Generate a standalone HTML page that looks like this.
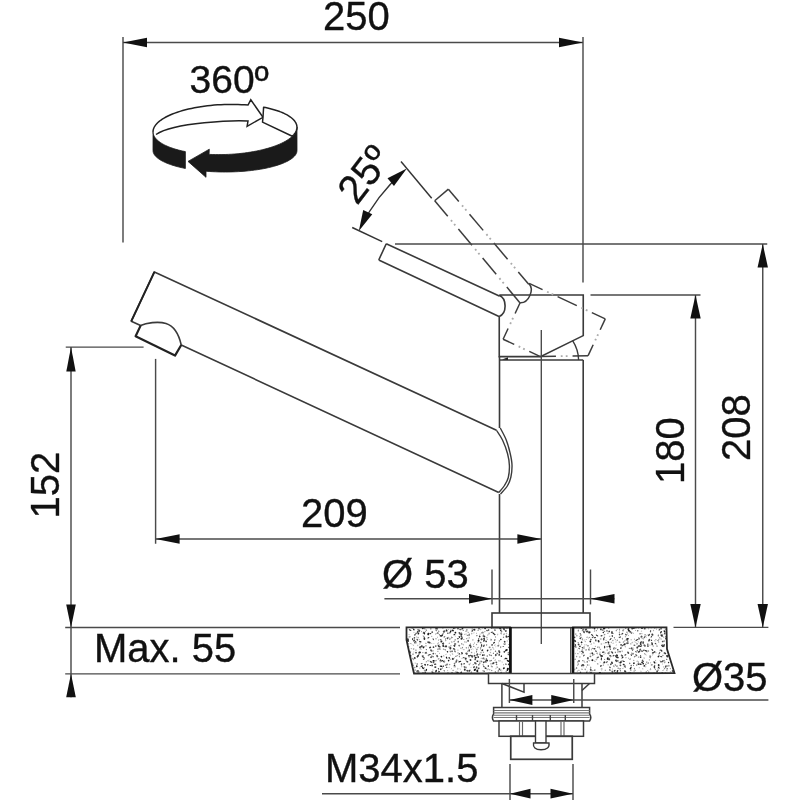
<!DOCTYPE html>
<html><head><meta charset="utf-8"><style>
html,body{margin:0;padding:0;background:#fff;}
svg{display:block;font-family:"Liberation Sans", sans-serif;will-change:transform;}
</style></head><body>
<svg width="800" height="800" viewBox="0 0 800 800">
<rect width="800" height="800" fill="#fff"/>
<line x1="123.00" y1="37.00" x2="123.00" y2="242.50" stroke="#4a4a4a" stroke-width="1.44" />
<line x1="583.00" y1="37.00" x2="583.00" y2="282.50" stroke="#4a4a4a" stroke-width="1.44" />
<line x1="123.00" y1="42.50" x2="583.00" y2="42.50" stroke="#4a4a4a" stroke-width="1.44" />
<polygon points="123.00,42.50 147.00,37.80 147.00,47.20" fill="#111"/>
<polygon points="583.00,42.50 559.00,47.20 559.00,37.80" fill="#111"/>
<text x="323" y="30" font-size="40" fill="#111" stroke="#111" stroke-width="0.35" text-anchor="start">250</text>
<text x="189.5" y="92.5" font-size="39" fill="#111" stroke="#111" stroke-width="0.35" text-anchor="start">360º</text>
<polygon points="296.96,126.99 296.92,128.12 296.74,129.25 296.41,130.38 295.94,131.52 295.32,132.64 294.56,133.77 293.66,134.88 292.62,135.98 291.44,137.07 290.12,138.14 288.67,139.20 287.10,140.23 285.39,141.25 283.56,142.24 281.62,143.20 279.55,144.14 277.38,145.04 275.10,145.92 272.71,146.76 270.23,147.57 267.66,148.33 265.00,149.06 262.26,149.76 259.44,150.40 256.55,151.01 253.60,151.57 250.59,152.09 247.53,152.56 244.42,152.99 241.27,153.37 238.09,153.69 234.88,153.97 231.66,154.20 228.41,154.38 225.17,154.51 221.92,154.59 218.67,154.61 215.44,154.59 212.23,154.51 209.05,154.38 209.30,149.20 188.00,161.40 206.00,177.30 206.00,171.24 209.21,171.48 212.45,171.67 215.72,171.82 219.01,171.93 222.31,171.99 225.62,172.00 228.93,171.97 232.23,171.89 235.51,171.77 238.77,171.60 242.00,171.39 245.20,171.14 248.35,170.84 251.45,170.50 254.50,170.11 257.49,169.69 260.40,169.22 263.24,168.72 266.01,168.17 268.68,167.59 271.26,166.97 273.75,166.32 276.13,165.64 278.41,164.92 280.57,164.17 282.61,163.40 284.53,162.59 286.33,161.76 288.00,160.91 289.53,160.03 290.93,159.14 292.19,158.23 293.31,157.30 294.28,156.35 295.11,155.40 295.79,154.43 296.32,153.45 296.70,152.47 296.92,151.49 297.00,150.50 296.96,126.99" fill="#1a1a1a" stroke="#1a1a1a" stroke-width="0.8" stroke-linejoin="round"/>
<polygon points="185.37,151.60 183.92,151.30 182.49,150.99 181.09,150.66 179.71,150.33 178.36,149.98 177.04,149.62 175.74,149.25 174.48,148.86 173.24,148.47 172.04,148.06 170.87,147.64 169.73,147.21 168.62,146.78 167.55,146.33 166.51,145.87 165.50,145.40 164.53,144.92 163.60,144.43 162.70,143.93 161.84,143.43 161.02,142.91 160.24,142.39 159.49,141.86 158.78,141.33 158.12,140.78 157.49,140.23 156.90,139.68 156.35,139.11 155.85,138.55 155.38,137.97 154.96,137.39 154.58,136.81 154.24,136.22 153.94,135.63 153.68,135.03 153.47,134.43 153.30,133.83 153.17,133.23 153.09,132.62 153.04,132.01 153.00,150.50 153.02,151.03 153.09,151.56 153.20,152.09 153.35,152.62 153.55,153.15 153.79,153.67 154.07,154.20 154.40,154.72 154.77,155.24 155.19,155.76 155.64,156.27 156.14,156.78 156.68,157.29 157.26,157.79 157.89,158.28 158.55,158.78 159.26,159.27 160.00,159.75 160.78,160.22 161.61,160.69 162.47,161.16 163.37,161.62 164.31,162.07 165.29,162.51 166.30,162.95 167.34,163.38 168.43,163.80 169.54,164.21 170.70,164.62 171.88,165.01 173.10,165.40 174.34,165.78 175.62,166.15 176.93,166.51 178.27,166.86 179.64,167.20 181.03,167.53 182.46,167.85 183.90,168.15 185.38,168.45" fill="#1a1a1a" stroke="#1a1a1a" stroke-width="0.8"/>
<path d="M153.04,132.01 L153.08,130.82 L153.29,129.62 L153.66,128.42 L154.18,127.23 L154.88,126.04 L155.73,124.86 L156.73,123.68 L157.90,122.53 L159.21,121.38 L160.68,120.26 L162.29,119.16 L164.05,118.08 L165.94,117.02 L167.97,116.00 L170.13,115.00 L172.41,114.04 L174.81,113.12 L177.33,112.23 L179.95,111.38 L182.68,110.57 L185.51,109.80 L188.42,109.08 L191.42,108.41 L194.49,107.78 L197.63,107.21 L200.84,106.68 L204.10,106.21 L207.41,105.79 L210.76,105.42 L214.14,105.11 L217.54,104.85 L220.96,104.65 L224.40,104.51 L227.83,104.42 L231.26,104.39 L234.67,104.42 L238.06,104.50 L241.42,104.64 L244.74,104.84 L248.02,105.09 L250.80,99.80 L263.00,117.30 L247.10,126.30 L248.00,121.00 C 235,120.3 175,122 156,134.5" fill="none" stroke="#222" stroke-width="1.49" stroke-linejoin="miter"/>
<polygon points="263.59,107.20 265.57,107.60 267.52,108.01 269.42,108.46 271.26,108.92 273.06,109.41 274.81,109.92 276.50,110.45 278.13,111.00 279.71,111.57 281.23,112.16 282.68,112.77 284.07,113.40 285.40,114.05 286.66,114.71 287.86,115.39 288.98,116.09 290.04,116.80 291.02,117.52 291.93,118.26 292.77,119.01 293.53,119.77 294.22,120.54 294.83,121.32 295.37,122.11 295.83,122.91 296.21,123.71 296.52,124.52 296.74,125.34 296.89,126.16 296.96,126.99 296.96,126.99 296.94,127.92 296.82,128.86 296.60,129.80 296.28,130.74 295.86,131.67 295.35,132.61 294.73,133.54 294.02,134.46 293.21,135.38 292.30,136.29 262.50,122.10 263.00,117.30" fill="#fff" stroke="#222" stroke-width="1.49" stroke-linejoin="round"/>
<path d="M360.92,226.79 A182,182 0 0 1 403.20,171.69" fill="none" stroke="#333" stroke-width="1.38"/>
<polygon points="406.81,168.58 393.94,185.91 387.51,178.25" fill="#111"/>
<polygon points="358.85,231.08 363.20,209.94 372.26,214.16" fill="#111"/>
<line x1="401.00" y1="161.50" x2="431.70" y2="198.20" stroke="#333" stroke-width="1.44" />
<line x1="352.20" y1="227.50" x2="382.20" y2="241.70" stroke="#333" stroke-width="1.44" />
<text x="357" y="206" font-size="40" fill="#111" stroke="#111" stroke-width="0.35" text-anchor="start" transform="rotate(-52.5 357 206)">25º</text>
<path d="M386.25,243.75 L499.25,296 M378.75,260 L499.0,316.4 M386.25,243.75 L378.75,260 M499.25,295.5 C506.5,298 507.5,313 499.25,316.4 M499.25,295 L583.25,295 L583.25,335.6 L540.4,356.6 L499.25,356.6 L499.25,316.4" fill="none" stroke="#3a3a3a" stroke-width="1.61"/>
<g transform="rotate(25 540.4 356.6)">
<line x1="405.43" y1="252.62" x2="407.06" y2="253.37" stroke="#aaa" stroke-width="1.84"/>
<line x1="409.95" y1="254.71" x2="411.58" y2="255.46" stroke="#aaa" stroke-width="1.84"/>
<line x1="439.74" y1="268.48" x2="441.37" y2="269.24" stroke="#aaa" stroke-width="1.84"/>
<line x1="444.26" y1="270.57" x2="445.89" y2="271.33" stroke="#aaa" stroke-width="1.84"/>
<line x1="474.05" y1="284.35" x2="475.68" y2="285.10" stroke="#aaa" stroke-width="1.84"/>
<line x1="478.57" y1="286.44" x2="480.20" y2="287.19" stroke="#aaa" stroke-width="1.84"/>
<line x1="386.25" y1="243.75" x2="400.91" y2="250.53" stroke="#3c3c3c" stroke-width="1.49" />
<line x1="415.97" y1="257.49" x2="435.22" y2="266.39" stroke="#3c3c3c" stroke-width="1.49" />
<line x1="450.28" y1="273.36" x2="469.53" y2="282.26" stroke="#3c3c3c" stroke-width="1.49" />
<line x1="484.59" y1="289.22" x2="499.25" y2="296.00" stroke="#3c3c3c" stroke-width="1.49" />
<line x1="401.65" y1="270.74" x2="403.28" y2="271.50" stroke="#aaa" stroke-width="1.84"/>
<line x1="406.16" y1="272.85" x2="407.78" y2="273.62" stroke="#aaa" stroke-width="1.84"/>
<line x1="435.87" y1="286.79" x2="437.50" y2="287.55" stroke="#aaa" stroke-width="1.84"/>
<line x1="440.38" y1="288.90" x2="442.01" y2="289.67" stroke="#aaa" stroke-width="1.84"/>
<line x1="470.09" y1="302.84" x2="471.72" y2="303.61" stroke="#aaa" stroke-width="1.84"/>
<line x1="474.60" y1="304.96" x2="476.23" y2="305.72" stroke="#aaa" stroke-width="1.84"/>
<line x1="378.75" y1="260.00" x2="397.14" y2="268.62" stroke="#3c3c3c" stroke-width="1.49" />
<line x1="412.17" y1="275.67" x2="431.36" y2="284.68" stroke="#3c3c3c" stroke-width="1.49" />
<line x1="446.39" y1="291.72" x2="465.58" y2="300.73" stroke="#3c3c3c" stroke-width="1.49" />
<line x1="480.61" y1="307.78" x2="499.00" y2="316.40" stroke="#3c3c3c" stroke-width="1.49" />
<line x1="386.25" y1="243.75" x2="378.75" y2="260.00" stroke="#3c3c3c" stroke-width="1.49" />
<path d="M499.25,295.5 C506.5,298 507.5,313 499.25,316.4" fill="none" stroke="#3c3c3c" stroke-width="1.49"/>
<line x1="519.03" y1="295.00" x2="520.83" y2="295.00" stroke="#aaa" stroke-width="1.84"/>
<line x1="524.01" y1="295.00" x2="525.81" y2="295.00" stroke="#aaa" stroke-width="1.84"/>
<line x1="556.83" y1="295.00" x2="558.63" y2="295.00" stroke="#aaa" stroke-width="1.84"/>
<line x1="561.81" y1="295.00" x2="563.61" y2="295.00" stroke="#aaa" stroke-width="1.84"/>
<line x1="499.25" y1="295.00" x2="514.05" y2="295.00" stroke="#3c3c3c" stroke-width="1.49" />
<line x1="530.65" y1="295.00" x2="551.85" y2="295.00" stroke="#3c3c3c" stroke-width="1.49" />
<line x1="568.45" y1="295.00" x2="583.25" y2="295.00" stroke="#3c3c3c" stroke-width="1.49" />
<line x1="583.25" y1="311.98" x2="583.25" y2="313.78" stroke="#aaa" stroke-width="1.84"/>
<line x1="583.25" y1="316.96" x2="583.25" y2="318.76" stroke="#aaa" stroke-width="1.84"/>
<line x1="583.25" y1="295.00" x2="583.25" y2="307.00" stroke="#3c3c3c" stroke-width="1.49" />
<line x1="583.25" y1="323.60" x2="583.25" y2="335.60" stroke="#3c3c3c" stroke-width="1.49" />
<line x1="564.81" y1="344.64" x2="563.19" y2="345.43" stroke="#aaa" stroke-width="1.84"/>
<line x1="560.33" y1="346.83" x2="558.72" y2="347.62" stroke="#aaa" stroke-width="1.84"/>
<line x1="583.25" y1="335.60" x2="569.28" y2="342.45" stroke="#3c3c3c" stroke-width="1.49" />
<line x1="554.37" y1="349.75" x2="540.40" y2="356.60" stroke="#3c3c3c" stroke-width="1.49" />
<line x1="523.14" y1="356.60" x2="521.35" y2="356.60" stroke="#aaa" stroke-width="1.84"/>
<line x1="518.16" y1="356.60" x2="516.37" y2="356.60" stroke="#aaa" stroke-width="1.84"/>
<line x1="540.40" y1="356.60" x2="528.12" y2="356.60" stroke="#3c3c3c" stroke-width="1.49" />
<line x1="511.52" y1="356.60" x2="499.25" y2="356.60" stroke="#3c3c3c" stroke-width="1.49" />
<line x1="499.25" y1="339.82" x2="499.25" y2="338.02" stroke="#aaa" stroke-width="1.84"/>
<line x1="499.25" y1="334.84" x2="499.25" y2="333.04" stroke="#aaa" stroke-width="1.84"/>
<line x1="499.25" y1="356.60" x2="499.25" y2="344.80" stroke="#3c3c3c" stroke-width="1.49" />
<line x1="499.25" y1="328.20" x2="499.25" y2="316.40" stroke="#3c3c3c" stroke-width="1.49" />
</g>
<path d="M572.6,340.6 A37,37 0 0 1 578.6,360" fill="none" stroke="#3a3a3a" stroke-width="1.38"/>
<line x1="499.50" y1="360.00" x2="583.20" y2="360.00" stroke="#3a3a3a" stroke-width="1.61" />
<line x1="499.50" y1="356.00" x2="499.50" y2="428.00" stroke="#3a3a3a" stroke-width="1.61" />
<polygon points="502,359.5 508,357.2 508,360" fill="#222"/>
<line x1="499.50" y1="494.00" x2="499.50" y2="613.00" stroke="#3a3a3a" stroke-width="1.61" />
<line x1="583.20" y1="360.00" x2="583.20" y2="613.00" stroke="#3a3a3a" stroke-width="1.61" />
<line x1="541.30" y1="330.00" x2="541.30" y2="644.00" stroke="#4a4a4a" stroke-width="1.38" />
<path d="M496.5,430.25 L154.4,271.9 L131.25,321.25 L140.6,325.6 C146,323 158,321 166,323.5 C174,326 179,335 181.25,345 L498.75,492.5" fill="none" stroke="#3a3a3a" stroke-width="1.61" stroke-linejoin="round"/>
<line x1="154.40" y1="271.90" x2="131.25" y2="321.25" stroke="#222" stroke-width="1.9" />
<path d="M140.6,325.6 L135.6,336.25 L175,355.6 L181.25,345" fill="none" stroke="#222" stroke-width="2.2" stroke-linejoin="round"/>
<path d="M496.50,430.25 C497.50,431.88 500.67,436.12 502.50,440.00 C504.33,443.88 506.35,449.25 507.50,453.50 C508.65,457.75 509.27,461.50 509.40,465.50 C509.53,469.50 509.12,474.17 508.30,477.50 C507.48,480.83 506.09,483.00 504.50,485.50 C502.91,488.00 499.71,491.33 498.75,492.50 " fill="none" stroke="#3a3a3a" stroke-width="1.38"/>
<path d="M500.25,428.00 C501.25,430.00 504.59,435.75 506.25,440.00 C507.91,444.25 509.24,449.33 510.20,453.50 C511.16,457.67 511.88,461.08 512.00,465.00 C512.12,468.92 511.68,473.50 510.90,477.00 C510.12,480.50 509.03,483.17 507.30,486.00 C505.57,488.83 501.63,492.67 500.50,494.00 " fill="none" stroke="#3a3a3a" stroke-width="1.38"/>
<line x1="155.60" y1="358.90" x2="155.60" y2="543.75" stroke="#4a4a4a" stroke-width="1.44" />
<line x1="155.60" y1="539.00" x2="541.40" y2="539.00" stroke="#4a4a4a" stroke-width="1.44" />
<polygon points="155.60,539.00 179.60,534.20 179.60,543.80" fill="#111"/>
<polygon points="541.40,539.00 517.40,543.80 517.40,534.20" fill="#111"/>
<text x="301" y="527" font-size="40" fill="#111" stroke="#111" stroke-width="0.35" text-anchor="start">209</text>
<line x1="65.75" y1="347.10" x2="143.60" y2="347.10" stroke="#4a4a4a" stroke-width="1.44" />
<line x1="71.00" y1="347.10" x2="71.00" y2="697.25" stroke="#4a4a4a" stroke-width="1.44" />
<polygon points="71.00,347.10 75.70,371.60 66.30,371.60" fill="#111"/>
<polygon points="71.00,627.50 66.20,604.50 75.80,604.50" fill="#111"/>
<polygon points="71.00,673.70 75.80,697.20 66.20,697.20" fill="#111"/>
<line x1="65.20" y1="627.50" x2="400.00" y2="627.50" stroke="#4a4a4a" stroke-width="1.44" />
<line x1="65.20" y1="673.90" x2="400.00" y2="673.90" stroke="#4a4a4a" stroke-width="1.44" />
<text x="59" y="518.5" font-size="40" fill="#111" stroke="#111" stroke-width="0.35" text-anchor="start" transform="rotate(-90 59 518.5)">152</text>
<text x="94" y="662" font-size="40" fill="#111" stroke="#111" stroke-width="0.35" text-anchor="start">Max. 55</text>
<line x1="395.00" y1="244.00" x2="767.25" y2="244.00" stroke="#4a4a4a" stroke-width="1.44" />
<line x1="590.50" y1="295.00" x2="700.50" y2="295.00" stroke="#4a4a4a" stroke-width="1.44" />
<line x1="673.50" y1="627.40" x2="768.40" y2="627.40" stroke="#4a4a4a" stroke-width="1.44" />
<line x1="762.75" y1="244.00" x2="762.75" y2="627.40" stroke="#4a4a4a" stroke-width="1.44" />
<line x1="695.50" y1="295.00" x2="695.50" y2="627.40" stroke="#4a4a4a" stroke-width="1.44" />
<polygon points="762.75,244.00 767.95,267.50 757.55,267.50" fill="#111"/>
<polygon points="762.75,627.40 757.55,603.90 767.95,603.90" fill="#111"/>
<polygon points="695.50,295.00 700.70,318.50 690.30,318.50" fill="#111"/>
<polygon points="695.50,627.40 690.30,603.90 700.70,603.90" fill="#111"/>
<text x="683.5" y="484" font-size="40" fill="#111" stroke="#111" stroke-width="0.35" text-anchor="start" transform="rotate(-90 683.5 484)">180</text>
<text x="750" y="461" font-size="40" fill="#111" stroke="#111" stroke-width="0.35" text-anchor="start" transform="rotate(-90 750 461)">208</text>
<line x1="384.40" y1="598.80" x2="614.40" y2="598.80" stroke="#4a4a4a" stroke-width="1.44" />
<line x1="492.00" y1="569.60" x2="492.00" y2="604.60" stroke="#4a4a4a" stroke-width="1.44" />
<line x1="590.50" y1="569.50" x2="590.50" y2="604.40" stroke="#4a4a4a" stroke-width="1.44" />
<polygon points="492.00,598.80 469.00,603.60 469.00,594.00" fill="#111"/>
<polygon points="590.50,598.80 614.50,594.00 614.50,603.60" fill="#111"/>
<text x="382" y="587.5" font-size="40" fill="#111" stroke="#111" stroke-width="0.35" text-anchor="start">Ø 53</text>
<rect x="492" y="613" width="98" height="14.6" fill="none" stroke="#3a3a3a" stroke-width="1.61"/>
<clipPath id="cl1"><polygon points="406.50,627.30 510.00,627.30 510.00,673.50 414.00,673.50 410.00,656.00 406.50,640.00"/></clipPath>
<g clip-path="url(#cl1)">
<ellipse cx="400.8" cy="625.4" rx="0.5" ry="0.6" transform="rotate(105 400.8 625.4)" fill="rgb(156,156,156)"/>
<ellipse cx="405.0" cy="625.6" rx="1.0" ry="0.7" transform="rotate(76 405.0 625.6)" fill="rgb(90,90,90)"/>
<ellipse cx="407.3" cy="625.3" rx="1.2" ry="1.0" transform="rotate(105 407.3 625.3)" fill="rgb(93,93,93)"/>
<ellipse cx="407.9" cy="625.6" rx="0.6" ry="0.6" transform="rotate(21 407.9 625.6)" fill="rgb(179,179,179)"/>
<ellipse cx="411.2" cy="627.1" rx="1.2" ry="0.8" transform="rotate(18 411.2 627.1)" fill="rgb(67,67,67)"/>
<ellipse cx="414.9" cy="626.5" rx="0.8" ry="0.6" transform="rotate(84 414.9 626.5)" fill="rgb(150,150,150)"/>
<ellipse cx="418.0" cy="625.9" rx="0.8" ry="0.9" transform="rotate(103 418.0 625.9)" fill="rgb(30,30,30)"/>
<ellipse cx="419.6" cy="627.3" rx="0.7" ry="0.8" transform="rotate(92 419.6 627.3)" fill="rgb(125,125,125)"/>
<ellipse cx="424.5" cy="627.5" rx="1.1" ry="0.9" transform="rotate(61 424.5 627.5)" fill="rgb(60,60,60)"/>
<ellipse cx="428.8" cy="625.2" rx="1.3" ry="0.6" transform="rotate(116 428.8 625.2)" fill="rgb(59,59,59)"/>
<ellipse cx="433.8" cy="627.1" rx="1.0" ry="0.9" transform="rotate(169 433.8 627.1)" fill="rgb(22,22,22)"/>
<ellipse cx="434.7" cy="626.6" rx="0.6" ry="0.5" transform="rotate(72 434.7 626.6)" fill="rgb(141,141,141)"/>
<ellipse cx="438.8" cy="626.3" rx="1.0" ry="0.7" transform="rotate(147 438.8 626.3)" fill="rgb(37,37,37)"/>
<ellipse cx="441.2" cy="625.7" rx="0.7" ry="0.8" transform="rotate(27 441.2 625.7)" fill="rgb(139,139,139)"/>
<ellipse cx="442.1" cy="625.6" rx="1.1" ry="0.8" transform="rotate(51 442.1 625.6)" fill="rgb(53,53,53)"/>
<ellipse cx="444.6" cy="626.4" rx="0.7" ry="0.5" transform="rotate(171 444.6 626.4)" fill="rgb(175,175,175)"/>
<ellipse cx="448.5" cy="626.9" rx="1.0" ry="0.8" transform="rotate(71 448.5 626.9)" fill="rgb(181,181,181)"/>
<ellipse cx="450.4" cy="625.3" rx="0.5" ry="0.4" transform="rotate(79 450.4 625.3)" fill="rgb(136,136,136)"/>
<ellipse cx="452.3" cy="626.6" rx="1.2" ry="0.8" transform="rotate(110 452.3 626.6)" fill="rgb(66,66,66)"/>
<ellipse cx="454.8" cy="625.5" rx="0.9" ry="0.8" transform="rotate(66 454.8 625.5)" fill="rgb(187,187,187)"/>
<ellipse cx="461.0" cy="626.3" rx="0.8" ry="0.7" transform="rotate(86 461.0 626.3)" fill="rgb(53,53,53)"/>
<ellipse cx="464.2" cy="626.3" rx="1.5" ry="0.7" transform="rotate(165 464.2 626.3)" fill="rgb(89,89,89)"/>
<ellipse cx="467.0" cy="625.8" rx="0.6" ry="0.7" transform="rotate(66 467.0 625.8)" fill="rgb(176,176,176)"/>
<ellipse cx="468.0" cy="627.0" rx="1.0" ry="0.5" transform="rotate(110 468.0 627.0)" fill="rgb(138,138,138)"/>
<ellipse cx="472.2" cy="627.0" rx="0.9" ry="0.7" transform="rotate(36 472.2 627.0)" fill="rgb(49,49,49)"/>
<ellipse cx="477.5" cy="626.2" rx="1.2" ry="0.7" transform="rotate(172 477.5 626.2)" fill="rgb(64,64,64)"/>
<ellipse cx="478.9" cy="625.6" rx="0.9" ry="0.6" transform="rotate(86 478.9 625.6)" fill="rgb(20,20,20)"/>
<ellipse cx="482.3" cy="627.1" rx="1.2" ry="1.0" transform="rotate(86 482.3 627.1)" fill="rgb(45,45,45)"/>
<ellipse cx="483.7" cy="627.1" rx="1.0" ry="0.8" transform="rotate(83 483.7 627.1)" fill="rgb(160,160,160)"/>
<ellipse cx="487.7" cy="625.2" rx="1.5" ry="0.6" transform="rotate(163 487.7 625.2)" fill="rgb(95,95,95)"/>
<ellipse cx="493.5" cy="626.7" rx="0.8" ry="0.5" transform="rotate(144 493.5 626.7)" fill="rgb(111,111,111)"/>
<ellipse cx="495.5" cy="625.3" rx="0.6" ry="0.8" transform="rotate(149 495.5 625.3)" fill="rgb(134,134,134)"/>
<ellipse cx="496.7" cy="625.7" rx="0.9" ry="0.8" transform="rotate(98 496.7 625.7)" fill="rgb(53,53,53)"/>
<ellipse cx="501.0" cy="625.2" rx="1.0" ry="0.7" transform="rotate(76 501.0 625.2)" fill="rgb(176,176,176)"/>
<ellipse cx="503.8" cy="626.3" rx="0.8" ry="0.4" transform="rotate(140 503.8 626.3)" fill="rgb(166,166,166)"/>
<ellipse cx="505.6" cy="627.0" rx="0.8" ry="0.8" transform="rotate(100 505.6 627.0)" fill="rgb(35,35,35)"/>
<ellipse cx="507.4" cy="626.3" rx="1.0" ry="0.4" transform="rotate(10 507.4 626.3)" fill="rgb(181,181,181)"/>
<ellipse cx="509.7" cy="625.1" rx="1.1" ry="0.6" transform="rotate(80 509.7 625.1)" fill="rgb(28,28,28)"/>
<ellipse cx="513.4" cy="626.3" rx="0.9" ry="0.6" transform="rotate(145 513.4 626.3)" fill="rgb(178,178,178)"/>
<ellipse cx="401.3" cy="628.2" rx="1.0" ry="0.8" transform="rotate(161 401.3 628.2)" fill="rgb(181,181,181)"/>
<ellipse cx="403.1" cy="628.8" rx="0.7" ry="0.5" transform="rotate(77 403.1 628.8)" fill="rgb(140,140,140)"/>
<ellipse cx="405.8" cy="628.4" rx="1.3" ry="1.0" transform="rotate(26 405.8 628.4)" fill="rgb(66,66,66)"/>
<ellipse cx="410.1" cy="630.1" rx="1.5" ry="0.7" transform="rotate(29 410.1 630.1)" fill="rgb(82,82,82)"/>
<ellipse cx="412.1" cy="628.2" rx="1.1" ry="0.6" transform="rotate(35 412.1 628.2)" fill="rgb(163,163,163)"/>
<ellipse cx="413.8" cy="629.5" rx="1.1" ry="0.7" transform="rotate(69 413.8 629.5)" fill="rgb(22,22,22)"/>
<ellipse cx="418.5" cy="630.0" rx="1.4" ry="0.6" transform="rotate(7 418.5 630.0)" fill="rgb(54,54,54)"/>
<ellipse cx="422.8" cy="628.3" rx="1.0" ry="1.0" transform="rotate(73 422.8 628.3)" fill="rgb(53,53,53)"/>
<ellipse cx="424.8" cy="628.9" rx="0.7" ry="0.5" transform="rotate(77 424.8 628.9)" fill="rgb(133,133,133)"/>
<ellipse cx="426.2" cy="630.0" rx="1.0" ry="0.4" transform="rotate(12 426.2 630.0)" fill="rgb(138,138,138)"/>
<ellipse cx="430.8" cy="628.8" rx="0.8" ry="0.8" transform="rotate(112 430.8 628.8)" fill="rgb(144,144,144)"/>
<ellipse cx="436.3" cy="628.3" rx="1.4" ry="0.8" transform="rotate(137 436.3 628.3)" fill="rgb(87,87,87)"/>
<ellipse cx="437.2" cy="628.9" rx="1.0" ry="0.6" transform="rotate(7 437.2 628.9)" fill="rgb(52,52,52)"/>
<ellipse cx="442.9" cy="628.2" rx="0.9" ry="0.7" transform="rotate(98 442.9 628.2)" fill="rgb(173,173,173)"/>
<ellipse cx="446.5" cy="630.1" rx="0.9" ry="0.7" transform="rotate(150 446.5 630.1)" fill="rgb(45,45,45)"/>
<ellipse cx="448.6" cy="629.3" rx="0.7" ry="0.4" transform="rotate(3 448.6 629.3)" fill="rgb(126,126,126)"/>
<ellipse cx="451.0" cy="629.9" rx="0.5" ry="0.7" transform="rotate(157 451.0 629.9)" fill="rgb(158,158,158)"/>
<ellipse cx="453.7" cy="628.3" rx="0.9" ry="0.8" transform="rotate(48 453.7 628.3)" fill="rgb(40,40,40)"/>
<ellipse cx="454.6" cy="628.5" rx="1.1" ry="0.5" transform="rotate(174 454.6 628.5)" fill="rgb(114,114,114)"/>
<ellipse cx="458.0" cy="628.5" rx="1.0" ry="0.8" transform="rotate(118 458.0 628.5)" fill="rgb(84,84,84)"/>
<ellipse cx="460.4" cy="629.6" rx="1.4" ry="0.6" transform="rotate(8 460.4 629.6)" fill="rgb(95,95,95)"/>
<ellipse cx="462.5" cy="628.4" rx="1.2" ry="0.8" transform="rotate(118 462.5 628.4)" fill="rgb(39,39,39)"/>
<ellipse cx="466.9" cy="629.9" rx="0.7" ry="0.8" transform="rotate(51 466.9 629.9)" fill="rgb(129,129,129)"/>
<ellipse cx="472.1" cy="628.9" rx="0.9" ry="0.6" transform="rotate(136 472.1 628.9)" fill="rgb(177,177,177)"/>
<ellipse cx="474.3" cy="629.7" rx="1.2" ry="0.9" transform="rotate(15 474.3 629.7)" fill="rgb(49,49,49)"/>
<ellipse cx="479.0" cy="628.8" rx="0.7" ry="0.8" transform="rotate(88 479.0 628.8)" fill="rgb(51,51,51)"/>
<ellipse cx="480.6" cy="629.7" rx="0.8" ry="0.6" transform="rotate(12 480.6 629.7)" fill="rgb(177,177,177)"/>
<ellipse cx="485.1" cy="628.3" rx="0.9" ry="0.9" transform="rotate(42 485.1 628.3)" fill="rgb(46,46,46)"/>
<ellipse cx="488.6" cy="630.0" rx="0.7" ry="0.8" transform="rotate(14 488.6 630.0)" fill="rgb(45,45,45)"/>
<ellipse cx="491.4" cy="628.3" rx="0.7" ry="0.6" transform="rotate(87 491.4 628.3)" fill="rgb(111,111,111)"/>
<ellipse cx="494.9" cy="630.1" rx="0.9" ry="0.8" transform="rotate(51 494.9 630.1)" fill="rgb(86,86,86)"/>
<ellipse cx="500.2" cy="628.4" rx="1.1" ry="0.7" transform="rotate(148 500.2 628.4)" fill="rgb(29,29,29)"/>
<ellipse cx="503.9" cy="628.8" rx="0.9" ry="1.0" transform="rotate(13 503.9 628.8)" fill="rgb(46,46,46)"/>
<ellipse cx="504.2" cy="629.5" rx="1.0" ry="0.8" transform="rotate(50 504.2 629.5)" fill="rgb(85,85,85)"/>
<ellipse cx="506.9" cy="628.5" rx="1.0" ry="0.6" transform="rotate(1 506.9 628.5)" fill="rgb(130,130,130)"/>
<ellipse cx="510.5" cy="628.8" rx="0.8" ry="0.7" transform="rotate(22 510.5 628.8)" fill="rgb(60,60,60)"/>
<ellipse cx="512.7" cy="628.4" rx="0.7" ry="0.8" transform="rotate(128 512.7 628.4)" fill="rgb(135,135,135)"/>
<ellipse cx="402.3" cy="631.0" rx="0.7" ry="0.8" transform="rotate(14 402.3 631.0)" fill="rgb(185,185,185)"/>
<ellipse cx="405.9" cy="630.3" rx="0.9" ry="0.5" transform="rotate(79 405.9 630.3)" fill="rgb(144,144,144)"/>
<ellipse cx="414.0" cy="632.5" rx="0.6" ry="0.4" transform="rotate(81 414.0 632.5)" fill="rgb(162,162,162)"/>
<ellipse cx="417.6" cy="631.9" rx="0.7" ry="1.0" transform="rotate(31 417.6 631.9)" fill="rgb(36,36,36)"/>
<ellipse cx="419.3" cy="630.9" rx="1.3" ry="0.8" transform="rotate(118 419.3 630.9)" fill="rgb(71,71,71)"/>
<ellipse cx="421.6" cy="631.6" rx="0.6" ry="0.5" transform="rotate(90 421.6 631.6)" fill="rgb(136,136,136)"/>
<ellipse cx="425.5" cy="631.6" rx="0.7" ry="0.7" transform="rotate(25 425.5 631.6)" fill="rgb(164,164,164)"/>
<ellipse cx="426.5" cy="630.4" rx="0.6" ry="0.5" transform="rotate(146 426.5 630.4)" fill="rgb(143,143,143)"/>
<ellipse cx="432.2" cy="632.1" rx="0.9" ry="0.9" transform="rotate(50 432.2 632.1)" fill="rgb(83,83,83)"/>
<ellipse cx="436.3" cy="630.5" rx="0.9" ry="0.7" transform="rotate(17 436.3 630.5)" fill="rgb(137,137,137)"/>
<ellipse cx="438.7" cy="631.2" rx="0.8" ry="0.5" transform="rotate(23 438.7 631.2)" fill="rgb(112,112,112)"/>
<ellipse cx="444.1" cy="631.5" rx="1.4" ry="1.0" transform="rotate(154 444.1 631.5)" fill="rgb(87,87,87)"/>
<ellipse cx="446.7" cy="630.8" rx="0.8" ry="0.8" transform="rotate(169 446.7 630.8)" fill="rgb(33,33,33)"/>
<ellipse cx="450.6" cy="631.6" rx="1.3" ry="0.7" transform="rotate(116 450.6 631.6)" fill="rgb(24,24,24)"/>
<ellipse cx="452.8" cy="630.5" rx="1.2" ry="0.9" transform="rotate(18 452.8 630.5)" fill="rgb(34,34,34)"/>
<ellipse cx="455.4" cy="632.7" rx="0.9" ry="0.9" transform="rotate(2 455.4 632.7)" fill="rgb(20,20,20)"/>
<ellipse cx="461.5" cy="632.5" rx="0.6" ry="0.5" transform="rotate(127 461.5 632.5)" fill="rgb(162,162,162)"/>
<ellipse cx="463.2" cy="630.3" rx="0.9" ry="0.6" transform="rotate(41 463.2 630.3)" fill="rgb(142,142,142)"/>
<ellipse cx="466.1" cy="631.2" rx="0.9" ry="0.7" transform="rotate(123 466.1 631.2)" fill="rgb(156,156,156)"/>
<ellipse cx="468.1" cy="632.3" rx="0.8" ry="0.5" transform="rotate(56 468.1 632.3)" fill="rgb(135,135,135)"/>
<ellipse cx="472.3" cy="630.8" rx="1.3" ry="0.7" transform="rotate(110 472.3 630.8)" fill="rgb(83,83,83)"/>
<ellipse cx="478.1" cy="630.3" rx="0.7" ry="0.7" transform="rotate(71 478.1 630.3)" fill="rgb(133,133,133)"/>
<ellipse cx="482.9" cy="632.5" rx="1.1" ry="0.8" transform="rotate(34 482.9 632.5)" fill="rgb(152,152,152)"/>
<ellipse cx="484.9" cy="631.6" rx="0.7" ry="0.7" transform="rotate(177 484.9 631.6)" fill="rgb(157,157,157)"/>
<ellipse cx="487.0" cy="630.5" rx="0.8" ry="0.7" transform="rotate(101 487.0 630.5)" fill="rgb(35,35,35)"/>
<ellipse cx="491.8" cy="632.3" rx="1.3" ry="0.6" transform="rotate(166 491.8 632.3)" fill="rgb(89,89,89)"/>
<ellipse cx="500.8" cy="630.3" rx="0.8" ry="1.0" transform="rotate(35 500.8 630.3)" fill="rgb(52,52,52)"/>
<ellipse cx="501.6" cy="631.8" rx="0.7" ry="0.8" transform="rotate(47 501.6 631.8)" fill="rgb(115,115,115)"/>
<ellipse cx="505.9" cy="631.0" rx="0.7" ry="0.9" transform="rotate(4 505.9 631.0)" fill="rgb(28,28,28)"/>
<ellipse cx="511.7" cy="631.2" rx="1.0" ry="0.8" transform="rotate(33 511.7 631.2)" fill="rgb(83,83,83)"/>
<ellipse cx="402.0" cy="634.4" rx="0.7" ry="0.5" transform="rotate(14 402.0 634.4)" fill="rgb(186,186,186)"/>
<ellipse cx="403.1" cy="634.8" rx="0.8" ry="0.6" transform="rotate(98 403.1 634.8)" fill="rgb(90,90,90)"/>
<ellipse cx="405.6" cy="633.9" rx="0.8" ry="0.8" transform="rotate(17 405.6 633.9)" fill="rgb(46,46,46)"/>
<ellipse cx="409.1" cy="634.6" rx="0.6" ry="0.6" transform="rotate(160 409.1 634.6)" fill="rgb(189,189,189)"/>
<ellipse cx="415.0" cy="634.8" rx="0.9" ry="0.7" transform="rotate(133 415.0 634.8)" fill="rgb(52,52,52)"/>
<ellipse cx="416.1" cy="633.4" rx="0.8" ry="0.9" transform="rotate(34 416.1 633.4)" fill="rgb(94,94,94)"/>
<ellipse cx="418.4" cy="633.5" rx="1.1" ry="0.8" transform="rotate(118 418.4 633.5)" fill="rgb(32,32,32)"/>
<ellipse cx="423.4" cy="633.1" rx="1.0" ry="0.7" transform="rotate(7 423.4 633.1)" fill="rgb(157,157,157)"/>
<ellipse cx="424.2" cy="633.1" rx="1.5" ry="0.8" transform="rotate(67 424.2 633.1)" fill="rgb(29,29,29)"/>
<ellipse cx="428.3" cy="634.0" rx="1.3" ry="1.0" transform="rotate(115 428.3 634.0)" fill="rgb(33,33,33)"/>
<ellipse cx="430.4" cy="633.7" rx="1.0" ry="0.6" transform="rotate(7 430.4 633.7)" fill="rgb(52,52,52)"/>
<ellipse cx="435.9" cy="633.9" rx="0.9" ry="0.4" transform="rotate(143 435.9 633.9)" fill="rgb(114,114,114)"/>
<ellipse cx="437.8" cy="633.0" rx="1.0" ry="0.8" transform="rotate(16 437.8 633.0)" fill="rgb(88,88,88)"/>
<ellipse cx="439.4" cy="634.6" rx="0.7" ry="0.5" transform="rotate(56 439.4 634.6)" fill="rgb(116,116,116)"/>
<ellipse cx="443.1" cy="633.7" rx="1.0" ry="0.8" transform="rotate(116 443.1 633.7)" fill="rgb(156,156,156)"/>
<ellipse cx="447.9" cy="633.2" rx="0.8" ry="0.8" transform="rotate(83 447.9 633.2)" fill="rgb(66,66,66)"/>
<ellipse cx="449.8" cy="632.8" rx="0.9" ry="0.8" transform="rotate(103 449.8 632.8)" fill="rgb(121,121,121)"/>
<ellipse cx="454.4" cy="634.7" rx="1.0" ry="0.6" transform="rotate(167 454.4 634.7)" fill="rgb(41,41,41)"/>
<ellipse cx="459.7" cy="633.3" rx="1.5" ry="1.0" transform="rotate(57 459.7 633.3)" fill="rgb(81,81,81)"/>
<ellipse cx="461.4" cy="634.5" rx="1.3" ry="0.9" transform="rotate(115 461.4 634.5)" fill="rgb(40,40,40)"/>
<ellipse cx="464.6" cy="634.4" rx="0.6" ry="0.6" transform="rotate(39 464.6 634.4)" fill="rgb(182,182,182)"/>
<ellipse cx="466.0" cy="634.1" rx="0.6" ry="0.5" transform="rotate(7 466.0 634.1)" fill="rgb(134,134,134)"/>
<ellipse cx="469.1" cy="634.8" rx="1.4" ry="0.6" transform="rotate(99 469.1 634.8)" fill="rgb(78,78,78)"/>
<ellipse cx="471.8" cy="633.6" rx="0.8" ry="0.6" transform="rotate(80 471.8 633.6)" fill="rgb(157,157,157)"/>
<ellipse cx="473.9" cy="632.9" rx="0.8" ry="0.5" transform="rotate(140 473.9 632.9)" fill="rgb(189,189,189)"/>
<ellipse cx="476.6" cy="633.3" rx="0.6" ry="0.5" transform="rotate(66 476.6 633.3)" fill="rgb(165,165,165)"/>
<ellipse cx="480.1" cy="634.1" rx="0.5" ry="0.5" transform="rotate(140 480.1 634.1)" fill="rgb(150,150,150)"/>
<ellipse cx="481.9" cy="632.9" rx="0.7" ry="0.8" transform="rotate(5 481.9 632.9)" fill="rgb(127,127,127)"/>
<ellipse cx="483.4" cy="634.4" rx="0.6" ry="0.5" transform="rotate(52 483.4 634.4)" fill="rgb(172,172,172)"/>
<ellipse cx="487.9" cy="634.9" rx="0.9" ry="0.5" transform="rotate(110 487.9 634.9)" fill="rgb(154,154,154)"/>
<ellipse cx="489.1" cy="633.6" rx="1.0" ry="0.6" transform="rotate(90 489.1 633.6)" fill="rgb(142,142,142)"/>
<ellipse cx="493.4" cy="633.3" rx="1.1" ry="0.7" transform="rotate(36 493.4 633.3)" fill="rgb(24,24,24)"/>
<ellipse cx="494.6" cy="634.5" rx="1.0" ry="0.7" transform="rotate(21 494.6 634.5)" fill="rgb(53,53,53)"/>
<ellipse cx="497.6" cy="634.5" rx="1.0" ry="0.6" transform="rotate(124 497.6 634.5)" fill="rgb(184,184,184)"/>
<ellipse cx="501.1" cy="633.5" rx="1.0" ry="0.7" transform="rotate(48 501.1 633.5)" fill="rgb(157,157,157)"/>
<ellipse cx="504.0" cy="634.3" rx="1.0" ry="0.6" transform="rotate(111 504.0 634.3)" fill="rgb(132,132,132)"/>
<ellipse cx="506.5" cy="633.6" rx="0.7" ry="0.8" transform="rotate(167 506.5 633.6)" fill="rgb(184,184,184)"/>
<ellipse cx="508.9" cy="634.7" rx="0.6" ry="0.5" transform="rotate(78 508.9 634.7)" fill="rgb(190,190,190)"/>
<ellipse cx="510.5" cy="635.1" rx="0.9" ry="0.8" transform="rotate(10 510.5 635.1)" fill="rgb(22,22,22)"/>
<ellipse cx="513.3" cy="633.6" rx="0.8" ry="0.6" transform="rotate(106 513.3 633.6)" fill="rgb(148,148,148)"/>
<ellipse cx="400.5" cy="637.0" rx="0.6" ry="0.8" transform="rotate(127 400.5 637.0)" fill="rgb(141,141,141)"/>
<ellipse cx="403.8" cy="635.6" rx="1.2" ry="0.7" transform="rotate(174 403.8 635.6)" fill="rgb(53,53,53)"/>
<ellipse cx="409.3" cy="636.9" rx="0.8" ry="0.6" transform="rotate(163 409.3 636.9)" fill="rgb(131,131,131)"/>
<ellipse cx="410.5" cy="636.8" rx="0.6" ry="0.4" transform="rotate(2 410.5 636.8)" fill="rgb(123,123,123)"/>
<ellipse cx="414.4" cy="637.8" rx="0.9" ry="0.8" transform="rotate(117 414.4 637.8)" fill="rgb(84,84,84)"/>
<ellipse cx="416.7" cy="637.0" rx="0.5" ry="0.7" transform="rotate(129 416.7 637.0)" fill="rgb(171,171,171)"/>
<ellipse cx="418.2" cy="637.6" rx="0.8" ry="0.7" transform="rotate(32 418.2 637.6)" fill="rgb(167,167,167)"/>
<ellipse cx="423.4" cy="636.1" rx="0.6" ry="0.8" transform="rotate(128 423.4 636.1)" fill="rgb(143,143,143)"/>
<ellipse cx="424.1" cy="636.8" rx="1.0" ry="0.6" transform="rotate(53 424.1 636.8)" fill="rgb(143,143,143)"/>
<ellipse cx="428.4" cy="637.7" rx="1.1" ry="0.6" transform="rotate(152 428.4 637.7)" fill="rgb(50,50,50)"/>
<ellipse cx="431.7" cy="636.4" rx="0.7" ry="0.7" transform="rotate(85 431.7 636.4)" fill="rgb(178,178,178)"/>
<ellipse cx="437.5" cy="637.3" rx="0.7" ry="0.5" transform="rotate(105 437.5 637.3)" fill="rgb(189,189,189)"/>
<ellipse cx="440.5" cy="635.8" rx="0.8" ry="0.8" transform="rotate(62 440.5 635.8)" fill="rgb(40,40,40)"/>
<ellipse cx="442.0" cy="635.5" rx="1.3" ry="0.8" transform="rotate(133 442.0 635.5)" fill="rgb(28,28,28)"/>
<ellipse cx="444.4" cy="636.9" rx="1.0" ry="0.7" transform="rotate(158 444.4 636.9)" fill="rgb(118,118,118)"/>
<ellipse cx="448.8" cy="637.2" rx="0.6" ry="0.5" transform="rotate(6 448.8 637.2)" fill="rgb(114,114,114)"/>
<ellipse cx="451.6" cy="637.5" rx="1.0" ry="0.7" transform="rotate(86 451.6 637.5)" fill="rgb(146,146,146)"/>
<ellipse cx="452.3" cy="637.5" rx="0.7" ry="0.5" transform="rotate(4 452.3 637.5)" fill="rgb(143,143,143)"/>
<ellipse cx="455.3" cy="636.1" rx="0.7" ry="0.5" transform="rotate(91 455.3 636.1)" fill="rgb(187,187,187)"/>
<ellipse cx="459.4" cy="637.0" rx="1.0" ry="0.7" transform="rotate(62 459.4 637.0)" fill="rgb(32,32,32)"/>
<ellipse cx="461.6" cy="636.8" rx="1.4" ry="0.6" transform="rotate(31 461.6 636.8)" fill="rgb(56,56,56)"/>
<ellipse cx="467.5" cy="635.4" rx="0.8" ry="0.7" transform="rotate(174 467.5 635.4)" fill="rgb(133,133,133)"/>
<ellipse cx="469.1" cy="637.9" rx="0.8" ry="0.5" transform="rotate(169 469.1 637.9)" fill="rgb(137,137,137)"/>
<ellipse cx="476.9" cy="635.7" rx="0.6" ry="0.8" transform="rotate(76 476.9 635.7)" fill="rgb(121,121,121)"/>
<ellipse cx="479.7" cy="636.4" rx="1.0" ry="0.8" transform="rotate(68 479.7 636.4)" fill="rgb(41,41,41)"/>
<ellipse cx="482.9" cy="636.0" rx="0.8" ry="0.7" transform="rotate(116 482.9 636.0)" fill="rgb(187,187,187)"/>
<ellipse cx="484.1" cy="636.2" rx="1.4" ry="0.8" transform="rotate(31 484.1 636.2)" fill="rgb(61,61,61)"/>
<ellipse cx="486.9" cy="637.4" rx="0.6" ry="0.6" transform="rotate(91 486.9 637.4)" fill="rgb(140,140,140)"/>
<ellipse cx="495.5" cy="637.0" rx="0.6" ry="0.8" transform="rotate(176 495.5 637.0)" fill="rgb(143,143,143)"/>
<ellipse cx="503.5" cy="637.3" rx="0.6" ry="0.7" transform="rotate(51 503.5 637.3)" fill="rgb(123,123,123)"/>
<ellipse cx="506.3" cy="636.6" rx="1.4" ry="0.7" transform="rotate(90 506.3 636.6)" fill="rgb(48,48,48)"/>
<ellipse cx="508.2" cy="636.6" rx="1.2" ry="0.7" transform="rotate(163 508.2 636.6)" fill="rgb(51,51,51)"/>
<ellipse cx="510.3" cy="636.9" rx="0.8" ry="0.5" transform="rotate(153 510.3 636.9)" fill="rgb(184,184,184)"/>
<ellipse cx="513.6" cy="637.1" rx="0.7" ry="0.7" transform="rotate(161 513.6 637.1)" fill="rgb(122,122,122)"/>
<ellipse cx="400.6" cy="639.0" rx="0.6" ry="0.7" transform="rotate(82 400.6 639.0)" fill="rgb(171,171,171)"/>
<ellipse cx="404.2" cy="639.1" rx="1.1" ry="0.5" transform="rotate(140 404.2 639.1)" fill="rgb(151,151,151)"/>
<ellipse cx="407.9" cy="639.4" rx="1.3" ry="1.0" transform="rotate(63 407.9 639.4)" fill="rgb(86,86,86)"/>
<ellipse cx="412.6" cy="639.2" rx="1.1" ry="0.6" transform="rotate(94 412.6 639.2)" fill="rgb(67,67,67)"/>
<ellipse cx="414.1" cy="640.5" rx="1.2" ry="0.7" transform="rotate(131 414.1 640.5)" fill="rgb(35,35,35)"/>
<ellipse cx="417.2" cy="639.7" rx="1.0" ry="0.6" transform="rotate(75 417.2 639.7)" fill="rgb(29,29,29)"/>
<ellipse cx="419.3" cy="639.8" rx="0.7" ry="0.5" transform="rotate(169 419.3 639.8)" fill="rgb(161,161,161)"/>
<ellipse cx="424.4" cy="638.6" rx="1.3" ry="0.9" transform="rotate(84 424.4 638.6)" fill="rgb(44,44,44)"/>
<ellipse cx="433.3" cy="639.2" rx="1.1" ry="0.6" transform="rotate(64 433.3 639.2)" fill="rgb(80,80,80)"/>
<ellipse cx="436.0" cy="638.7" rx="0.7" ry="0.6" transform="rotate(87 436.0 638.7)" fill="rgb(133,133,133)"/>
<ellipse cx="438.5" cy="640.1" rx="0.9" ry="0.5" transform="rotate(77 438.5 640.1)" fill="rgb(172,172,172)"/>
<ellipse cx="440.7" cy="639.7" rx="1.1" ry="0.7" transform="rotate(15 440.7 639.7)" fill="rgb(117,117,117)"/>
<ellipse cx="445.6" cy="638.9" rx="0.9" ry="0.5" transform="rotate(118 445.6 638.9)" fill="rgb(119,119,119)"/>
<ellipse cx="447.5" cy="638.3" rx="0.9" ry="0.9" transform="rotate(141 447.5 638.3)" fill="rgb(64,64,64)"/>
<ellipse cx="449.9" cy="639.0" rx="0.9" ry="0.7" transform="rotate(120 449.9 639.0)" fill="rgb(121,121,121)"/>
<ellipse cx="455.1" cy="639.8" rx="0.9" ry="0.6" transform="rotate(100 455.1 639.8)" fill="rgb(124,124,124)"/>
<ellipse cx="457.9" cy="638.6" rx="1.1" ry="0.6" transform="rotate(163 457.9 638.6)" fill="rgb(79,79,79)"/>
<ellipse cx="461.6" cy="638.6" rx="1.2" ry="0.9" transform="rotate(151 461.6 638.6)" fill="rgb(40,40,40)"/>
<ellipse cx="463.6" cy="639.5" rx="1.0" ry="0.5" transform="rotate(180 463.6 639.5)" fill="rgb(163,163,163)"/>
<ellipse cx="466.8" cy="638.5" rx="0.9" ry="0.4" transform="rotate(123 466.8 638.5)" fill="rgb(115,115,115)"/>
<ellipse cx="472.9" cy="639.9" rx="0.7" ry="0.7" transform="rotate(61 472.9 639.9)" fill="rgb(156,156,156)"/>
<ellipse cx="478.7" cy="638.9" rx="0.7" ry="0.7" transform="rotate(149 478.7 638.9)" fill="rgb(65,65,65)"/>
<ellipse cx="481.6" cy="639.3" rx="1.1" ry="1.0" transform="rotate(143 481.6 639.3)" fill="rgb(83,83,83)"/>
<ellipse cx="484.1" cy="638.8" rx="1.2" ry="0.8" transform="rotate(72 484.1 638.8)" fill="rgb(25,25,25)"/>
<ellipse cx="487.2" cy="639.1" rx="0.7" ry="0.4" transform="rotate(34 487.2 639.1)" fill="rgb(115,115,115)"/>
<ellipse cx="490.8" cy="639.6" rx="1.0" ry="0.8" transform="rotate(68 490.8 639.6)" fill="rgb(188,188,188)"/>
<ellipse cx="491.4" cy="639.8" rx="1.0" ry="0.4" transform="rotate(120 491.4 639.8)" fill="rgb(115,115,115)"/>
<ellipse cx="494.8" cy="640.0" rx="0.8" ry="0.6" transform="rotate(165 494.8 640.0)" fill="rgb(32,32,32)"/>
<ellipse cx="500.8" cy="639.5" rx="0.9" ry="0.7" transform="rotate(4 500.8 639.5)" fill="rgb(60,60,60)"/>
<ellipse cx="508.6" cy="639.1" rx="0.7" ry="0.4" transform="rotate(107 508.6 639.1)" fill="rgb(159,159,159)"/>
<ellipse cx="511.8" cy="639.7" rx="1.3" ry="0.8" transform="rotate(116 511.8 639.7)" fill="rgb(30,30,30)"/>
<ellipse cx="512.4" cy="638.4" rx="0.7" ry="0.9" transform="rotate(178 512.4 638.4)" fill="rgb(35,35,35)"/>
<ellipse cx="402.2" cy="641.2" rx="1.1" ry="0.7" transform="rotate(44 402.2 641.2)" fill="rgb(92,92,92)"/>
<ellipse cx="404.5" cy="641.1" rx="1.3" ry="0.9" transform="rotate(131 404.5 641.1)" fill="rgb(38,38,38)"/>
<ellipse cx="405.4" cy="642.2" rx="0.8" ry="0.8" transform="rotate(164 405.4 642.2)" fill="rgb(142,142,142)"/>
<ellipse cx="407.9" cy="640.7" rx="1.4" ry="0.9" transform="rotate(70 407.9 640.7)" fill="rgb(30,30,30)"/>
<ellipse cx="415.2" cy="642.2" rx="1.5" ry="0.9" transform="rotate(122 415.2 642.2)" fill="rgb(80,80,80)"/>
<ellipse cx="416.0" cy="642.7" rx="0.9" ry="0.7" transform="rotate(86 416.0 642.7)" fill="rgb(163,163,163)"/>
<ellipse cx="420.2" cy="641.8" rx="1.3" ry="0.7" transform="rotate(11 420.2 641.8)" fill="rgb(55,55,55)"/>
<ellipse cx="428.2" cy="642.2" rx="1.0" ry="0.9" transform="rotate(70 428.2 642.2)" fill="rgb(68,68,68)"/>
<ellipse cx="429.6" cy="642.6" rx="1.1" ry="0.9" transform="rotate(47 429.6 642.6)" fill="rgb(61,61,61)"/>
<ellipse cx="438.5" cy="642.9" rx="0.7" ry="0.7" transform="rotate(123 438.5 642.9)" fill="rgb(180,180,180)"/>
<ellipse cx="441.4" cy="641.5" rx="1.1" ry="0.9" transform="rotate(142 441.4 641.5)" fill="rgb(45,45,45)"/>
<ellipse cx="443.5" cy="643.2" rx="0.7" ry="0.7" transform="rotate(167 443.5 643.2)" fill="rgb(46,46,46)"/>
<ellipse cx="445.7" cy="640.6" rx="0.8" ry="0.6" transform="rotate(139 445.7 640.6)" fill="rgb(155,155,155)"/>
<ellipse cx="451.7" cy="642.0" rx="0.9" ry="0.5" transform="rotate(17 451.7 642.0)" fill="rgb(134,134,134)"/>
<ellipse cx="454.1" cy="641.4" rx="0.7" ry="0.7" transform="rotate(44 454.1 641.4)" fill="rgb(129,129,129)"/>
<ellipse cx="458.2" cy="641.8" rx="1.0" ry="0.6" transform="rotate(94 458.2 641.8)" fill="rgb(55,55,55)"/>
<ellipse cx="464.7" cy="641.9" rx="0.7" ry="0.7" transform="rotate(17 464.7 641.9)" fill="rgb(164,164,164)"/>
<ellipse cx="466.2" cy="642.1" rx="0.6" ry="0.7" transform="rotate(36 466.2 642.1)" fill="rgb(153,153,153)"/>
<ellipse cx="468.1" cy="640.8" rx="1.1" ry="0.9" transform="rotate(88 468.1 640.8)" fill="rgb(78,78,78)"/>
<ellipse cx="474.5" cy="643.0" rx="0.6" ry="0.5" transform="rotate(115 474.5 643.0)" fill="rgb(139,139,139)"/>
<ellipse cx="477.9" cy="642.3" rx="0.8" ry="0.5" transform="rotate(179 477.9 642.3)" fill="rgb(140,140,140)"/>
<ellipse cx="478.6" cy="640.7" rx="1.0" ry="1.0" transform="rotate(151 478.6 640.7)" fill="rgb(23,23,23)"/>
<ellipse cx="480.7" cy="642.6" rx="0.9" ry="0.8" transform="rotate(18 480.7 642.6)" fill="rgb(117,117,117)"/>
<ellipse cx="484.0" cy="640.6" rx="1.3" ry="0.8" transform="rotate(136 484.0 640.6)" fill="rgb(76,76,76)"/>
<ellipse cx="486.1" cy="641.4" rx="0.8" ry="0.8" transform="rotate(79 486.1 641.4)" fill="rgb(41,41,41)"/>
<ellipse cx="494.0" cy="642.8" rx="1.2" ry="0.7" transform="rotate(140 494.0 642.8)" fill="rgb(37,37,37)"/>
<ellipse cx="498.7" cy="643.0" rx="0.5" ry="0.4" transform="rotate(58 498.7 643.0)" fill="rgb(153,153,153)"/>
<ellipse cx="499.4" cy="640.9" rx="0.7" ry="0.7" transform="rotate(128 499.4 640.9)" fill="rgb(133,133,133)"/>
<ellipse cx="504.7" cy="641.7" rx="0.9" ry="0.9" transform="rotate(145 504.7 641.7)" fill="rgb(62,62,62)"/>
<ellipse cx="507.3" cy="640.9" rx="0.8" ry="0.5" transform="rotate(10 507.3 640.9)" fill="rgb(175,175,175)"/>
<ellipse cx="511.5" cy="642.3" rx="1.1" ry="0.7" transform="rotate(136 511.5 642.3)" fill="rgb(52,52,52)"/>
<ellipse cx="514.3" cy="641.7" rx="0.9" ry="0.7" transform="rotate(52 514.3 641.7)" fill="rgb(69,69,69)"/>
<ellipse cx="402.3" cy="643.3" rx="0.7" ry="0.8" transform="rotate(80 402.3 643.3)" fill="rgb(112,112,112)"/>
<ellipse cx="403.9" cy="644.5" rx="1.0" ry="0.8" transform="rotate(33 403.9 644.5)" fill="rgb(146,146,146)"/>
<ellipse cx="406.3" cy="645.6" rx="1.2" ry="0.6" transform="rotate(94 406.3 645.6)" fill="rgb(43,43,43)"/>
<ellipse cx="408.4" cy="643.7" rx="1.0" ry="0.8" transform="rotate(137 408.4 643.7)" fill="rgb(173,173,173)"/>
<ellipse cx="410.9" cy="643.6" rx="0.9" ry="0.5" transform="rotate(36 410.9 643.6)" fill="rgb(149,149,149)"/>
<ellipse cx="413.2" cy="645.1" rx="0.9" ry="0.4" transform="rotate(60 413.2 645.1)" fill="rgb(154,154,154)"/>
<ellipse cx="417.8" cy="645.4" rx="0.5" ry="0.8" transform="rotate(24 417.8 645.4)" fill="rgb(171,171,171)"/>
<ellipse cx="419.9" cy="643.8" rx="1.1" ry="0.4" transform="rotate(103 419.9 643.8)" fill="rgb(157,157,157)"/>
<ellipse cx="425.9" cy="643.4" rx="0.6" ry="0.7" transform="rotate(140 425.9 643.4)" fill="rgb(151,151,151)"/>
<ellipse cx="429.4" cy="643.5" rx="0.8" ry="0.4" transform="rotate(24 429.4 643.5)" fill="rgb(178,178,178)"/>
<ellipse cx="431.8" cy="643.4" rx="0.6" ry="0.5" transform="rotate(147 431.8 643.4)" fill="rgb(181,181,181)"/>
<ellipse cx="433.9" cy="643.5" rx="0.6" ry="0.4" transform="rotate(115 433.9 643.5)" fill="rgb(186,186,186)"/>
<ellipse cx="437.6" cy="643.8" rx="0.7" ry="0.4" transform="rotate(8 437.6 643.8)" fill="rgb(132,132,132)"/>
<ellipse cx="439.3" cy="644.5" rx="0.7" ry="0.4" transform="rotate(159 439.3 644.5)" fill="rgb(161,161,161)"/>
<ellipse cx="443.0" cy="643.8" rx="1.2" ry="0.8" transform="rotate(30 443.0 643.8)" fill="rgb(70,70,70)"/>
<ellipse cx="446.3" cy="645.6" rx="0.8" ry="0.7" transform="rotate(7 446.3 645.6)" fill="rgb(177,177,177)"/>
<ellipse cx="449.3" cy="643.3" rx="0.7" ry="0.7" transform="rotate(152 449.3 643.3)" fill="rgb(165,165,165)"/>
<ellipse cx="450.9" cy="645.8" rx="0.7" ry="0.6" transform="rotate(93 450.9 645.8)" fill="rgb(151,151,151)"/>
<ellipse cx="454.5" cy="645.6" rx="1.0" ry="0.8" transform="rotate(20 454.5 645.6)" fill="rgb(66,66,66)"/>
<ellipse cx="455.1" cy="644.0" rx="1.2" ry="0.7" transform="rotate(175 455.1 644.0)" fill="rgb(73,73,73)"/>
<ellipse cx="459.2" cy="645.6" rx="1.0" ry="0.8" transform="rotate(6 459.2 645.6)" fill="rgb(115,115,115)"/>
<ellipse cx="461.5" cy="643.9" rx="0.7" ry="0.6" transform="rotate(112 461.5 643.9)" fill="rgb(114,114,114)"/>
<ellipse cx="463.1" cy="644.6" rx="1.1" ry="0.5" transform="rotate(63 463.1 644.6)" fill="rgb(149,149,149)"/>
<ellipse cx="470.0" cy="645.5" rx="1.2" ry="1.0" transform="rotate(22 470.0 645.5)" fill="rgb(76,76,76)"/>
<ellipse cx="470.5" cy="644.0" rx="0.7" ry="0.5" transform="rotate(133 470.5 644.0)" fill="rgb(121,121,121)"/>
<ellipse cx="473.5" cy="644.4" rx="0.6" ry="0.6" transform="rotate(128 473.5 644.4)" fill="rgb(180,180,180)"/>
<ellipse cx="476.6" cy="644.6" rx="0.8" ry="0.5" transform="rotate(60 476.6 644.6)" fill="rgb(141,141,141)"/>
<ellipse cx="481.6" cy="645.6" rx="1.5" ry="0.7" transform="rotate(88 481.6 645.6)" fill="rgb(61,61,61)"/>
<ellipse cx="483.9" cy="645.8" rx="1.3" ry="0.6" transform="rotate(109 483.9 645.8)" fill="rgb(28,28,28)"/>
<ellipse cx="486.7" cy="644.9" rx="1.0" ry="0.5" transform="rotate(94 486.7 644.9)" fill="rgb(123,123,123)"/>
<ellipse cx="492.1" cy="644.9" rx="0.9" ry="0.8" transform="rotate(148 492.1 644.9)" fill="rgb(55,55,55)"/>
<ellipse cx="494.9" cy="645.1" rx="1.0" ry="0.6" transform="rotate(128 494.9 645.1)" fill="rgb(190,190,190)"/>
<ellipse cx="498.8" cy="645.2" rx="0.8" ry="0.8" transform="rotate(27 498.8 645.2)" fill="rgb(183,183,183)"/>
<ellipse cx="503.6" cy="643.9" rx="0.6" ry="0.7" transform="rotate(52 503.6 643.9)" fill="rgb(168,168,168)"/>
<ellipse cx="504.9" cy="644.1" rx="0.9" ry="0.7" transform="rotate(142 504.9 644.1)" fill="rgb(110,110,110)"/>
<ellipse cx="508.8" cy="644.5" rx="0.6" ry="0.5" transform="rotate(78 508.8 644.5)" fill="rgb(128,128,128)"/>
<ellipse cx="512.7" cy="645.7" rx="0.6" ry="0.5" transform="rotate(160 512.7 645.7)" fill="rgb(164,164,164)"/>
<ellipse cx="402.5" cy="645.9" rx="1.4" ry="0.7" transform="rotate(139 402.5 645.9)" fill="rgb(88,88,88)"/>
<ellipse cx="404.0" cy="648.4" rx="0.8" ry="0.7" transform="rotate(84 404.0 648.4)" fill="rgb(159,159,159)"/>
<ellipse cx="405.3" cy="647.6" rx="0.5" ry="0.4" transform="rotate(18 405.3 647.6)" fill="rgb(139,139,139)"/>
<ellipse cx="408.8" cy="646.8" rx="0.8" ry="0.8" transform="rotate(88 408.8 646.8)" fill="rgb(163,163,163)"/>
<ellipse cx="420.3" cy="647.1" rx="1.4" ry="0.9" transform="rotate(160 420.3 647.1)" fill="rgb(85,85,85)"/>
<ellipse cx="421.9" cy="646.2" rx="1.1" ry="0.8" transform="rotate(74 421.9 646.2)" fill="rgb(44,44,44)"/>
<ellipse cx="423.6" cy="647.3" rx="1.2" ry="0.8" transform="rotate(125 423.6 647.3)" fill="rgb(25,25,25)"/>
<ellipse cx="426.0" cy="645.8" rx="0.8" ry="0.8" transform="rotate(152 426.0 645.8)" fill="rgb(160,160,160)"/>
<ellipse cx="430.1" cy="647.5" rx="1.1" ry="0.8" transform="rotate(157 430.1 647.5)" fill="rgb(54,54,54)"/>
<ellipse cx="433.5" cy="647.1" rx="0.9" ry="0.8" transform="rotate(28 433.5 647.1)" fill="rgb(38,38,38)"/>
<ellipse cx="435.8" cy="646.1" rx="0.8" ry="0.8" transform="rotate(110 435.8 646.1)" fill="rgb(79,79,79)"/>
<ellipse cx="438.5" cy="646.0" rx="1.3" ry="0.7" transform="rotate(64 438.5 646.0)" fill="rgb(50,50,50)"/>
<ellipse cx="439.4" cy="646.5" rx="1.4" ry="0.8" transform="rotate(34 439.4 646.5)" fill="rgb(64,64,64)"/>
<ellipse cx="443.2" cy="645.9" rx="1.0" ry="0.9" transform="rotate(79 443.2 645.9)" fill="rgb(25,25,25)"/>
<ellipse cx="445.8" cy="646.4" rx="1.4" ry="0.9" transform="rotate(1 445.8 646.4)" fill="rgb(60,60,60)"/>
<ellipse cx="449.1" cy="647.0" rx="0.7" ry="0.8" transform="rotate(44 449.1 647.0)" fill="rgb(118,118,118)"/>
<ellipse cx="450.4" cy="647.7" rx="0.9" ry="0.9" transform="rotate(4 450.4 647.7)" fill="rgb(82,82,82)"/>
<ellipse cx="454.3" cy="646.0" rx="1.0" ry="0.6" transform="rotate(71 454.3 646.0)" fill="rgb(57,57,57)"/>
<ellipse cx="460.9" cy="648.2" rx="0.7" ry="0.6" transform="rotate(43 460.9 648.2)" fill="rgb(154,154,154)"/>
<ellipse cx="462.5" cy="647.5" rx="0.6" ry="0.7" transform="rotate(35 462.5 647.5)" fill="rgb(121,121,121)"/>
<ellipse cx="466.4" cy="647.8" rx="0.8" ry="0.7" transform="rotate(29 466.4 647.8)" fill="rgb(140,140,140)"/>
<ellipse cx="468.5" cy="647.7" rx="1.1" ry="0.5" transform="rotate(91 468.5 647.7)" fill="rgb(170,170,170)"/>
<ellipse cx="470.8" cy="647.0" rx="1.3" ry="0.7" transform="rotate(106 470.8 647.0)" fill="rgb(76,76,76)"/>
<ellipse cx="473.8" cy="646.4" rx="0.6" ry="0.7" transform="rotate(122 473.8 646.4)" fill="rgb(125,125,125)"/>
<ellipse cx="475.6" cy="648.0" rx="1.0" ry="0.4" transform="rotate(26 475.6 648.0)" fill="rgb(182,182,182)"/>
<ellipse cx="478.0" cy="647.6" rx="1.0" ry="0.5" transform="rotate(119 478.0 647.6)" fill="rgb(134,134,134)"/>
<ellipse cx="480.9" cy="647.3" rx="0.8" ry="0.5" transform="rotate(129 480.9 647.3)" fill="rgb(118,118,118)"/>
<ellipse cx="489.6" cy="647.4" rx="1.0" ry="0.8" transform="rotate(5 489.6 647.4)" fill="rgb(132,132,132)"/>
<ellipse cx="492.8" cy="647.5" rx="0.7" ry="0.7" transform="rotate(45 492.8 647.5)" fill="rgb(169,169,169)"/>
<ellipse cx="495.8" cy="646.7" rx="0.6" ry="0.4" transform="rotate(132 495.8 646.7)" fill="rgb(187,187,187)"/>
<ellipse cx="498.1" cy="645.9" rx="0.8" ry="0.6" transform="rotate(28 498.1 645.9)" fill="rgb(58,58,58)"/>
<ellipse cx="500.7" cy="647.2" rx="1.1" ry="0.6" transform="rotate(103 500.7 647.2)" fill="rgb(139,139,139)"/>
<ellipse cx="503.3" cy="646.5" rx="0.9" ry="0.5" transform="rotate(20 503.3 646.5)" fill="rgb(110,110,110)"/>
<ellipse cx="508.9" cy="647.3" rx="1.1" ry="0.7" transform="rotate(142 508.9 647.3)" fill="rgb(114,114,114)"/>
<ellipse cx="509.7" cy="648.2" rx="0.6" ry="0.7" transform="rotate(180 509.7 648.2)" fill="rgb(160,160,160)"/>
<ellipse cx="513.4" cy="646.4" rx="0.7" ry="0.8" transform="rotate(167 513.4 646.4)" fill="rgb(166,166,166)"/>
<ellipse cx="404.2" cy="649.6" rx="1.3" ry="0.7" transform="rotate(152 404.2 649.6)" fill="rgb(85,85,85)"/>
<ellipse cx="407.2" cy="649.7" rx="1.5" ry="0.9" transform="rotate(47 407.2 649.7)" fill="rgb(91,91,91)"/>
<ellipse cx="409.2" cy="650.9" rx="0.8" ry="0.5" transform="rotate(30 409.2 650.9)" fill="rgb(117,117,117)"/>
<ellipse cx="411.3" cy="648.6" rx="0.6" ry="0.7" transform="rotate(121 411.3 648.6)" fill="rgb(172,172,172)"/>
<ellipse cx="413.6" cy="649.0" rx="0.8" ry="0.8" transform="rotate(126 413.6 649.0)" fill="rgb(154,154,154)"/>
<ellipse cx="415.9" cy="650.2" rx="0.6" ry="0.7" transform="rotate(99 415.9 650.2)" fill="rgb(125,125,125)"/>
<ellipse cx="420.2" cy="648.8" rx="0.9" ry="0.6" transform="rotate(150 420.2 648.8)" fill="rgb(161,161,161)"/>
<ellipse cx="421.1" cy="649.2" rx="0.6" ry="0.4" transform="rotate(55 421.1 649.2)" fill="rgb(145,145,145)"/>
<ellipse cx="426.4" cy="649.6" rx="0.7" ry="0.6" transform="rotate(2 426.4 649.6)" fill="rgb(115,115,115)"/>
<ellipse cx="431.2" cy="650.4" rx="1.3" ry="1.0" transform="rotate(48 431.2 650.4)" fill="rgb(92,92,92)"/>
<ellipse cx="432.9" cy="650.9" rx="1.0" ry="0.5" transform="rotate(166 432.9 650.9)" fill="rgb(155,155,155)"/>
<ellipse cx="438.1" cy="649.1" rx="0.8" ry="0.6" transform="rotate(151 438.1 649.1)" fill="rgb(70,70,70)"/>
<ellipse cx="439.8" cy="648.9" rx="1.0" ry="0.8" transform="rotate(18 439.8 648.9)" fill="rgb(131,131,131)"/>
<ellipse cx="443.5" cy="649.2" rx="0.7" ry="0.7" transform="rotate(58 443.5 649.2)" fill="rgb(155,155,155)"/>
<ellipse cx="445.2" cy="649.8" rx="1.0" ry="0.5" transform="rotate(19 445.2 649.8)" fill="rgb(115,115,115)"/>
<ellipse cx="450.4" cy="648.5" rx="1.0" ry="0.9" transform="rotate(108 450.4 648.5)" fill="rgb(58,58,58)"/>
<ellipse cx="453.6" cy="648.8" rx="0.8" ry="0.8" transform="rotate(16 453.6 648.8)" fill="rgb(71,71,71)"/>
<ellipse cx="454.7" cy="649.5" rx="1.3" ry="0.6" transform="rotate(77 454.7 649.5)" fill="rgb(85,85,85)"/>
<ellipse cx="457.9" cy="650.1" rx="0.8" ry="0.5" transform="rotate(2 457.9 650.1)" fill="rgb(166,166,166)"/>
<ellipse cx="462.3" cy="648.9" rx="0.7" ry="0.4" transform="rotate(122 462.3 648.9)" fill="rgb(182,182,182)"/>
<ellipse cx="463.9" cy="649.6" rx="0.8" ry="0.6" transform="rotate(164 463.9 649.6)" fill="rgb(178,178,178)"/>
<ellipse cx="469.2" cy="650.5" rx="1.2" ry="0.8" transform="rotate(102 469.2 650.5)" fill="rgb(58,58,58)"/>
<ellipse cx="471.3" cy="649.4" rx="0.6" ry="0.7" transform="rotate(159 471.3 649.4)" fill="rgb(177,177,177)"/>
<ellipse cx="472.9" cy="648.9" rx="0.8" ry="0.4" transform="rotate(67 472.9 648.9)" fill="rgb(184,184,184)"/>
<ellipse cx="476.9" cy="649.5" rx="0.8" ry="0.6" transform="rotate(41 476.9 649.5)" fill="rgb(124,124,124)"/>
<ellipse cx="480.5" cy="648.9" rx="0.6" ry="0.7" transform="rotate(34 480.5 648.9)" fill="rgb(122,122,122)"/>
<ellipse cx="482.3" cy="650.2" rx="1.1" ry="0.8" transform="rotate(132 482.3 650.2)" fill="rgb(34,34,34)"/>
<ellipse cx="487.6" cy="650.5" rx="1.1" ry="0.8" transform="rotate(113 487.6 650.5)" fill="rgb(34,34,34)"/>
<ellipse cx="490.9" cy="649.7" rx="0.9" ry="0.6" transform="rotate(101 490.9 649.7)" fill="rgb(134,134,134)"/>
<ellipse cx="493.7" cy="649.0" rx="0.5" ry="0.6" transform="rotate(83 493.7 649.0)" fill="rgb(137,137,137)"/>
<ellipse cx="499.0" cy="651.0" rx="0.8" ry="0.9" transform="rotate(30 499.0 651.0)" fill="rgb(65,65,65)"/>
<ellipse cx="505.8" cy="650.5" rx="1.0" ry="0.9" transform="rotate(130 505.8 650.5)" fill="rgb(65,65,65)"/>
<ellipse cx="506.7" cy="650.0" rx="1.1" ry="0.9" transform="rotate(6 506.7 650.0)" fill="rgb(34,34,34)"/>
<ellipse cx="511.6" cy="649.0" rx="0.9" ry="0.4" transform="rotate(79 511.6 649.0)" fill="rgb(184,184,184)"/>
<ellipse cx="513.9" cy="649.7" rx="0.9" ry="0.6" transform="rotate(157 513.9 649.7)" fill="rgb(57,57,57)"/>
<ellipse cx="401.7" cy="653.2" rx="0.7" ry="0.8" transform="rotate(171 401.7 653.2)" fill="rgb(144,144,144)"/>
<ellipse cx="402.6" cy="651.9" rx="1.1" ry="0.9" transform="rotate(13 402.6 651.9)" fill="rgb(24,24,24)"/>
<ellipse cx="406.8" cy="652.7" rx="1.0" ry="0.8" transform="rotate(71 406.8 652.7)" fill="rgb(167,167,167)"/>
<ellipse cx="410.1" cy="652.6" rx="1.0" ry="0.6" transform="rotate(106 410.1 652.6)" fill="rgb(36,36,36)"/>
<ellipse cx="410.5" cy="651.4" rx="0.8" ry="0.6" transform="rotate(169 410.5 651.4)" fill="rgb(159,159,159)"/>
<ellipse cx="413.8" cy="651.9" rx="0.6" ry="0.5" transform="rotate(8 413.8 651.9)" fill="rgb(187,187,187)"/>
<ellipse cx="416.0" cy="652.7" rx="0.9" ry="0.8" transform="rotate(64 416.0 652.7)" fill="rgb(53,53,53)"/>
<ellipse cx="419.7" cy="652.5" rx="1.3" ry="1.0" transform="rotate(157 419.7 652.5)" fill="rgb(32,32,32)"/>
<ellipse cx="422.8" cy="652.6" rx="0.7" ry="0.5" transform="rotate(157 422.8 652.6)" fill="rgb(140,140,140)"/>
<ellipse cx="425.8" cy="652.8" rx="1.3" ry="0.9" transform="rotate(154 425.8 652.8)" fill="rgb(85,85,85)"/>
<ellipse cx="426.6" cy="653.3" rx="0.7" ry="0.7" transform="rotate(159 426.6 653.3)" fill="rgb(151,151,151)"/>
<ellipse cx="433.3" cy="653.6" rx="0.9" ry="0.9" transform="rotate(73 433.3 653.6)" fill="rgb(78,78,78)"/>
<ellipse cx="437.9" cy="651.4" rx="0.7" ry="0.6" transform="rotate(13 437.9 651.4)" fill="rgb(153,153,153)"/>
<ellipse cx="439.5" cy="653.4" rx="0.7" ry="0.5" transform="rotate(64 439.5 653.4)" fill="rgb(169,169,169)"/>
<ellipse cx="447.5" cy="651.7" rx="0.8" ry="0.7" transform="rotate(39 447.5 651.7)" fill="rgb(22,22,22)"/>
<ellipse cx="450.4" cy="651.5" rx="1.0" ry="0.7" transform="rotate(44 450.4 651.5)" fill="rgb(135,135,135)"/>
<ellipse cx="452.1" cy="651.3" rx="0.8" ry="0.9" transform="rotate(61 452.1 651.3)" fill="rgb(93,93,93)"/>
<ellipse cx="455.0" cy="651.5" rx="1.0" ry="0.7" transform="rotate(38 455.0 651.5)" fill="rgb(113,113,113)"/>
<ellipse cx="458.0" cy="652.9" rx="0.7" ry="0.7" transform="rotate(31 458.0 652.9)" fill="rgb(153,153,153)"/>
<ellipse cx="462.0" cy="653.1" rx="1.2" ry="0.9" transform="rotate(46 462.0 653.1)" fill="rgb(71,71,71)"/>
<ellipse cx="466.5" cy="653.6" rx="1.2" ry="0.9" transform="rotate(28 466.5 653.6)" fill="rgb(62,62,62)"/>
<ellipse cx="467.6" cy="651.5" rx="1.0" ry="0.5" transform="rotate(76 467.6 651.5)" fill="rgb(156,156,156)"/>
<ellipse cx="471.6" cy="652.5" rx="0.9" ry="0.6" transform="rotate(41 471.6 652.5)" fill="rgb(152,152,152)"/>
<ellipse cx="474.4" cy="653.1" rx="0.5" ry="0.7" transform="rotate(176 474.4 653.1)" fill="rgb(180,180,180)"/>
<ellipse cx="476.6" cy="651.7" rx="1.1" ry="0.5" transform="rotate(100 476.6 651.7)" fill="rgb(111,111,111)"/>
<ellipse cx="481.0" cy="652.6" rx="1.1" ry="0.8" transform="rotate(24 481.0 652.6)" fill="rgb(189,189,189)"/>
<ellipse cx="483.4" cy="652.3" rx="0.6" ry="0.8" transform="rotate(133 483.4 652.3)" fill="rgb(156,156,156)"/>
<ellipse cx="490.4" cy="652.4" rx="0.9" ry="0.6" transform="rotate(38 490.4 652.4)" fill="rgb(173,173,173)"/>
<ellipse cx="493.4" cy="653.3" rx="0.6" ry="0.7" transform="rotate(19 493.4 653.3)" fill="rgb(113,113,113)"/>
<ellipse cx="495.5" cy="651.2" rx="0.7" ry="0.7" transform="rotate(41 495.5 651.2)" fill="rgb(117,117,117)"/>
<ellipse cx="497.2" cy="653.4" rx="0.9" ry="0.7" transform="rotate(45 497.2 653.4)" fill="rgb(113,113,113)"/>
<ellipse cx="499.5" cy="652.1" rx="0.9" ry="0.9" transform="rotate(54 499.5 652.1)" fill="rgb(55,55,55)"/>
<ellipse cx="504.0" cy="651.6" rx="0.6" ry="0.7" transform="rotate(172 504.0 651.6)" fill="rgb(144,144,144)"/>
<ellipse cx="504.4" cy="651.8" rx="0.7" ry="0.9" transform="rotate(29 504.4 651.8)" fill="rgb(51,51,51)"/>
<ellipse cx="508.4" cy="652.6" rx="0.8" ry="0.8" transform="rotate(153 508.4 652.6)" fill="rgb(136,136,136)"/>
<ellipse cx="512.9" cy="652.1" rx="1.4" ry="0.9" transform="rotate(27 512.9 652.1)" fill="rgb(34,34,34)"/>
<ellipse cx="402.4" cy="653.9" rx="1.1" ry="0.7" transform="rotate(84 402.4 653.9)" fill="rgb(41,41,41)"/>
<ellipse cx="403.6" cy="654.7" rx="0.9" ry="0.6" transform="rotate(176 403.6 654.7)" fill="rgb(152,152,152)"/>
<ellipse cx="409.6" cy="653.7" rx="0.6" ry="0.6" transform="rotate(131 409.6 653.7)" fill="rgb(123,123,123)"/>
<ellipse cx="410.5" cy="655.9" rx="0.8" ry="1.0" transform="rotate(95 410.5 655.9)" fill="rgb(37,37,37)"/>
<ellipse cx="413.0" cy="654.2" rx="0.9" ry="0.6" transform="rotate(95 413.0 654.2)" fill="rgb(124,124,124)"/>
<ellipse cx="417.8" cy="656.1" rx="1.5" ry="0.9" transform="rotate(132 417.8 656.1)" fill="rgb(48,48,48)"/>
<ellipse cx="418.9" cy="654.1" rx="0.8" ry="0.6" transform="rotate(9 418.9 654.1)" fill="rgb(85,85,85)"/>
<ellipse cx="422.9" cy="656.1" rx="1.0" ry="0.6" transform="rotate(98 422.9 656.1)" fill="rgb(78,78,78)"/>
<ellipse cx="428.3" cy="655.5" rx="0.7" ry="0.6" transform="rotate(70 428.3 655.5)" fill="rgb(129,129,129)"/>
<ellipse cx="429.6" cy="654.7" rx="1.5" ry="0.6" transform="rotate(167 429.6 654.7)" fill="rgb(84,84,84)"/>
<ellipse cx="431.9" cy="655.2" rx="0.6" ry="0.5" transform="rotate(16 431.9 655.2)" fill="rgb(124,124,124)"/>
<ellipse cx="435.4" cy="653.7" rx="0.7" ry="0.6" transform="rotate(99 435.4 653.7)" fill="rgb(166,166,166)"/>
<ellipse cx="437.2" cy="656.1" rx="1.3" ry="0.9" transform="rotate(62 437.2 656.1)" fill="rgb(85,85,85)"/>
<ellipse cx="443.7" cy="655.9" rx="0.5" ry="0.8" transform="rotate(110 443.7 655.9)" fill="rgb(144,144,144)"/>
<ellipse cx="446.0" cy="654.4" rx="0.8" ry="0.5" transform="rotate(138 446.0 654.4)" fill="rgb(188,188,188)"/>
<ellipse cx="450.3" cy="655.1" rx="1.1" ry="0.4" transform="rotate(66 450.3 655.1)" fill="rgb(177,177,177)"/>
<ellipse cx="452.5" cy="654.0" rx="0.9" ry="0.5" transform="rotate(32 452.5 654.0)" fill="rgb(168,168,168)"/>
<ellipse cx="457.1" cy="655.8" rx="1.0" ry="0.5" transform="rotate(150 457.1 655.8)" fill="rgb(156,156,156)"/>
<ellipse cx="459.3" cy="653.9" rx="0.9" ry="0.6" transform="rotate(119 459.3 653.9)" fill="rgb(65,65,65)"/>
<ellipse cx="461.2" cy="654.4" rx="0.7" ry="0.5" transform="rotate(125 461.2 654.4)" fill="rgb(167,167,167)"/>
<ellipse cx="467.0" cy="654.0" rx="0.7" ry="0.6" transform="rotate(112 467.0 654.0)" fill="rgb(140,140,140)"/>
<ellipse cx="469.0" cy="655.7" rx="1.1" ry="0.6" transform="rotate(10 469.0 655.7)" fill="rgb(53,53,53)"/>
<ellipse cx="470.7" cy="655.5" rx="1.0" ry="0.7" transform="rotate(16 470.7 655.5)" fill="rgb(76,76,76)"/>
<ellipse cx="474.5" cy="655.8" rx="1.0" ry="0.9" transform="rotate(166 474.5 655.8)" fill="rgb(67,67,67)"/>
<ellipse cx="477.3" cy="654.6" rx="1.3" ry="1.0" transform="rotate(117 477.3 654.6)" fill="rgb(75,75,75)"/>
<ellipse cx="480.1" cy="654.5" rx="0.8" ry="0.8" transform="rotate(176 480.1 654.5)" fill="rgb(134,134,134)"/>
<ellipse cx="482.8" cy="655.1" rx="0.9" ry="0.9" transform="rotate(136 482.8 655.1)" fill="rgb(30,30,30)"/>
<ellipse cx="484.2" cy="655.0" rx="1.0" ry="0.7" transform="rotate(19 484.2 655.0)" fill="rgb(113,113,113)"/>
<ellipse cx="487.3" cy="656.0" rx="0.8" ry="0.8" transform="rotate(160 487.3 656.0)" fill="rgb(132,132,132)"/>
<ellipse cx="489.5" cy="654.9" rx="1.0" ry="0.7" transform="rotate(72 489.5 654.9)" fill="rgb(135,135,135)"/>
<ellipse cx="491.1" cy="655.4" rx="1.0" ry="0.7" transform="rotate(16 491.1 655.4)" fill="rgb(125,125,125)"/>
<ellipse cx="495.8" cy="655.1" rx="1.1" ry="0.9" transform="rotate(102 495.8 655.1)" fill="rgb(47,47,47)"/>
<ellipse cx="496.3" cy="655.4" rx="0.8" ry="0.4" transform="rotate(152 496.3 655.4)" fill="rgb(163,163,163)"/>
<ellipse cx="499.2" cy="654.7" rx="1.2" ry="0.7" transform="rotate(93 499.2 654.7)" fill="rgb(44,44,44)"/>
<ellipse cx="501.4" cy="656.2" rx="0.9" ry="0.7" transform="rotate(120 501.4 656.2)" fill="rgb(52,52,52)"/>
<ellipse cx="508.4" cy="654.4" rx="1.0" ry="0.7" transform="rotate(46 508.4 654.4)" fill="rgb(89,89,89)"/>
<ellipse cx="509.7" cy="653.7" rx="0.7" ry="0.6" transform="rotate(128 509.7 653.7)" fill="rgb(172,172,172)"/>
<ellipse cx="512.2" cy="656.0" rx="0.8" ry="0.7" transform="rotate(131 512.2 656.0)" fill="rgb(116,116,116)"/>
<ellipse cx="404.7" cy="656.3" rx="1.1" ry="0.6" transform="rotate(144 404.7 656.3)" fill="rgb(46,46,46)"/>
<ellipse cx="409.0" cy="658.5" rx="1.0" ry="0.8" transform="rotate(25 409.0 658.5)" fill="rgb(26,26,26)"/>
<ellipse cx="412.7" cy="658.3" rx="0.5" ry="0.7" transform="rotate(90 412.7 658.3)" fill="rgb(131,131,131)"/>
<ellipse cx="414.8" cy="658.0" rx="0.9" ry="0.9" transform="rotate(140 414.8 658.0)" fill="rgb(38,38,38)"/>
<ellipse cx="417.5" cy="657.5" rx="0.6" ry="0.4" transform="rotate(75 417.5 657.5)" fill="rgb(116,116,116)"/>
<ellipse cx="422.6" cy="656.6" rx="1.3" ry="0.6" transform="rotate(53 422.6 656.6)" fill="rgb(77,77,77)"/>
<ellipse cx="424.0" cy="657.7" rx="1.1" ry="0.6" transform="rotate(58 424.0 657.7)" fill="rgb(53,53,53)"/>
<ellipse cx="431.1" cy="657.2" rx="1.0" ry="0.8" transform="rotate(118 431.1 657.2)" fill="rgb(48,48,48)"/>
<ellipse cx="433.0" cy="656.7" rx="0.8" ry="0.7" transform="rotate(21 433.0 656.7)" fill="rgb(71,71,71)"/>
<ellipse cx="439.0" cy="658.6" rx="0.7" ry="0.5" transform="rotate(160 439.0 658.6)" fill="rgb(173,173,173)"/>
<ellipse cx="441.4" cy="656.7" rx="0.9" ry="0.8" transform="rotate(36 441.4 656.7)" fill="rgb(31,31,31)"/>
<ellipse cx="446.6" cy="657.7" rx="1.2" ry="0.6" transform="rotate(62 446.6 657.7)" fill="rgb(20,20,20)"/>
<ellipse cx="449.3" cy="657.9" rx="1.0" ry="0.8" transform="rotate(59 449.3 657.9)" fill="rgb(51,51,51)"/>
<ellipse cx="454.1" cy="658.1" rx="0.9" ry="0.4" transform="rotate(107 454.1 658.1)" fill="rgb(130,130,130)"/>
<ellipse cx="455.8" cy="656.3" rx="0.6" ry="0.7" transform="rotate(75 455.8 656.3)" fill="rgb(126,126,126)"/>
<ellipse cx="459.4" cy="656.4" rx="0.9" ry="0.5" transform="rotate(60 459.4 656.4)" fill="rgb(121,121,121)"/>
<ellipse cx="462.0" cy="658.5" rx="0.6" ry="0.4" transform="rotate(21 462.0 658.5)" fill="rgb(140,140,140)"/>
<ellipse cx="463.7" cy="657.6" rx="1.1" ry="0.6" transform="rotate(8 463.7 657.6)" fill="rgb(88,88,88)"/>
<ellipse cx="465.7" cy="658.7" rx="1.1" ry="1.0" transform="rotate(131 465.7 658.7)" fill="rgb(50,50,50)"/>
<ellipse cx="469.0" cy="656.8" rx="0.8" ry="0.6" transform="rotate(38 469.0 656.8)" fill="rgb(93,93,93)"/>
<ellipse cx="472.1" cy="656.4" rx="1.4" ry="1.0" transform="rotate(71 472.1 656.4)" fill="rgb(74,74,74)"/>
<ellipse cx="475.6" cy="657.7" rx="1.2" ry="0.9" transform="rotate(148 475.6 657.7)" fill="rgb(27,27,27)"/>
<ellipse cx="478.2" cy="657.1" rx="0.9" ry="0.9" transform="rotate(147 478.2 657.1)" fill="rgb(42,42,42)"/>
<ellipse cx="481.5" cy="658.3" rx="1.1" ry="0.4" transform="rotate(142 481.5 658.3)" fill="rgb(162,162,162)"/>
<ellipse cx="483.3" cy="658.3" rx="1.1" ry="0.6" transform="rotate(139 483.3 658.3)" fill="rgb(64,64,64)"/>
<ellipse cx="486.3" cy="658.6" rx="0.9" ry="0.4" transform="rotate(142 486.3 658.6)" fill="rgb(110,110,110)"/>
<ellipse cx="493.4" cy="658.2" rx="0.6" ry="0.7" transform="rotate(142 493.4 658.2)" fill="rgb(156,156,156)"/>
<ellipse cx="493.8" cy="658.1" rx="0.6" ry="0.8" transform="rotate(24 493.8 658.1)" fill="rgb(173,173,173)"/>
<ellipse cx="506.0" cy="658.5" rx="1.5" ry="0.8" transform="rotate(12 506.0 658.5)" fill="rgb(34,34,34)"/>
<ellipse cx="511.4" cy="656.8" rx="0.8" ry="0.8" transform="rotate(163 511.4 656.8)" fill="rgb(183,183,183)"/>
<ellipse cx="513.6" cy="658.0" rx="1.0" ry="0.7" transform="rotate(149 513.6 658.0)" fill="rgb(153,153,153)"/>
<ellipse cx="401.1" cy="659.0" rx="1.0" ry="0.5" transform="rotate(163 401.1 659.0)" fill="rgb(186,186,186)"/>
<ellipse cx="403.7" cy="659.6" rx="1.2" ry="1.0" transform="rotate(75 403.7 659.6)" fill="rgb(80,80,80)"/>
<ellipse cx="406.8" cy="660.0" rx="0.6" ry="0.5" transform="rotate(111 406.8 660.0)" fill="rgb(169,169,169)"/>
<ellipse cx="408.6" cy="659.0" rx="1.3" ry="0.7" transform="rotate(145 408.6 659.0)" fill="rgb(88,88,88)"/>
<ellipse cx="410.7" cy="660.6" rx="1.4" ry="0.6" transform="rotate(60 410.7 660.6)" fill="rgb(54,54,54)"/>
<ellipse cx="413.4" cy="659.2" rx="1.0" ry="0.8" transform="rotate(56 413.4 659.2)" fill="rgb(160,160,160)"/>
<ellipse cx="423.7" cy="659.4" rx="0.9" ry="0.7" transform="rotate(177 423.7 659.4)" fill="rgb(122,122,122)"/>
<ellipse cx="427.9" cy="660.8" rx="0.6" ry="0.7" transform="rotate(120 427.9 660.8)" fill="rgb(142,142,142)"/>
<ellipse cx="428.8" cy="660.4" rx="1.1" ry="0.5" transform="rotate(124 428.8 660.4)" fill="rgb(190,190,190)"/>
<ellipse cx="433.6" cy="660.9" rx="1.2" ry="0.8" transform="rotate(10 433.6 660.9)" fill="rgb(22,22,22)"/>
<ellipse cx="436.0" cy="660.6" rx="0.8" ry="0.7" transform="rotate(131 436.0 660.6)" fill="rgb(129,129,129)"/>
<ellipse cx="438.3" cy="658.9" rx="0.6" ry="0.8" transform="rotate(26 438.3 658.9)" fill="rgb(144,144,144)"/>
<ellipse cx="440.5" cy="660.3" rx="1.0" ry="0.9" transform="rotate(113 440.5 660.3)" fill="rgb(55,55,55)"/>
<ellipse cx="442.2" cy="660.8" rx="1.1" ry="0.7" transform="rotate(145 442.2 660.8)" fill="rgb(30,30,30)"/>
<ellipse cx="448.6" cy="660.6" rx="0.8" ry="0.8" transform="rotate(143 448.6 660.6)" fill="rgb(26,26,26)"/>
<ellipse cx="450.3" cy="659.2" rx="1.0" ry="0.5" transform="rotate(31 450.3 659.2)" fill="rgb(176,176,176)"/>
<ellipse cx="452.8" cy="658.9" rx="1.0" ry="1.0" transform="rotate(49 452.8 658.9)" fill="rgb(43,43,43)"/>
<ellipse cx="456.9" cy="660.0" rx="1.1" ry="0.6" transform="rotate(65 456.9 660.0)" fill="rgb(143,143,143)"/>
<ellipse cx="458.0" cy="660.9" rx="0.6" ry="0.8" transform="rotate(81 458.0 660.9)" fill="rgb(189,189,189)"/>
<ellipse cx="466.2" cy="660.3" rx="1.0" ry="0.5" transform="rotate(129 466.2 660.3)" fill="rgb(156,156,156)"/>
<ellipse cx="470.5" cy="660.0" rx="1.1" ry="0.9" transform="rotate(64 470.5 660.0)" fill="rgb(59,59,59)"/>
<ellipse cx="475.2" cy="659.5" rx="0.8" ry="0.8" transform="rotate(150 475.2 659.5)" fill="rgb(72,72,72)"/>
<ellipse cx="477.3" cy="661.2" rx="0.8" ry="0.9" transform="rotate(139 477.3 661.2)" fill="rgb(35,35,35)"/>
<ellipse cx="479.0" cy="661.2" rx="0.7" ry="0.6" transform="rotate(63 479.0 661.2)" fill="rgb(153,153,153)"/>
<ellipse cx="481.1" cy="661.1" rx="0.8" ry="0.7" transform="rotate(24 481.1 661.1)" fill="rgb(146,146,146)"/>
<ellipse cx="484.1" cy="659.0" rx="0.8" ry="0.7" transform="rotate(104 484.1 659.0)" fill="rgb(140,140,140)"/>
<ellipse cx="486.8" cy="660.3" rx="1.4" ry="0.9" transform="rotate(27 486.8 660.3)" fill="rgb(36,36,36)"/>
<ellipse cx="490.1" cy="660.8" rx="1.0" ry="0.8" transform="rotate(158 490.1 660.8)" fill="rgb(158,158,158)"/>
<ellipse cx="491.3" cy="660.6" rx="0.9" ry="0.5" transform="rotate(139 491.3 660.6)" fill="rgb(118,118,118)"/>
<ellipse cx="495.2" cy="660.1" rx="1.0" ry="0.5" transform="rotate(122 495.2 660.1)" fill="rgb(156,156,156)"/>
<ellipse cx="498.7" cy="660.9" rx="0.9" ry="0.4" transform="rotate(39 498.7 660.9)" fill="rgb(151,151,151)"/>
<ellipse cx="500.0" cy="660.8" rx="0.8" ry="0.8" transform="rotate(100 500.0 660.8)" fill="rgb(185,185,185)"/>
<ellipse cx="504.3" cy="659.4" rx="0.7" ry="0.5" transform="rotate(41 504.3 659.4)" fill="rgb(182,182,182)"/>
<ellipse cx="508.0" cy="660.9" rx="1.5" ry="0.8" transform="rotate(40 508.0 660.9)" fill="rgb(23,23,23)"/>
<ellipse cx="509.6" cy="660.9" rx="1.0" ry="1.0" transform="rotate(130 509.6 660.9)" fill="rgb(55,55,55)"/>
<ellipse cx="513.3" cy="659.8" rx="0.9" ry="0.5" transform="rotate(145 513.3 659.8)" fill="rgb(117,117,117)"/>
<ellipse cx="402.8" cy="662.6" rx="1.1" ry="0.9" transform="rotate(34 402.8 662.6)" fill="rgb(78,78,78)"/>
<ellipse cx="406.8" cy="661.7" rx="1.3" ry="0.6" transform="rotate(3 406.8 661.7)" fill="rgb(86,86,86)"/>
<ellipse cx="409.8" cy="663.5" rx="1.0" ry="0.5" transform="rotate(135 409.8 663.5)" fill="rgb(147,147,147)"/>
<ellipse cx="412.9" cy="663.8" rx="0.9" ry="0.4" transform="rotate(75 412.9 663.8)" fill="rgb(136,136,136)"/>
<ellipse cx="415.2" cy="663.1" rx="0.8" ry="0.6" transform="rotate(29 415.2 663.1)" fill="rgb(190,190,190)"/>
<ellipse cx="417.2" cy="664.0" rx="0.7" ry="0.6" transform="rotate(76 417.2 664.0)" fill="rgb(65,65,65)"/>
<ellipse cx="421.7" cy="663.6" rx="1.0" ry="0.6" transform="rotate(164 421.7 663.6)" fill="rgb(120,120,120)"/>
<ellipse cx="426.3" cy="661.7" rx="0.8" ry="0.5" transform="rotate(118 426.3 661.7)" fill="rgb(142,142,142)"/>
<ellipse cx="431.0" cy="661.9" rx="1.4" ry="0.8" transform="rotate(29 431.0 661.9)" fill="rgb(69,69,69)"/>
<ellipse cx="433.5" cy="662.5" rx="0.8" ry="0.9" transform="rotate(68 433.5 662.5)" fill="rgb(88,88,88)"/>
<ellipse cx="440.4" cy="661.6" rx="0.9" ry="0.8" transform="rotate(138 440.4 661.6)" fill="rgb(172,172,172)"/>
<ellipse cx="444.0" cy="661.4" rx="1.0" ry="0.9" transform="rotate(106 444.0 661.4)" fill="rgb(32,32,32)"/>
<ellipse cx="444.5" cy="661.9" rx="0.9" ry="0.7" transform="rotate(137 444.5 661.9)" fill="rgb(166,166,166)"/>
<ellipse cx="454.6" cy="663.3" rx="1.0" ry="0.6" transform="rotate(164 454.6 663.3)" fill="rgb(125,125,125)"/>
<ellipse cx="456.2" cy="661.6" rx="1.5" ry="0.7" transform="rotate(102 456.2 661.6)" fill="rgb(70,70,70)"/>
<ellipse cx="459.1" cy="662.0" rx="0.9" ry="0.5" transform="rotate(144 459.1 662.0)" fill="rgb(135,135,135)"/>
<ellipse cx="459.9" cy="661.5" rx="1.4" ry="0.6" transform="rotate(167 459.9 661.5)" fill="rgb(25,25,25)"/>
<ellipse cx="464.1" cy="663.8" rx="0.8" ry="0.6" transform="rotate(137 464.1 663.8)" fill="rgb(33,33,33)"/>
<ellipse cx="467.3" cy="661.7" rx="1.1" ry="0.8" transform="rotate(19 467.3 661.7)" fill="rgb(61,61,61)"/>
<ellipse cx="470.2" cy="663.6" rx="1.0" ry="0.6" transform="rotate(110 470.2 663.6)" fill="rgb(189,189,189)"/>
<ellipse cx="474.9" cy="662.8" rx="0.9" ry="0.6" transform="rotate(71 474.9 662.8)" fill="rgb(168,168,168)"/>
<ellipse cx="475.4" cy="663.3" rx="1.4" ry="0.9" transform="rotate(38 475.4 663.3)" fill="rgb(78,78,78)"/>
<ellipse cx="479.8" cy="663.3" rx="1.1" ry="0.6" transform="rotate(98 479.8 663.3)" fill="rgb(121,121,121)"/>
<ellipse cx="481.5" cy="661.6" rx="1.0" ry="0.7" transform="rotate(16 481.5 661.6)" fill="rgb(122,122,122)"/>
<ellipse cx="483.9" cy="662.2" rx="1.1" ry="0.8" transform="rotate(138 483.9 662.2)" fill="rgb(62,62,62)"/>
<ellipse cx="485.8" cy="661.6" rx="1.3" ry="0.8" transform="rotate(69 485.8 661.6)" fill="rgb(86,86,86)"/>
<ellipse cx="491.0" cy="663.8" rx="0.6" ry="0.7" transform="rotate(164 491.0 663.8)" fill="rgb(120,120,120)"/>
<ellipse cx="493.2" cy="663.3" rx="1.2" ry="0.9" transform="rotate(144 493.2 663.3)" fill="rgb(75,75,75)"/>
<ellipse cx="493.7" cy="663.0" rx="0.9" ry="0.6" transform="rotate(152 493.7 663.0)" fill="rgb(58,58,58)"/>
<ellipse cx="496.3" cy="662.4" rx="0.8" ry="1.0" transform="rotate(137 496.3 662.4)" fill="rgb(80,80,80)"/>
<ellipse cx="502.1" cy="662.0" rx="0.5" ry="0.5" transform="rotate(166 502.1 662.0)" fill="rgb(155,155,155)"/>
<ellipse cx="508.9" cy="663.5" rx="0.6" ry="0.7" transform="rotate(77 508.9 663.5)" fill="rgb(150,150,150)"/>
<ellipse cx="510.1" cy="661.6" rx="1.1" ry="0.6" transform="rotate(117 510.1 661.6)" fill="rgb(26,26,26)"/>
<ellipse cx="513.2" cy="663.8" rx="1.0" ry="0.7" transform="rotate(16 513.2 663.8)" fill="rgb(190,190,190)"/>
<ellipse cx="402.6" cy="664.7" rx="1.1" ry="0.5" transform="rotate(111 402.6 664.7)" fill="rgb(166,166,166)"/>
<ellipse cx="405.6" cy="666.5" rx="1.0" ry="0.7" transform="rotate(17 405.6 666.5)" fill="rgb(23,23,23)"/>
<ellipse cx="410.1" cy="665.7" rx="0.9" ry="0.7" transform="rotate(118 410.1 665.7)" fill="rgb(128,128,128)"/>
<ellipse cx="412.0" cy="665.8" rx="0.8" ry="0.6" transform="rotate(13 412.0 665.8)" fill="rgb(21,21,21)"/>
<ellipse cx="413.2" cy="665.4" rx="0.9" ry="0.6" transform="rotate(166 413.2 665.4)" fill="rgb(145,145,145)"/>
<ellipse cx="416.8" cy="666.3" rx="1.0" ry="0.9" transform="rotate(80 416.8 666.3)" fill="rgb(42,42,42)"/>
<ellipse cx="421.7" cy="666.2" rx="1.4" ry="0.7" transform="rotate(145 421.7 666.2)" fill="rgb(46,46,46)"/>
<ellipse cx="425.1" cy="664.7" rx="0.9" ry="1.0" transform="rotate(141 425.1 664.7)" fill="rgb(40,40,40)"/>
<ellipse cx="427.7" cy="664.8" rx="0.7" ry="0.8" transform="rotate(69 427.7 664.8)" fill="rgb(27,27,27)"/>
<ellipse cx="430.3" cy="665.5" rx="0.8" ry="0.6" transform="rotate(168 430.3 665.5)" fill="rgb(36,36,36)"/>
<ellipse cx="432.1" cy="665.4" rx="1.0" ry="0.9" transform="rotate(66 432.1 665.4)" fill="rgb(67,67,67)"/>
<ellipse cx="435.2" cy="664.3" rx="1.3" ry="0.7" transform="rotate(168 435.2 664.3)" fill="rgb(68,68,68)"/>
<ellipse cx="441.0" cy="666.2" rx="1.4" ry="0.7" transform="rotate(9 441.0 666.2)" fill="rgb(20,20,20)"/>
<ellipse cx="443.3" cy="666.2" rx="0.7" ry="0.7" transform="rotate(20 443.3 666.2)" fill="rgb(34,34,34)"/>
<ellipse cx="445.6" cy="665.3" rx="0.8" ry="0.8" transform="rotate(77 445.6 665.3)" fill="rgb(139,139,139)"/>
<ellipse cx="447.0" cy="664.5" rx="1.1" ry="0.7" transform="rotate(100 447.0 664.5)" fill="rgb(63,63,63)"/>
<ellipse cx="449.6" cy="664.6" rx="0.8" ry="0.7" transform="rotate(20 449.6 664.6)" fill="rgb(158,158,158)"/>
<ellipse cx="454.5" cy="665.4" rx="0.8" ry="0.9" transform="rotate(18 454.5 665.4)" fill="rgb(47,47,47)"/>
<ellipse cx="461.4" cy="664.3" rx="1.3" ry="0.6" transform="rotate(87 461.4 664.3)" fill="rgb(80,80,80)"/>
<ellipse cx="462.9" cy="664.0" rx="0.8" ry="0.4" transform="rotate(124 462.9 664.0)" fill="rgb(170,170,170)"/>
<ellipse cx="469.3" cy="664.4" rx="0.7" ry="0.8" transform="rotate(133 469.3 664.4)" fill="rgb(151,151,151)"/>
<ellipse cx="473.3" cy="664.6" rx="1.0" ry="0.4" transform="rotate(153 473.3 664.6)" fill="rgb(137,137,137)"/>
<ellipse cx="478.8" cy="664.8" rx="0.8" ry="0.6" transform="rotate(2 478.8 664.8)" fill="rgb(41,41,41)"/>
<ellipse cx="483.1" cy="664.6" rx="0.8" ry="0.8" transform="rotate(121 483.1 664.6)" fill="rgb(172,172,172)"/>
<ellipse cx="483.8" cy="666.4" rx="1.1" ry="0.7" transform="rotate(49 483.8 666.4)" fill="rgb(78,78,78)"/>
<ellipse cx="488.3" cy="666.0" rx="0.8" ry="0.7" transform="rotate(102 488.3 666.0)" fill="rgb(22,22,22)"/>
<ellipse cx="491.4" cy="666.1" rx="0.8" ry="0.6" transform="rotate(25 491.4 666.1)" fill="rgb(159,159,159)"/>
<ellipse cx="496.6" cy="664.4" rx="0.8" ry="0.8" transform="rotate(30 496.6 664.4)" fill="rgb(117,117,117)"/>
<ellipse cx="503.5" cy="664.7" rx="0.6" ry="0.5" transform="rotate(174 503.5 664.7)" fill="rgb(144,144,144)"/>
<ellipse cx="505.9" cy="664.2" rx="1.0" ry="0.8" transform="rotate(13 505.9 664.2)" fill="rgb(147,147,147)"/>
<ellipse cx="508.6" cy="664.5" rx="0.8" ry="0.7" transform="rotate(145 508.6 664.5)" fill="rgb(58,58,58)"/>
<ellipse cx="510.9" cy="665.3" rx="0.9" ry="0.8" transform="rotate(122 510.9 665.3)" fill="rgb(95,95,95)"/>
<ellipse cx="512.8" cy="665.4" rx="0.8" ry="0.6" transform="rotate(103 512.8 665.4)" fill="rgb(142,142,142)"/>
<ellipse cx="400.5" cy="668.4" rx="0.9" ry="0.7" transform="rotate(46 400.5 668.4)" fill="rgb(87,87,87)"/>
<ellipse cx="404.7" cy="668.4" rx="1.2" ry="0.6" transform="rotate(144 404.7 668.4)" fill="rgb(61,61,61)"/>
<ellipse cx="405.2" cy="667.8" rx="0.9" ry="0.7" transform="rotate(84 405.2 667.8)" fill="rgb(133,133,133)"/>
<ellipse cx="410.6" cy="669.1" rx="0.7" ry="0.5" transform="rotate(67 410.6 669.1)" fill="rgb(139,139,139)"/>
<ellipse cx="414.8" cy="667.6" rx="0.7" ry="0.8" transform="rotate(158 414.8 667.6)" fill="rgb(137,137,137)"/>
<ellipse cx="419.8" cy="668.3" rx="0.8" ry="0.5" transform="rotate(64 419.8 668.3)" fill="rgb(179,179,179)"/>
<ellipse cx="422.6" cy="667.7" rx="1.1" ry="0.6" transform="rotate(71 422.6 667.7)" fill="rgb(40,40,40)"/>
<ellipse cx="423.7" cy="668.2" rx="1.1" ry="0.6" transform="rotate(127 423.7 668.2)" fill="rgb(51,51,51)"/>
<ellipse cx="435.3" cy="667.1" rx="1.1" ry="0.9" transform="rotate(5 435.3 667.1)" fill="rgb(54,54,54)"/>
<ellipse cx="438.5" cy="668.8" rx="0.9" ry="0.6" transform="rotate(48 438.5 668.8)" fill="rgb(42,42,42)"/>
<ellipse cx="440.8" cy="669.2" rx="0.8" ry="1.0" transform="rotate(27 440.8 669.2)" fill="rgb(45,45,45)"/>
<ellipse cx="442.5" cy="668.0" rx="0.8" ry="0.6" transform="rotate(60 442.5 668.0)" fill="rgb(143,143,143)"/>
<ellipse cx="446.6" cy="667.3" rx="0.8" ry="0.6" transform="rotate(24 446.6 667.3)" fill="rgb(53,53,53)"/>
<ellipse cx="449.1" cy="667.5" rx="0.6" ry="0.6" transform="rotate(145 449.1 667.5)" fill="rgb(181,181,181)"/>
<ellipse cx="451.4" cy="668.8" rx="0.7" ry="0.4" transform="rotate(143 451.4 668.8)" fill="rgb(149,149,149)"/>
<ellipse cx="454.1" cy="666.8" rx="0.6" ry="0.7" transform="rotate(142 454.1 666.8)" fill="rgb(169,169,169)"/>
<ellipse cx="455.2" cy="666.8" rx="0.8" ry="0.5" transform="rotate(168 455.2 666.8)" fill="rgb(134,134,134)"/>
<ellipse cx="457.8" cy="668.8" rx="1.0" ry="0.6" transform="rotate(96 457.8 668.8)" fill="rgb(176,176,176)"/>
<ellipse cx="461.7" cy="666.7" rx="0.6" ry="0.5" transform="rotate(111 461.7 666.7)" fill="rgb(168,168,168)"/>
<ellipse cx="464.7" cy="667.1" rx="1.2" ry="0.7" transform="rotate(11 464.7 667.1)" fill="rgb(40,40,40)"/>
<ellipse cx="466.2" cy="667.5" rx="0.9" ry="0.7" transform="rotate(71 466.2 667.5)" fill="rgb(149,149,149)"/>
<ellipse cx="471.0" cy="667.4" rx="0.6" ry="0.5" transform="rotate(158 471.0 667.4)" fill="rgb(190,190,190)"/>
<ellipse cx="474.0" cy="667.1" rx="1.1" ry="0.8" transform="rotate(123 474.0 667.1)" fill="rgb(66,66,66)"/>
<ellipse cx="476.6" cy="667.4" rx="1.2" ry="0.8" transform="rotate(87 476.6 667.4)" fill="rgb(75,75,75)"/>
<ellipse cx="478.7" cy="668.3" rx="1.0" ry="0.8" transform="rotate(139 478.7 668.3)" fill="rgb(73,73,73)"/>
<ellipse cx="485.6" cy="668.2" rx="1.1" ry="0.8" transform="rotate(24 485.6 668.2)" fill="rgb(55,55,55)"/>
<ellipse cx="488.0" cy="669.1" rx="0.5" ry="0.7" transform="rotate(54 488.0 669.1)" fill="rgb(114,114,114)"/>
<ellipse cx="492.1" cy="666.8" rx="0.6" ry="0.8" transform="rotate(6 492.1 666.8)" fill="rgb(116,116,116)"/>
<ellipse cx="496.0" cy="668.3" rx="0.9" ry="0.5" transform="rotate(109 496.0 668.3)" fill="rgb(178,178,178)"/>
<ellipse cx="497.3" cy="667.2" rx="1.0" ry="0.7" transform="rotate(22 497.3 667.2)" fill="rgb(156,156,156)"/>
<ellipse cx="499.4" cy="669.1" rx="0.9" ry="0.9" transform="rotate(85 499.4 669.1)" fill="rgb(69,69,69)"/>
<ellipse cx="503.9" cy="668.2" rx="1.1" ry="0.9" transform="rotate(135 503.9 668.2)" fill="rgb(36,36,36)"/>
<ellipse cx="507.9" cy="668.7" rx="1.1" ry="0.9" transform="rotate(176 507.9 668.7)" fill="rgb(39,39,39)"/>
<ellipse cx="510.8" cy="667.4" rx="1.0" ry="0.7" transform="rotate(10 510.8 667.4)" fill="rgb(163,163,163)"/>
<ellipse cx="511.8" cy="667.2" rx="1.0" ry="0.5" transform="rotate(162 511.8 667.2)" fill="rgb(115,115,115)"/>
<ellipse cx="404.7" cy="669.9" rx="0.7" ry="0.5" transform="rotate(51 404.7 669.9)" fill="rgb(158,158,158)"/>
<ellipse cx="407.7" cy="669.2" rx="1.0" ry="0.7" transform="rotate(136 407.7 669.2)" fill="rgb(182,182,182)"/>
<ellipse cx="415.1" cy="669.9" rx="0.7" ry="0.7" transform="rotate(43 415.1 669.9)" fill="rgb(127,127,127)"/>
<ellipse cx="417.5" cy="670.9" rx="1.4" ry="0.6" transform="rotate(158 417.5 670.9)" fill="rgb(60,60,60)"/>
<ellipse cx="418.6" cy="671.6" rx="0.9" ry="0.7" transform="rotate(143 418.6 671.6)" fill="rgb(116,116,116)"/>
<ellipse cx="424.6" cy="670.4" rx="1.0" ry="0.7" transform="rotate(45 424.6 670.4)" fill="rgb(156,156,156)"/>
<ellipse cx="426.3" cy="670.1" rx="1.3" ry="0.7" transform="rotate(111 426.3 670.1)" fill="rgb(29,29,29)"/>
<ellipse cx="432.9" cy="670.0" rx="0.7" ry="0.7" transform="rotate(85 432.9 670.0)" fill="rgb(183,183,183)"/>
<ellipse cx="436.1" cy="671.1" rx="1.4" ry="0.8" transform="rotate(108 436.1 671.1)" fill="rgb(33,33,33)"/>
<ellipse cx="439.0" cy="671.5" rx="1.1" ry="0.6" transform="rotate(37 439.0 671.5)" fill="rgb(49,49,49)"/>
<ellipse cx="444.3" cy="670.7" rx="0.9" ry="0.6" transform="rotate(33 444.3 670.7)" fill="rgb(121,121,121)"/>
<ellipse cx="447.6" cy="670.5" rx="0.6" ry="0.7" transform="rotate(144 447.6 670.5)" fill="rgb(187,187,187)"/>
<ellipse cx="453.1" cy="670.2" rx="1.1" ry="0.5" transform="rotate(178 453.1 670.2)" fill="rgb(148,148,148)"/>
<ellipse cx="455.9" cy="671.7" rx="1.0" ry="0.4" transform="rotate(109 455.9 671.7)" fill="rgb(128,128,128)"/>
<ellipse cx="460.2" cy="669.2" rx="1.0" ry="0.4" transform="rotate(65 460.2 669.2)" fill="rgb(182,182,182)"/>
<ellipse cx="464.8" cy="669.7" rx="1.1" ry="1.0" transform="rotate(92 464.8 669.7)" fill="rgb(47,47,47)"/>
<ellipse cx="467.4" cy="670.7" rx="1.2" ry="0.9" transform="rotate(25 467.4 670.7)" fill="rgb(74,74,74)"/>
<ellipse cx="469.4" cy="670.8" rx="0.9" ry="0.8" transform="rotate(17 469.4 670.8)" fill="rgb(26,26,26)"/>
<ellipse cx="470.2" cy="670.1" rx="0.9" ry="0.5" transform="rotate(42 470.2 670.1)" fill="rgb(142,142,142)"/>
<ellipse cx="474.9" cy="669.8" rx="1.4" ry="1.0" transform="rotate(135 474.9 669.8)" fill="rgb(34,34,34)"/>
<ellipse cx="477.3" cy="671.0" rx="1.4" ry="1.0" transform="rotate(88 477.3 671.0)" fill="rgb(26,26,26)"/>
<ellipse cx="482.9" cy="670.7" rx="0.7" ry="0.5" transform="rotate(180 482.9 670.7)" fill="rgb(137,137,137)"/>
<ellipse cx="484.1" cy="671.2" rx="0.9" ry="0.6" transform="rotate(64 484.1 671.2)" fill="rgb(72,72,72)"/>
<ellipse cx="486.9" cy="670.0" rx="0.8" ry="0.5" transform="rotate(57 486.9 670.0)" fill="rgb(185,185,185)"/>
<ellipse cx="489.7" cy="669.7" rx="0.8" ry="0.8" transform="rotate(85 489.7 669.7)" fill="rgb(172,172,172)"/>
<ellipse cx="491.7" cy="670.5" rx="0.8" ry="0.6" transform="rotate(13 491.7 670.5)" fill="rgb(139,139,139)"/>
<ellipse cx="495.4" cy="671.7" rx="0.7" ry="0.6" transform="rotate(127 495.4 671.7)" fill="rgb(155,155,155)"/>
<ellipse cx="498.4" cy="670.9" rx="1.0" ry="0.6" transform="rotate(153 498.4 670.9)" fill="rgb(115,115,115)"/>
<ellipse cx="500.7" cy="670.1" rx="1.1" ry="0.6" transform="rotate(112 500.7 670.1)" fill="rgb(165,165,165)"/>
<ellipse cx="501.8" cy="670.9" rx="0.5" ry="0.7" transform="rotate(66 501.8 670.9)" fill="rgb(190,190,190)"/>
<ellipse cx="506.2" cy="671.3" rx="0.9" ry="0.5" transform="rotate(99 506.2 671.3)" fill="rgb(130,130,130)"/>
<ellipse cx="507.6" cy="669.7" rx="1.4" ry="0.9" transform="rotate(111 507.6 669.7)" fill="rgb(23,23,23)"/>
<ellipse cx="511.3" cy="670.3" rx="1.1" ry="0.6" transform="rotate(96 511.3 670.3)" fill="rgb(90,90,90)"/>
<ellipse cx="514.2" cy="670.9" rx="0.7" ry="0.6" transform="rotate(102 514.2 670.9)" fill="rgb(187,187,187)"/>
<ellipse cx="402.8" cy="673.9" rx="0.5" ry="0.8" transform="rotate(148 402.8 673.9)" fill="rgb(146,146,146)"/>
<ellipse cx="405.6" cy="673.6" rx="0.9" ry="0.6" transform="rotate(26 405.6 673.6)" fill="rgb(37,37,37)"/>
<ellipse cx="408.4" cy="671.9" rx="1.3" ry="0.9" transform="rotate(170 408.4 671.9)" fill="rgb(33,33,33)"/>
<ellipse cx="411.8" cy="674.2" rx="1.4" ry="0.7" transform="rotate(7 411.8 674.2)" fill="rgb(44,44,44)"/>
<ellipse cx="414.3" cy="673.7" rx="0.9" ry="0.7" transform="rotate(107 414.3 673.7)" fill="rgb(132,132,132)"/>
<ellipse cx="418.1" cy="671.9" rx="0.8" ry="0.6" transform="rotate(20 418.1 671.9)" fill="rgb(41,41,41)"/>
<ellipse cx="418.6" cy="672.3" rx="0.9" ry="0.8" transform="rotate(22 418.6 672.3)" fill="rgb(156,156,156)"/>
<ellipse cx="423.0" cy="672.6" rx="0.8" ry="0.6" transform="rotate(179 423.0 672.6)" fill="rgb(113,113,113)"/>
<ellipse cx="425.2" cy="672.3" rx="0.8" ry="0.7" transform="rotate(80 425.2 672.3)" fill="rgb(27,27,27)"/>
<ellipse cx="430.0" cy="674.1" rx="1.1" ry="0.6" transform="rotate(119 430.0 674.1)" fill="rgb(63,63,63)"/>
<ellipse cx="432.5" cy="672.2" rx="1.3" ry="0.8" transform="rotate(32 432.5 672.2)" fill="rgb(83,83,83)"/>
<ellipse cx="434.8" cy="673.6" rx="1.3" ry="0.9" transform="rotate(169 434.8 673.6)" fill="rgb(85,85,85)"/>
<ellipse cx="438.6" cy="672.7" rx="0.6" ry="0.6" transform="rotate(60 438.6 672.7)" fill="rgb(162,162,162)"/>
<ellipse cx="442.0" cy="674.1" rx="1.5" ry="0.6" transform="rotate(178 442.0 674.1)" fill="rgb(20,20,20)"/>
<ellipse cx="447.5" cy="673.4" rx="1.4" ry="0.8" transform="rotate(155 447.5 673.4)" fill="rgb(55,55,55)"/>
<ellipse cx="452.1" cy="672.9" rx="1.0" ry="0.7" transform="rotate(77 452.1 672.9)" fill="rgb(84,84,84)"/>
<ellipse cx="457.5" cy="672.5" rx="1.4" ry="0.7" transform="rotate(15 457.5 672.5)" fill="rgb(52,52,52)"/>
<ellipse cx="461.0" cy="672.8" rx="1.4" ry="0.7" transform="rotate(118 461.0 672.8)" fill="rgb(28,28,28)"/>
<ellipse cx="467.5" cy="674.4" rx="0.8" ry="0.7" transform="rotate(82 467.5 674.4)" fill="rgb(145,145,145)"/>
<ellipse cx="471.4" cy="672.1" rx="0.6" ry="0.7" transform="rotate(108 471.4 672.1)" fill="rgb(116,116,116)"/>
<ellipse cx="478.7" cy="673.1" rx="0.5" ry="0.4" transform="rotate(39 478.7 673.1)" fill="rgb(114,114,114)"/>
<ellipse cx="482.2" cy="674.1" rx="0.9" ry="0.9" transform="rotate(172 482.2 674.1)" fill="rgb(43,43,43)"/>
<ellipse cx="484.9" cy="673.8" rx="1.0" ry="0.5" transform="rotate(29 484.9 673.8)" fill="rgb(131,131,131)"/>
<ellipse cx="489.1" cy="674.2" rx="1.4" ry="0.8" transform="rotate(114 489.1 674.2)" fill="rgb(28,28,28)"/>
<ellipse cx="492.4" cy="674.0" rx="0.6" ry="0.8" transform="rotate(123 492.4 674.0)" fill="rgb(150,150,150)"/>
<ellipse cx="495.5" cy="672.4" rx="1.0" ry="0.8" transform="rotate(29 495.5 672.4)" fill="rgb(143,143,143)"/>
<ellipse cx="498.0" cy="673.2" rx="0.6" ry="0.5" transform="rotate(85 498.0 673.2)" fill="rgb(170,170,170)"/>
<ellipse cx="501.2" cy="673.3" rx="1.1" ry="1.0" transform="rotate(29 501.2 673.3)" fill="rgb(62,62,62)"/>
<ellipse cx="506.6" cy="672.2" rx="1.1" ry="0.6" transform="rotate(32 506.6 672.2)" fill="rgb(180,180,180)"/>
<ellipse cx="508.6" cy="672.6" rx="1.1" ry="0.6" transform="rotate(101 508.6 672.6)" fill="rgb(157,157,157)"/>
<ellipse cx="511.7" cy="673.6" rx="1.1" ry="0.7" transform="rotate(172 511.7 673.6)" fill="rgb(179,179,179)"/>
<ellipse cx="513.5" cy="672.3" rx="0.9" ry="0.7" transform="rotate(128 513.5 672.3)" fill="rgb(51,51,51)"/>
<ellipse cx="401.5" cy="675.5" rx="0.8" ry="0.8" transform="rotate(136 401.5 675.5)" fill="rgb(35,35,35)"/>
<ellipse cx="403.2" cy="674.7" rx="0.8" ry="0.6" transform="rotate(128 403.2 674.7)" fill="rgb(94,94,94)"/>
<ellipse cx="405.2" cy="674.5" rx="1.1" ry="0.5" transform="rotate(125 405.2 674.5)" fill="rgb(182,182,182)"/>
<ellipse cx="409.1" cy="675.3" rx="0.8" ry="0.5" transform="rotate(36 409.1 675.3)" fill="rgb(183,183,183)"/>
<ellipse cx="410.9" cy="676.6" rx="1.4" ry="0.7" transform="rotate(172 410.9 676.6)" fill="rgb(85,85,85)"/>
<ellipse cx="415.7" cy="676.0" rx="0.8" ry="0.7" transform="rotate(93 415.7 676.0)" fill="rgb(144,144,144)"/>
<ellipse cx="419.3" cy="676.7" rx="0.7" ry="0.6" transform="rotate(112 419.3 676.7)" fill="rgb(74,74,74)"/>
<ellipse cx="422.5" cy="674.8" rx="0.8" ry="0.5" transform="rotate(46 422.5 674.8)" fill="rgb(157,157,157)"/>
<ellipse cx="423.8" cy="674.8" rx="1.2" ry="0.9" transform="rotate(56 423.8 674.8)" fill="rgb(40,40,40)"/>
<ellipse cx="427.5" cy="674.6" rx="0.8" ry="0.7" transform="rotate(43 427.5 674.6)" fill="rgb(117,117,117)"/>
<ellipse cx="429.0" cy="676.8" rx="1.4" ry="0.7" transform="rotate(150 429.0 676.8)" fill="rgb(31,31,31)"/>
<ellipse cx="432.7" cy="675.5" rx="0.5" ry="0.8" transform="rotate(81 432.7 675.5)" fill="rgb(116,116,116)"/>
<ellipse cx="435.1" cy="676.8" rx="0.6" ry="0.4" transform="rotate(139 435.1 676.8)" fill="rgb(120,120,120)"/>
<ellipse cx="438.4" cy="675.3" rx="1.3" ry="0.6" transform="rotate(44 438.4 675.3)" fill="rgb(77,77,77)"/>
<ellipse cx="439.4" cy="675.2" rx="1.0" ry="0.7" transform="rotate(167 439.4 675.2)" fill="rgb(164,164,164)"/>
<ellipse cx="448.9" cy="675.1" rx="0.7" ry="0.8" transform="rotate(92 448.9 675.1)" fill="rgb(44,44,44)"/>
<ellipse cx="449.8" cy="676.1" rx="0.9" ry="0.4" transform="rotate(1 449.8 676.1)" fill="rgb(169,169,169)"/>
<ellipse cx="452.6" cy="675.4" rx="0.8" ry="0.9" transform="rotate(60 452.6 675.4)" fill="rgb(66,66,66)"/>
<ellipse cx="455.3" cy="676.1" rx="1.0" ry="0.9" transform="rotate(12 455.3 676.1)" fill="rgb(75,75,75)"/>
<ellipse cx="457.4" cy="674.5" rx="0.9" ry="0.8" transform="rotate(90 457.4 674.5)" fill="rgb(68,68,68)"/>
<ellipse cx="461.1" cy="674.9" rx="0.8" ry="0.7" transform="rotate(11 461.1 674.9)" fill="rgb(147,147,147)"/>
<ellipse cx="463.9" cy="676.7" rx="0.8" ry="0.7" transform="rotate(126 463.9 676.7)" fill="rgb(23,23,23)"/>
<ellipse cx="466.5" cy="676.9" rx="1.3" ry="0.9" transform="rotate(144 466.5 676.9)" fill="rgb(34,34,34)"/>
<ellipse cx="473.9" cy="676.6" rx="1.1" ry="0.6" transform="rotate(16 473.9 676.6)" fill="rgb(36,36,36)"/>
<ellipse cx="477.3" cy="676.6" rx="0.6" ry="0.7" transform="rotate(21 477.3 676.6)" fill="rgb(124,124,124)"/>
<ellipse cx="479.0" cy="676.1" rx="0.7" ry="0.7" transform="rotate(179 479.0 676.1)" fill="rgb(59,59,59)"/>
<ellipse cx="487.5" cy="676.9" rx="0.6" ry="0.6" transform="rotate(131 487.5 676.9)" fill="rgb(171,171,171)"/>
<ellipse cx="488.7" cy="675.3" rx="1.1" ry="0.6" transform="rotate(23 488.7 675.3)" fill="rgb(174,174,174)"/>
<ellipse cx="491.1" cy="675.5" rx="0.5" ry="0.5" transform="rotate(139 491.1 675.5)" fill="rgb(125,125,125)"/>
<ellipse cx="495.4" cy="676.4" rx="0.6" ry="0.8" transform="rotate(98 495.4 676.4)" fill="rgb(175,175,175)"/>
<ellipse cx="498.9" cy="675.1" rx="0.9" ry="0.7" transform="rotate(128 498.9 675.1)" fill="rgb(155,155,155)"/>
<ellipse cx="502.6" cy="674.6" rx="0.9" ry="0.7" transform="rotate(118 502.6 674.6)" fill="rgb(165,165,165)"/>
<ellipse cx="505.8" cy="676.1" rx="0.7" ry="0.4" transform="rotate(74 505.8 676.1)" fill="rgb(156,156,156)"/>
<ellipse cx="512.7" cy="675.6" rx="0.9" ry="0.5" transform="rotate(66 512.7 675.6)" fill="rgb(123,123,123)"/>
</g>
<clipPath id="cl2"><polygon points="573.00,627.30 666.50,627.30 667.00,649.00 674.50,673.00 573.00,673.50"/></clipPath>
<g clip-path="url(#cl2)">
<ellipse cx="570.7" cy="626.3" rx="1.0" ry="0.7" transform="rotate(52 570.7 626.3)" fill="rgb(166,166,166)"/>
<ellipse cx="573.0" cy="625.4" rx="0.9" ry="0.5" transform="rotate(166 573.0 625.4)" fill="rgb(117,117,117)"/>
<ellipse cx="580.1" cy="626.1" rx="1.3" ry="0.7" transform="rotate(20 580.1 626.1)" fill="rgb(35,35,35)"/>
<ellipse cx="585.6" cy="627.6" rx="0.6" ry="0.7" transform="rotate(21 585.6 627.6)" fill="rgb(157,157,157)"/>
<ellipse cx="586.4" cy="625.3" rx="1.3" ry="0.6" transform="rotate(121 586.4 625.3)" fill="rgb(94,94,94)"/>
<ellipse cx="589.8" cy="625.8" rx="1.4" ry="1.0" transform="rotate(85 589.8 625.8)" fill="rgb(49,49,49)"/>
<ellipse cx="592.8" cy="627.3" rx="1.2" ry="0.8" transform="rotate(92 592.8 627.3)" fill="rgb(31,31,31)"/>
<ellipse cx="593.7" cy="625.6" rx="1.0" ry="0.7" transform="rotate(21 593.7 625.6)" fill="rgb(49,49,49)"/>
<ellipse cx="599.2" cy="626.5" rx="0.5" ry="0.7" transform="rotate(48 599.2 626.5)" fill="rgb(148,148,148)"/>
<ellipse cx="603.9" cy="626.0" rx="1.2" ry="0.9" transform="rotate(99 603.9 626.0)" fill="rgb(80,80,80)"/>
<ellipse cx="607.4" cy="627.1" rx="0.9" ry="0.9" transform="rotate(169 607.4 627.1)" fill="rgb(76,76,76)"/>
<ellipse cx="614.7" cy="625.0" rx="0.8" ry="0.8" transform="rotate(93 614.7 625.0)" fill="rgb(154,154,154)"/>
<ellipse cx="619.4" cy="625.4" rx="0.8" ry="0.5" transform="rotate(38 619.4 625.4)" fill="rgb(179,179,179)"/>
<ellipse cx="621.7" cy="625.9" rx="0.9" ry="0.6" transform="rotate(137 621.7 625.9)" fill="rgb(146,146,146)"/>
<ellipse cx="625.6" cy="627.6" rx="0.6" ry="0.7" transform="rotate(61 625.6 627.6)" fill="rgb(124,124,124)"/>
<ellipse cx="628.3" cy="627.5" rx="0.7" ry="0.5" transform="rotate(120 628.3 627.5)" fill="rgb(135,135,135)"/>
<ellipse cx="631.0" cy="626.1" rx="1.3" ry="0.8" transform="rotate(147 631.0 626.1)" fill="rgb(67,67,67)"/>
<ellipse cx="635.8" cy="626.0" rx="1.1" ry="0.9" transform="rotate(31 635.8 626.0)" fill="rgb(89,89,89)"/>
<ellipse cx="639.3" cy="626.8" rx="1.2" ry="0.6" transform="rotate(119 639.3 626.8)" fill="rgb(41,41,41)"/>
<ellipse cx="642.5" cy="625.8" rx="0.9" ry="0.7" transform="rotate(24 642.5 625.8)" fill="rgb(124,124,124)"/>
<ellipse cx="643.6" cy="626.8" rx="0.9" ry="0.7" transform="rotate(150 643.6 626.8)" fill="rgb(183,183,183)"/>
<ellipse cx="647.1" cy="626.9" rx="0.8" ry="0.9" transform="rotate(81 647.1 626.9)" fill="rgb(83,83,83)"/>
<ellipse cx="650.5" cy="627.1" rx="0.6" ry="0.6" transform="rotate(107 650.5 627.1)" fill="rgb(114,114,114)"/>
<ellipse cx="652.4" cy="626.3" rx="1.3" ry="0.6" transform="rotate(4 652.4 626.3)" fill="rgb(86,86,86)"/>
<ellipse cx="654.8" cy="625.6" rx="1.4" ry="0.8" transform="rotate(155 654.8 625.6)" fill="rgb(50,50,50)"/>
<ellipse cx="656.3" cy="627.3" rx="0.5" ry="0.5" transform="rotate(164 656.3 627.3)" fill="rgb(118,118,118)"/>
<ellipse cx="658.5" cy="626.9" rx="1.3" ry="0.9" transform="rotate(166 658.5 626.9)" fill="rgb(58,58,58)"/>
<ellipse cx="664.7" cy="627.1" rx="1.4" ry="0.9" transform="rotate(41 664.7 627.1)" fill="rgb(56,56,56)"/>
<ellipse cx="666.4" cy="627.4" rx="0.9" ry="0.7" transform="rotate(69 666.4 627.4)" fill="rgb(128,128,128)"/>
<ellipse cx="673.6" cy="627.4" rx="0.9" ry="1.0" transform="rotate(45 673.6 627.4)" fill="rgb(85,85,85)"/>
<ellipse cx="675.8" cy="626.0" rx="0.9" ry="1.0" transform="rotate(83 675.8 626.0)" fill="rgb(67,67,67)"/>
<ellipse cx="677.5" cy="626.3" rx="1.0" ry="0.7" transform="rotate(72 677.5 626.3)" fill="rgb(155,155,155)"/>
<ellipse cx="578.3" cy="630.1" rx="0.6" ry="0.6" transform="rotate(47 578.3 630.1)" fill="rgb(122,122,122)"/>
<ellipse cx="581.3" cy="627.9" rx="1.2" ry="0.9" transform="rotate(79 581.3 627.9)" fill="rgb(60,60,60)"/>
<ellipse cx="583.0" cy="629.7" rx="1.4" ry="0.8" transform="rotate(113 583.0 629.7)" fill="rgb(92,92,92)"/>
<ellipse cx="585.9" cy="629.6" rx="1.4" ry="0.9" transform="rotate(147 585.9 629.6)" fill="rgb(75,75,75)"/>
<ellipse cx="591.3" cy="627.9" rx="0.8" ry="0.5" transform="rotate(116 591.3 627.9)" fill="rgb(138,138,138)"/>
<ellipse cx="594.5" cy="628.3" rx="1.3" ry="0.9" transform="rotate(86 594.5 628.3)" fill="rgb(40,40,40)"/>
<ellipse cx="597.4" cy="628.7" rx="1.0" ry="0.4" transform="rotate(80 597.4 628.7)" fill="rgb(135,135,135)"/>
<ellipse cx="600.9" cy="629.3" rx="1.0" ry="0.9" transform="rotate(113 600.9 629.3)" fill="rgb(59,59,59)"/>
<ellipse cx="602.7" cy="630.0" rx="1.0" ry="0.6" transform="rotate(177 602.7 630.0)" fill="rgb(28,28,28)"/>
<ellipse cx="604.2" cy="628.4" rx="1.3" ry="0.9" transform="rotate(151 604.2 628.4)" fill="rgb(27,27,27)"/>
<ellipse cx="608.7" cy="627.7" rx="0.8" ry="0.7" transform="rotate(47 608.7 627.7)" fill="rgb(31,31,31)"/>
<ellipse cx="617.1" cy="629.5" rx="0.8" ry="0.4" transform="rotate(38 617.1 629.5)" fill="rgb(138,138,138)"/>
<ellipse cx="619.5" cy="629.6" rx="1.1" ry="0.6" transform="rotate(75 619.5 629.6)" fill="rgb(149,149,149)"/>
<ellipse cx="623.6" cy="629.7" rx="0.9" ry="0.6" transform="rotate(150 623.6 629.7)" fill="rgb(177,177,177)"/>
<ellipse cx="625.8" cy="628.1" rx="1.0" ry="0.6" transform="rotate(101 625.8 628.1)" fill="rgb(116,116,116)"/>
<ellipse cx="628.4" cy="629.1" rx="1.1" ry="0.9" transform="rotate(123 628.4 629.1)" fill="rgb(30,30,30)"/>
<ellipse cx="632.1" cy="628.7" rx="0.9" ry="0.8" transform="rotate(152 632.1 628.7)" fill="rgb(40,40,40)"/>
<ellipse cx="633.6" cy="627.9" rx="1.3" ry="0.9" transform="rotate(26 633.6 627.9)" fill="rgb(46,46,46)"/>
<ellipse cx="636.0" cy="627.6" rx="1.0" ry="0.9" transform="rotate(107 636.0 627.6)" fill="rgb(86,86,86)"/>
<ellipse cx="638.5" cy="627.9" rx="0.7" ry="0.7" transform="rotate(143 638.5 627.9)" fill="rgb(149,149,149)"/>
<ellipse cx="642.0" cy="628.0" rx="1.2" ry="1.0" transform="rotate(5 642.0 628.0)" fill="rgb(58,58,58)"/>
<ellipse cx="644.7" cy="628.6" rx="1.0" ry="0.8" transform="rotate(161 644.7 628.6)" fill="rgb(73,73,73)"/>
<ellipse cx="645.7" cy="628.8" rx="0.8" ry="0.4" transform="rotate(68 645.7 628.8)" fill="rgb(139,139,139)"/>
<ellipse cx="648.5" cy="628.8" rx="0.7" ry="0.6" transform="rotate(50 648.5 628.8)" fill="rgb(181,181,181)"/>
<ellipse cx="650.9" cy="627.7" rx="1.0" ry="0.5" transform="rotate(70 650.9 627.7)" fill="rgb(166,166,166)"/>
<ellipse cx="654.8" cy="628.5" rx="0.6" ry="0.5" transform="rotate(162 654.8 628.5)" fill="rgb(144,144,144)"/>
<ellipse cx="656.4" cy="629.1" rx="0.5" ry="0.6" transform="rotate(164 656.4 629.1)" fill="rgb(148,148,148)"/>
<ellipse cx="659.5" cy="629.6" rx="1.3" ry="0.7" transform="rotate(129 659.5 629.6)" fill="rgb(84,84,84)"/>
<ellipse cx="661.1" cy="628.6" rx="1.1" ry="0.6" transform="rotate(91 661.1 628.6)" fill="rgb(39,39,39)"/>
<ellipse cx="665.3" cy="629.7" rx="0.9" ry="0.4" transform="rotate(148 665.3 629.7)" fill="rgb(147,147,147)"/>
<ellipse cx="667.3" cy="628.3" rx="1.4" ry="0.6" transform="rotate(98 667.3 628.3)" fill="rgb(32,32,32)"/>
<ellipse cx="670.5" cy="628.4" rx="0.8" ry="0.7" transform="rotate(125 670.5 628.4)" fill="rgb(93,93,93)"/>
<ellipse cx="672.9" cy="629.5" rx="1.1" ry="0.6" transform="rotate(4 672.9 629.5)" fill="rgb(75,75,75)"/>
<ellipse cx="675.2" cy="628.4" rx="0.9" ry="0.6" transform="rotate(144 675.2 628.4)" fill="rgb(122,122,122)"/>
<ellipse cx="677.9" cy="628.2" rx="1.1" ry="0.8" transform="rotate(67 677.9 628.2)" fill="rgb(59,59,59)"/>
<ellipse cx="571.1" cy="632.5" rx="1.5" ry="1.0" transform="rotate(170 571.1 632.5)" fill="rgb(75,75,75)"/>
<ellipse cx="573.3" cy="632.3" rx="0.6" ry="0.8" transform="rotate(146 573.3 632.3)" fill="rgb(126,126,126)"/>
<ellipse cx="578.3" cy="630.9" rx="0.6" ry="0.6" transform="rotate(54 578.3 630.9)" fill="rgb(122,122,122)"/>
<ellipse cx="582.5" cy="630.7" rx="0.8" ry="0.6" transform="rotate(172 582.5 630.7)" fill="rgb(134,134,134)"/>
<ellipse cx="584.0" cy="632.0" rx="1.2" ry="0.8" transform="rotate(72 584.0 632.0)" fill="rgb(56,56,56)"/>
<ellipse cx="587.1" cy="631.5" rx="1.5" ry="1.0" transform="rotate(179 587.1 631.5)" fill="rgb(63,63,63)"/>
<ellipse cx="589.4" cy="632.4" rx="1.3" ry="0.9" transform="rotate(150 589.4 632.4)" fill="rgb(42,42,42)"/>
<ellipse cx="594.6" cy="631.0" rx="1.0" ry="0.7" transform="rotate(121 594.6 631.0)" fill="rgb(179,179,179)"/>
<ellipse cx="596.4" cy="630.6" rx="0.6" ry="0.5" transform="rotate(94 596.4 630.6)" fill="rgb(123,123,123)"/>
<ellipse cx="603.3" cy="632.7" rx="0.8" ry="0.6" transform="rotate(171 603.3 632.7)" fill="rgb(21,21,21)"/>
<ellipse cx="604.4" cy="631.4" rx="0.9" ry="0.7" transform="rotate(173 604.4 631.4)" fill="rgb(122,122,122)"/>
<ellipse cx="607.0" cy="630.9" rx="0.8" ry="0.9" transform="rotate(120 607.0 630.9)" fill="rgb(94,94,94)"/>
<ellipse cx="609.2" cy="631.4" rx="0.7" ry="0.8" transform="rotate(160 609.2 631.4)" fill="rgb(24,24,24)"/>
<ellipse cx="611.9" cy="632.4" rx="1.3" ry="0.9" transform="rotate(99 611.9 632.4)" fill="rgb(82,82,82)"/>
<ellipse cx="616.3" cy="630.6" rx="0.7" ry="0.6" transform="rotate(16 616.3 630.6)" fill="rgb(134,134,134)"/>
<ellipse cx="619.4" cy="632.2" rx="0.7" ry="0.6" transform="rotate(146 619.4 632.2)" fill="rgb(134,134,134)"/>
<ellipse cx="623.0" cy="630.5" rx="0.9" ry="0.8" transform="rotate(119 623.0 630.5)" fill="rgb(143,143,143)"/>
<ellipse cx="627.0" cy="632.2" rx="0.8" ry="0.7" transform="rotate(166 627.0 632.2)" fill="rgb(150,150,150)"/>
<ellipse cx="629.0" cy="630.7" rx="1.3" ry="0.9" transform="rotate(38 629.0 630.7)" fill="rgb(36,36,36)"/>
<ellipse cx="630.3" cy="631.9" rx="1.0" ry="0.9" transform="rotate(143 630.3 631.9)" fill="rgb(81,81,81)"/>
<ellipse cx="635.5" cy="630.4" rx="0.5" ry="0.6" transform="rotate(91 635.5 630.4)" fill="rgb(162,162,162)"/>
<ellipse cx="637.8" cy="630.8" rx="0.7" ry="0.7" transform="rotate(55 637.8 630.8)" fill="rgb(63,63,63)"/>
<ellipse cx="641.5" cy="631.2" rx="0.8" ry="0.5" transform="rotate(142 641.5 631.2)" fill="rgb(187,187,187)"/>
<ellipse cx="650.2" cy="631.5" rx="0.7" ry="0.4" transform="rotate(104 650.2 631.5)" fill="rgb(158,158,158)"/>
<ellipse cx="650.6" cy="631.2" rx="1.2" ry="0.6" transform="rotate(95 650.6 631.2)" fill="rgb(89,89,89)"/>
<ellipse cx="653.5" cy="630.5" rx="0.8" ry="0.6" transform="rotate(108 653.5 630.5)" fill="rgb(174,174,174)"/>
<ellipse cx="661.0" cy="632.2" rx="1.4" ry="0.8" transform="rotate(120 661.0 632.2)" fill="rgb(55,55,55)"/>
<ellipse cx="664.5" cy="631.4" rx="1.2" ry="0.8" transform="rotate(60 664.5 631.4)" fill="rgb(26,26,26)"/>
<ellipse cx="667.6" cy="632.6" rx="1.0" ry="0.6" transform="rotate(77 667.6 632.6)" fill="rgb(113,113,113)"/>
<ellipse cx="671.1" cy="631.8" rx="0.6" ry="0.7" transform="rotate(114 671.1 631.8)" fill="rgb(148,148,148)"/>
<ellipse cx="676.8" cy="632.3" rx="1.2" ry="0.9" transform="rotate(132 676.8 632.3)" fill="rgb(50,50,50)"/>
<ellipse cx="572.2" cy="634.7" rx="1.1" ry="0.7" transform="rotate(106 572.2 634.7)" fill="rgb(188,188,188)"/>
<ellipse cx="575.8" cy="634.1" rx="0.7" ry="0.7" transform="rotate(152 575.8 634.1)" fill="rgb(132,132,132)"/>
<ellipse cx="580.3" cy="633.6" rx="0.8" ry="0.7" transform="rotate(169 580.3 633.6)" fill="rgb(116,116,116)"/>
<ellipse cx="580.8" cy="635.0" rx="0.8" ry="0.8" transform="rotate(59 580.8 635.0)" fill="rgb(118,118,118)"/>
<ellipse cx="592.1" cy="635.0" rx="1.4" ry="0.6" transform="rotate(41 592.1 635.0)" fill="rgb(59,59,59)"/>
<ellipse cx="604.6" cy="634.6" rx="1.0" ry="0.6" transform="rotate(145 604.6 634.6)" fill="rgb(145,145,145)"/>
<ellipse cx="608.0" cy="633.3" rx="0.7" ry="0.5" transform="rotate(121 608.0 633.3)" fill="rgb(112,112,112)"/>
<ellipse cx="612.4" cy="633.1" rx="1.3" ry="0.8" transform="rotate(29 612.4 633.1)" fill="rgb(89,89,89)"/>
<ellipse cx="619.6" cy="634.5" rx="0.9" ry="0.8" transform="rotate(113 619.6 634.5)" fill="rgb(72,72,72)"/>
<ellipse cx="622.3" cy="633.8" rx="1.2" ry="0.7" transform="rotate(141 622.3 633.8)" fill="rgb(64,64,64)"/>
<ellipse cx="626.0" cy="634.6" rx="1.0" ry="0.7" transform="rotate(53 626.0 634.6)" fill="rgb(56,56,56)"/>
<ellipse cx="627.5" cy="633.9" rx="0.6" ry="0.8" transform="rotate(55 627.5 633.9)" fill="rgb(171,171,171)"/>
<ellipse cx="631.4" cy="633.0" rx="0.8" ry="0.7" transform="rotate(46 631.4 633.0)" fill="rgb(74,74,74)"/>
<ellipse cx="633.1" cy="633.1" rx="1.0" ry="0.5" transform="rotate(34 633.1 633.1)" fill="rgb(165,165,165)"/>
<ellipse cx="640.1" cy="633.7" rx="0.8" ry="0.7" transform="rotate(166 640.1 633.7)" fill="rgb(120,120,120)"/>
<ellipse cx="641.9" cy="633.6" rx="0.7" ry="0.6" transform="rotate(52 641.9 633.6)" fill="rgb(169,169,169)"/>
<ellipse cx="645.1" cy="634.8" rx="0.9" ry="0.6" transform="rotate(166 645.1 634.8)" fill="rgb(132,132,132)"/>
<ellipse cx="647.1" cy="635.1" rx="1.1" ry="0.4" transform="rotate(148 647.1 635.1)" fill="rgb(178,178,178)"/>
<ellipse cx="649.0" cy="635.0" rx="1.3" ry="0.8" transform="rotate(131 649.0 635.0)" fill="rgb(72,72,72)"/>
<ellipse cx="652.4" cy="634.6" rx="1.2" ry="1.0" transform="rotate(68 652.4 634.6)" fill="rgb(59,59,59)"/>
<ellipse cx="658.3" cy="634.4" rx="0.6" ry="0.4" transform="rotate(21 658.3 634.4)" fill="rgb(176,176,176)"/>
<ellipse cx="662.7" cy="634.3" rx="0.6" ry="0.7" transform="rotate(98 662.7 634.3)" fill="rgb(174,174,174)"/>
<ellipse cx="664.7" cy="633.5" rx="1.1" ry="0.8" transform="rotate(101 664.7 633.5)" fill="rgb(83,83,83)"/>
<ellipse cx="666.7" cy="632.9" rx="1.0" ry="0.9" transform="rotate(43 666.7 632.9)" fill="rgb(47,47,47)"/>
<ellipse cx="670.8" cy="633.9" rx="0.8" ry="0.4" transform="rotate(31 670.8 633.9)" fill="rgb(118,118,118)"/>
<ellipse cx="671.9" cy="633.0" rx="1.1" ry="0.9" transform="rotate(12 671.9 633.0)" fill="rgb(66,66,66)"/>
<ellipse cx="675.4" cy="634.5" rx="0.7" ry="0.8" transform="rotate(155 675.4 634.5)" fill="rgb(24,24,24)"/>
<ellipse cx="677.6" cy="634.7" rx="1.1" ry="0.5" transform="rotate(33 677.6 634.7)" fill="rgb(169,169,169)"/>
<ellipse cx="572.1" cy="636.6" rx="0.7" ry="0.7" transform="rotate(129 572.1 636.6)" fill="rgb(186,186,186)"/>
<ellipse cx="574.7" cy="637.4" rx="0.9" ry="0.7" transform="rotate(96 574.7 637.4)" fill="rgb(55,55,55)"/>
<ellipse cx="576.9" cy="635.7" rx="0.6" ry="0.7" transform="rotate(2 576.9 635.7)" fill="rgb(111,111,111)"/>
<ellipse cx="579.6" cy="636.5" rx="0.7" ry="0.6" transform="rotate(127 579.6 636.5)" fill="rgb(183,183,183)"/>
<ellipse cx="581.2" cy="637.3" rx="1.0" ry="0.6" transform="rotate(15 581.2 637.3)" fill="rgb(158,158,158)"/>
<ellipse cx="587.1" cy="637.2" rx="0.9" ry="0.6" transform="rotate(141 587.1 637.2)" fill="rgb(165,165,165)"/>
<ellipse cx="589.6" cy="637.4" rx="0.5" ry="0.7" transform="rotate(59 589.6 637.4)" fill="rgb(137,137,137)"/>
<ellipse cx="592.8" cy="637.2" rx="1.3" ry="0.6" transform="rotate(144 592.8 637.2)" fill="rgb(76,76,76)"/>
<ellipse cx="595.0" cy="637.6" rx="1.1" ry="0.6" transform="rotate(178 595.0 637.6)" fill="rgb(45,45,45)"/>
<ellipse cx="597.0" cy="635.5" rx="1.4" ry="0.6" transform="rotate(31 597.0 635.5)" fill="rgb(38,38,38)"/>
<ellipse cx="601.6" cy="635.7" rx="1.1" ry="0.7" transform="rotate(169 601.6 635.7)" fill="rgb(78,78,78)"/>
<ellipse cx="604.5" cy="637.3" rx="0.8" ry="0.5" transform="rotate(40 604.5 637.3)" fill="rgb(111,111,111)"/>
<ellipse cx="609.7" cy="636.3" rx="0.9" ry="0.5" transform="rotate(162 609.7 636.3)" fill="rgb(175,175,175)"/>
<ellipse cx="612.3" cy="636.0" rx="1.0" ry="0.6" transform="rotate(77 612.3 636.0)" fill="rgb(43,43,43)"/>
<ellipse cx="614.4" cy="637.8" rx="0.7" ry="0.6" transform="rotate(62 614.4 637.8)" fill="rgb(115,115,115)"/>
<ellipse cx="619.2" cy="637.5" rx="0.8" ry="0.5" transform="rotate(44 619.2 637.5)" fill="rgb(127,127,127)"/>
<ellipse cx="620.1" cy="637.2" rx="0.9" ry="0.7" transform="rotate(126 620.1 637.2)" fill="rgb(45,45,45)"/>
<ellipse cx="625.5" cy="636.7" rx="0.6" ry="0.7" transform="rotate(93 625.5 636.7)" fill="rgb(164,164,164)"/>
<ellipse cx="628.4" cy="635.5" rx="0.6" ry="0.5" transform="rotate(27 628.4 635.5)" fill="rgb(172,172,172)"/>
<ellipse cx="638.8" cy="637.8" rx="0.7" ry="0.8" transform="rotate(4 638.8 637.8)" fill="rgb(154,154,154)"/>
<ellipse cx="641.5" cy="636.7" rx="1.1" ry="1.0" transform="rotate(139 641.5 636.7)" fill="rgb(78,78,78)"/>
<ellipse cx="644.7" cy="637.0" rx="1.5" ry="0.6" transform="rotate(130 644.7 637.0)" fill="rgb(91,91,91)"/>
<ellipse cx="646.2" cy="637.2" rx="1.0" ry="0.4" transform="rotate(69 646.2 637.2)" fill="rgb(190,190,190)"/>
<ellipse cx="651.4" cy="636.8" rx="1.1" ry="0.6" transform="rotate(122 651.4 636.8)" fill="rgb(64,64,64)"/>
<ellipse cx="658.3" cy="635.6" rx="0.9" ry="0.6" transform="rotate(95 658.3 635.6)" fill="rgb(112,112,112)"/>
<ellipse cx="659.7" cy="637.8" rx="0.7" ry="0.8" transform="rotate(166 659.7 637.8)" fill="rgb(162,162,162)"/>
<ellipse cx="661.7" cy="635.5" rx="1.5" ry="0.9" transform="rotate(44 661.7 635.5)" fill="rgb(46,46,46)"/>
<ellipse cx="663.7" cy="637.1" rx="0.7" ry="0.6" transform="rotate(170 663.7 637.1)" fill="rgb(156,156,156)"/>
<ellipse cx="666.2" cy="636.5" rx="1.5" ry="0.6" transform="rotate(151 666.2 636.5)" fill="rgb(94,94,94)"/>
<ellipse cx="670.7" cy="635.5" rx="0.8" ry="0.6" transform="rotate(140 670.7 635.5)" fill="rgb(128,128,128)"/>
<ellipse cx="672.5" cy="637.7" rx="1.1" ry="0.5" transform="rotate(43 672.5 637.7)" fill="rgb(120,120,120)"/>
<ellipse cx="675.2" cy="637.1" rx="1.0" ry="0.6" transform="rotate(33 675.2 637.1)" fill="rgb(175,175,175)"/>
<ellipse cx="677.9" cy="635.8" rx="0.9" ry="0.7" transform="rotate(75 677.9 635.8)" fill="rgb(26,26,26)"/>
<ellipse cx="570.1" cy="640.4" rx="1.0" ry="0.7" transform="rotate(137 570.1 640.4)" fill="rgb(137,137,137)"/>
<ellipse cx="573.4" cy="639.9" rx="1.1" ry="0.8" transform="rotate(30 573.4 639.9)" fill="rgb(80,80,80)"/>
<ellipse cx="580.3" cy="638.3" rx="0.8" ry="0.9" transform="rotate(117 580.3 638.3)" fill="rgb(62,62,62)"/>
<ellipse cx="582.4" cy="639.3" rx="1.1" ry="0.7" transform="rotate(106 582.4 639.3)" fill="rgb(144,144,144)"/>
<ellipse cx="584.3" cy="640.0" rx="0.6" ry="0.6" transform="rotate(12 584.3 640.0)" fill="rgb(163,163,163)"/>
<ellipse cx="586.2" cy="639.4" rx="0.6" ry="0.5" transform="rotate(175 586.2 639.4)" fill="rgb(148,148,148)"/>
<ellipse cx="588.4" cy="638.0" rx="0.7" ry="0.6" transform="rotate(22 588.4 638.0)" fill="rgb(185,185,185)"/>
<ellipse cx="590.9" cy="639.5" rx="0.7" ry="0.9" transform="rotate(121 590.9 639.5)" fill="rgb(79,79,79)"/>
<ellipse cx="595.8" cy="640.4" rx="1.2" ry="0.8" transform="rotate(80 595.8 640.4)" fill="rgb(80,80,80)"/>
<ellipse cx="600.7" cy="639.0" rx="1.0" ry="0.7" transform="rotate(165 600.7 639.0)" fill="rgb(168,168,168)"/>
<ellipse cx="603.7" cy="639.1" rx="1.3" ry="0.8" transform="rotate(85 603.7 639.1)" fill="rgb(94,94,94)"/>
<ellipse cx="606.1" cy="640.4" rx="0.6" ry="0.6" transform="rotate(74 606.1 640.4)" fill="rgb(163,163,163)"/>
<ellipse cx="610.5" cy="639.1" rx="1.4" ry="0.6" transform="rotate(131 610.5 639.1)" fill="rgb(43,43,43)"/>
<ellipse cx="612.9" cy="640.5" rx="0.5" ry="0.7" transform="rotate(20 612.9 640.5)" fill="rgb(112,112,112)"/>
<ellipse cx="615.3" cy="639.6" rx="0.7" ry="0.4" transform="rotate(58 615.3 639.6)" fill="rgb(125,125,125)"/>
<ellipse cx="617.3" cy="640.2" rx="0.6" ry="0.8" transform="rotate(46 617.3 640.2)" fill="rgb(144,144,144)"/>
<ellipse cx="622.4" cy="638.7" rx="1.0" ry="0.5" transform="rotate(80 622.4 638.7)" fill="rgb(134,134,134)"/>
<ellipse cx="626.9" cy="639.9" rx="1.4" ry="0.7" transform="rotate(177 626.9 639.9)" fill="rgb(80,80,80)"/>
<ellipse cx="627.6" cy="638.9" rx="1.4" ry="0.8" transform="rotate(176 627.6 638.9)" fill="rgb(42,42,42)"/>
<ellipse cx="631.2" cy="639.8" rx="0.7" ry="0.5" transform="rotate(180 631.2 639.8)" fill="rgb(156,156,156)"/>
<ellipse cx="634.5" cy="639.3" rx="0.6" ry="0.7" transform="rotate(48 634.5 639.3)" fill="rgb(179,179,179)"/>
<ellipse cx="636.8" cy="639.9" rx="1.5" ry="0.6" transform="rotate(148 636.8 639.9)" fill="rgb(33,33,33)"/>
<ellipse cx="639.0" cy="638.8" rx="0.9" ry="0.7" transform="rotate(122 639.0 638.8)" fill="rgb(64,64,64)"/>
<ellipse cx="642.0" cy="638.1" rx="0.8" ry="0.7" transform="rotate(8 642.0 638.1)" fill="rgb(183,183,183)"/>
<ellipse cx="643.2" cy="638.7" rx="1.0" ry="0.6" transform="rotate(35 643.2 638.7)" fill="rgb(165,165,165)"/>
<ellipse cx="649.2" cy="640.2" rx="1.5" ry="0.9" transform="rotate(118 649.2 640.2)" fill="rgb(70,70,70)"/>
<ellipse cx="651.5" cy="640.3" rx="0.8" ry="0.6" transform="rotate(51 651.5 640.3)" fill="rgb(61,61,61)"/>
<ellipse cx="655.9" cy="639.6" rx="0.6" ry="0.6" transform="rotate(45 655.9 639.6)" fill="rgb(144,144,144)"/>
<ellipse cx="658.8" cy="639.6" rx="0.8" ry="0.5" transform="rotate(100 658.8 639.6)" fill="rgb(124,124,124)"/>
<ellipse cx="661.1" cy="639.0" rx="0.6" ry="0.8" transform="rotate(161 661.1 639.0)" fill="rgb(163,163,163)"/>
<ellipse cx="666.2" cy="638.8" rx="1.2" ry="0.9" transform="rotate(55 666.2 638.8)" fill="rgb(36,36,36)"/>
<ellipse cx="675.7" cy="639.4" rx="0.8" ry="0.8" transform="rotate(72 675.7 639.4)" fill="rgb(77,77,77)"/>
<ellipse cx="676.9" cy="639.0" rx="0.8" ry="0.6" transform="rotate(95 676.9 639.0)" fill="rgb(121,121,121)"/>
<ellipse cx="571.6" cy="641.8" rx="0.6" ry="0.7" transform="rotate(142 571.6 641.8)" fill="rgb(180,180,180)"/>
<ellipse cx="574.1" cy="640.9" rx="0.8" ry="0.9" transform="rotate(156 574.1 640.9)" fill="rgb(61,61,61)"/>
<ellipse cx="575.2" cy="640.9" rx="1.4" ry="0.7" transform="rotate(57 575.2 640.9)" fill="rgb(53,53,53)"/>
<ellipse cx="578.2" cy="642.6" rx="0.7" ry="0.5" transform="rotate(166 578.2 642.6)" fill="rgb(129,129,129)"/>
<ellipse cx="581.6" cy="642.3" rx="0.9" ry="0.9" transform="rotate(134 581.6 642.3)" fill="rgb(32,32,32)"/>
<ellipse cx="585.3" cy="641.5" rx="0.7" ry="0.7" transform="rotate(100 585.3 641.5)" fill="rgb(180,180,180)"/>
<ellipse cx="590.3" cy="641.4" rx="0.9" ry="1.0" transform="rotate(7 590.3 641.4)" fill="rgb(25,25,25)"/>
<ellipse cx="593.9" cy="643.0" rx="0.6" ry="0.5" transform="rotate(172 593.9 643.0)" fill="rgb(127,127,127)"/>
<ellipse cx="598.6" cy="641.2" rx="1.3" ry="0.9" transform="rotate(68 598.6 641.2)" fill="rgb(39,39,39)"/>
<ellipse cx="606.0" cy="642.6" rx="1.1" ry="0.7" transform="rotate(173 606.0 642.6)" fill="rgb(110,110,110)"/>
<ellipse cx="608.4" cy="642.4" rx="1.3" ry="0.8" transform="rotate(65 608.4 642.4)" fill="rgb(24,24,24)"/>
<ellipse cx="611.3" cy="642.4" rx="0.8" ry="0.7" transform="rotate(60 611.3 642.4)" fill="rgb(177,177,177)"/>
<ellipse cx="616.0" cy="642.0" rx="0.5" ry="0.6" transform="rotate(67 616.0 642.0)" fill="rgb(160,160,160)"/>
<ellipse cx="619.4" cy="642.3" rx="0.8" ry="0.6" transform="rotate(72 619.4 642.3)" fill="rgb(92,92,92)"/>
<ellipse cx="620.0" cy="642.3" rx="0.8" ry="0.6" transform="rotate(168 620.0 642.3)" fill="rgb(181,181,181)"/>
<ellipse cx="623.5" cy="642.0" rx="0.8" ry="0.7" transform="rotate(149 623.5 642.0)" fill="rgb(137,137,137)"/>
<ellipse cx="624.8" cy="640.9" rx="0.6" ry="0.6" transform="rotate(173 624.8 640.9)" fill="rgb(136,136,136)"/>
<ellipse cx="627.8" cy="641.2" rx="0.9" ry="0.6" transform="rotate(75 627.8 641.2)" fill="rgb(87,87,87)"/>
<ellipse cx="632.2" cy="642.6" rx="0.9" ry="0.7" transform="rotate(124 632.2 642.6)" fill="rgb(183,183,183)"/>
<ellipse cx="634.3" cy="641.8" rx="0.7" ry="0.4" transform="rotate(171 634.3 641.8)" fill="rgb(169,169,169)"/>
<ellipse cx="635.8" cy="642.3" rx="0.5" ry="0.7" transform="rotate(156 635.8 642.3)" fill="rgb(172,172,172)"/>
<ellipse cx="638.2" cy="641.6" rx="0.9" ry="0.5" transform="rotate(64 638.2 641.6)" fill="rgb(184,184,184)"/>
<ellipse cx="641.1" cy="642.2" rx="1.4" ry="0.7" transform="rotate(147 641.1 642.2)" fill="rgb(62,62,62)"/>
<ellipse cx="643.2" cy="642.7" rx="1.4" ry="0.9" transform="rotate(98 643.2 642.7)" fill="rgb(79,79,79)"/>
<ellipse cx="652.0" cy="643.1" rx="0.7" ry="1.0" transform="rotate(125 652.0 643.1)" fill="rgb(53,53,53)"/>
<ellipse cx="654.9" cy="640.8" rx="0.9" ry="0.6" transform="rotate(46 654.9 640.8)" fill="rgb(183,183,183)"/>
<ellipse cx="657.9" cy="640.6" rx="1.1" ry="0.5" transform="rotate(9 657.9 640.6)" fill="rgb(157,157,157)"/>
<ellipse cx="658.6" cy="642.0" rx="0.8" ry="0.6" transform="rotate(13 658.6 642.0)" fill="rgb(153,153,153)"/>
<ellipse cx="662.8" cy="641.5" rx="0.8" ry="1.0" transform="rotate(81 662.8 641.5)" fill="rgb(78,78,78)"/>
<ellipse cx="664.2" cy="641.1" rx="1.0" ry="0.8" transform="rotate(177 664.2 641.1)" fill="rgb(153,153,153)"/>
<ellipse cx="671.9" cy="642.8" rx="1.1" ry="0.8" transform="rotate(144 671.9 642.8)" fill="rgb(38,38,38)"/>
<ellipse cx="676.2" cy="641.5" rx="1.0" ry="0.5" transform="rotate(1 676.2 641.5)" fill="rgb(134,134,134)"/>
<ellipse cx="676.8" cy="642.5" rx="0.9" ry="0.9" transform="rotate(129 676.8 642.5)" fill="rgb(42,42,42)"/>
<ellipse cx="573.4" cy="643.4" rx="0.9" ry="0.6" transform="rotate(38 573.4 643.4)" fill="rgb(77,77,77)"/>
<ellipse cx="575.4" cy="645.0" rx="0.9" ry="0.7" transform="rotate(58 575.4 645.0)" fill="rgb(34,34,34)"/>
<ellipse cx="578.6" cy="644.4" rx="1.0" ry="0.9" transform="rotate(68 578.6 644.4)" fill="rgb(61,61,61)"/>
<ellipse cx="581.6" cy="644.6" rx="0.6" ry="0.6" transform="rotate(19 581.6 644.6)" fill="rgb(173,173,173)"/>
<ellipse cx="584.9" cy="644.9" rx="0.6" ry="0.6" transform="rotate(85 584.9 644.9)" fill="rgb(162,162,162)"/>
<ellipse cx="586.8" cy="645.0" rx="0.8" ry="0.5" transform="rotate(52 586.8 645.0)" fill="rgb(169,169,169)"/>
<ellipse cx="591.2" cy="644.2" rx="1.0" ry="0.5" transform="rotate(124 591.2 644.2)" fill="rgb(167,167,167)"/>
<ellipse cx="601.4" cy="644.0" rx="0.9" ry="0.7" transform="rotate(0 601.4 644.0)" fill="rgb(169,169,169)"/>
<ellipse cx="604.0" cy="643.3" rx="0.5" ry="0.6" transform="rotate(23 604.0 643.3)" fill="rgb(190,190,190)"/>
<ellipse cx="608.4" cy="644.1" rx="0.6" ry="0.7" transform="rotate(98 608.4 644.1)" fill="rgb(134,134,134)"/>
<ellipse cx="609.7" cy="645.2" rx="0.9" ry="0.7" transform="rotate(10 609.7 645.2)" fill="rgb(84,84,84)"/>
<ellipse cx="613.3" cy="643.2" rx="1.1" ry="0.4" transform="rotate(175 613.3 643.2)" fill="rgb(159,159,159)"/>
<ellipse cx="616.4" cy="645.1" rx="1.0" ry="0.4" transform="rotate(126 616.4 645.1)" fill="rgb(189,189,189)"/>
<ellipse cx="621.1" cy="644.8" rx="0.9" ry="1.0" transform="rotate(84 621.1 644.8)" fill="rgb(88,88,88)"/>
<ellipse cx="622.7" cy="645.5" rx="1.3" ry="0.6" transform="rotate(147 622.7 645.5)" fill="rgb(76,76,76)"/>
<ellipse cx="624.6" cy="644.3" rx="1.3" ry="0.9" transform="rotate(143 624.6 644.3)" fill="rgb(31,31,31)"/>
<ellipse cx="627.5" cy="643.2" rx="1.4" ry="0.9" transform="rotate(172 627.5 643.2)" fill="rgb(86,86,86)"/>
<ellipse cx="630.8" cy="643.8" rx="0.9" ry="0.7" transform="rotate(75 630.8 643.8)" fill="rgb(176,176,176)"/>
<ellipse cx="634.4" cy="645.3" rx="1.1" ry="0.7" transform="rotate(15 634.4 645.3)" fill="rgb(111,111,111)"/>
<ellipse cx="637.0" cy="643.8" rx="0.7" ry="0.8" transform="rotate(62 637.0 643.8)" fill="rgb(117,117,117)"/>
<ellipse cx="640.7" cy="644.0" rx="0.9" ry="1.0" transform="rotate(134 640.7 644.0)" fill="rgb(46,46,46)"/>
<ellipse cx="644.6" cy="645.5" rx="1.4" ry="0.9" transform="rotate(41 644.6 645.5)" fill="rgb(93,93,93)"/>
<ellipse cx="647.8" cy="644.2" rx="0.8" ry="0.8" transform="rotate(9 647.8 644.2)" fill="rgb(82,82,82)"/>
<ellipse cx="649.9" cy="645.1" rx="0.6" ry="0.7" transform="rotate(95 649.9 645.1)" fill="rgb(189,189,189)"/>
<ellipse cx="652.2" cy="644.3" rx="1.0" ry="0.8" transform="rotate(114 652.2 644.3)" fill="rgb(63,63,63)"/>
<ellipse cx="655.6" cy="643.6" rx="1.1" ry="0.6" transform="rotate(39 655.6 643.6)" fill="rgb(58,58,58)"/>
<ellipse cx="662.4" cy="644.9" rx="0.8" ry="0.7" transform="rotate(20 662.4 644.9)" fill="rgb(119,119,119)"/>
<ellipse cx="664.2" cy="644.9" rx="0.7" ry="0.8" transform="rotate(98 664.2 644.9)" fill="rgb(20,20,20)"/>
<ellipse cx="667.2" cy="645.3" rx="1.0" ry="0.7" transform="rotate(24 667.2 645.3)" fill="rgb(151,151,151)"/>
<ellipse cx="669.5" cy="644.0" rx="1.1" ry="0.7" transform="rotate(119 669.5 644.0)" fill="rgb(83,83,83)"/>
<ellipse cx="673.1" cy="643.4" rx="0.9" ry="0.7" transform="rotate(160 673.1 643.4)" fill="rgb(171,171,171)"/>
<ellipse cx="674.3" cy="644.5" rx="0.6" ry="0.5" transform="rotate(97 674.3 644.5)" fill="rgb(189,189,189)"/>
<ellipse cx="571.4" cy="647.5" rx="1.2" ry="0.9" transform="rotate(14 571.4 647.5)" fill="rgb(58,58,58)"/>
<ellipse cx="574.6" cy="646.2" rx="0.6" ry="0.7" transform="rotate(50 574.6 646.2)" fill="rgb(158,158,158)"/>
<ellipse cx="575.7" cy="646.9" rx="1.0" ry="0.7" transform="rotate(18 575.7 646.9)" fill="rgb(72,72,72)"/>
<ellipse cx="579.9" cy="646.3" rx="0.9" ry="0.8" transform="rotate(94 579.9 646.3)" fill="rgb(38,38,38)"/>
<ellipse cx="582.6" cy="647.8" rx="1.1" ry="0.6" transform="rotate(33 582.6 647.8)" fill="rgb(50,50,50)"/>
<ellipse cx="584.0" cy="647.0" rx="0.7" ry="0.7" transform="rotate(11 584.0 647.0)" fill="rgb(138,138,138)"/>
<ellipse cx="588.0" cy="645.8" rx="0.8" ry="0.8" transform="rotate(19 588.0 645.8)" fill="rgb(120,120,120)"/>
<ellipse cx="589.2" cy="648.2" rx="1.1" ry="0.5" transform="rotate(102 589.2 648.2)" fill="rgb(160,160,160)"/>
<ellipse cx="592.3" cy="648.4" rx="0.6" ry="0.7" transform="rotate(175 592.3 648.4)" fill="rgb(115,115,115)"/>
<ellipse cx="595.4" cy="646.4" rx="0.8" ry="0.5" transform="rotate(40 595.4 646.4)" fill="rgb(170,170,170)"/>
<ellipse cx="597.8" cy="647.1" rx="0.9" ry="0.7" transform="rotate(144 597.8 647.1)" fill="rgb(165,165,165)"/>
<ellipse cx="599.3" cy="647.5" rx="1.1" ry="0.6" transform="rotate(90 599.3 647.5)" fill="rgb(155,155,155)"/>
<ellipse cx="604.6" cy="647.1" rx="1.4" ry="0.7" transform="rotate(86 604.6 647.1)" fill="rgb(64,64,64)"/>
<ellipse cx="607.1" cy="646.7" rx="0.8" ry="0.7" transform="rotate(175 607.1 646.7)" fill="rgb(121,121,121)"/>
<ellipse cx="609.7" cy="646.7" rx="1.3" ry="0.8" transform="rotate(27 609.7 646.7)" fill="rgb(20,20,20)"/>
<ellipse cx="614.1" cy="648.2" rx="1.0" ry="0.6" transform="rotate(79 614.1 648.2)" fill="rgb(92,92,92)"/>
<ellipse cx="615.7" cy="648.3" rx="0.9" ry="0.7" transform="rotate(124 615.7 648.3)" fill="rgb(152,152,152)"/>
<ellipse cx="620.9" cy="648.1" rx="1.0" ry="0.8" transform="rotate(165 620.9 648.1)" fill="rgb(68,68,68)"/>
<ellipse cx="625.2" cy="646.5" rx="1.1" ry="0.4" transform="rotate(84 625.2 646.5)" fill="rgb(136,136,136)"/>
<ellipse cx="629.5" cy="648.4" rx="0.9" ry="0.5" transform="rotate(21 629.5 648.4)" fill="rgb(119,119,119)"/>
<ellipse cx="633.6" cy="648.1" rx="0.7" ry="0.5" transform="rotate(23 633.6 648.1)" fill="rgb(173,173,173)"/>
<ellipse cx="637.2" cy="647.6" rx="1.1" ry="0.8" transform="rotate(86 637.2 647.6)" fill="rgb(48,48,48)"/>
<ellipse cx="638.8" cy="646.1" rx="1.4" ry="0.9" transform="rotate(153 638.8 646.1)" fill="rgb(85,85,85)"/>
<ellipse cx="640.9" cy="646.1" rx="1.4" ry="0.7" transform="rotate(164 640.9 646.1)" fill="rgb(41,41,41)"/>
<ellipse cx="647.9" cy="646.1" rx="0.9" ry="0.9" transform="rotate(56 647.9 646.1)" fill="rgb(64,64,64)"/>
<ellipse cx="653.2" cy="646.0" rx="0.8" ry="0.5" transform="rotate(25 653.2 646.0)" fill="rgb(124,124,124)"/>
<ellipse cx="657.0" cy="646.1" rx="0.8" ry="0.7" transform="rotate(28 657.0 646.1)" fill="rgb(133,133,133)"/>
<ellipse cx="662.3" cy="646.0" rx="1.5" ry="0.6" transform="rotate(41 662.3 646.0)" fill="rgb(33,33,33)"/>
<ellipse cx="663.7" cy="646.0" rx="1.0" ry="1.0" transform="rotate(18 663.7 646.0)" fill="rgb(65,65,65)"/>
<ellipse cx="668.0" cy="647.9" rx="1.1" ry="0.8" transform="rotate(151 668.0 647.9)" fill="rgb(77,77,77)"/>
<ellipse cx="669.0" cy="646.7" rx="1.0" ry="0.7" transform="rotate(47 669.0 646.7)" fill="rgb(50,50,50)"/>
<ellipse cx="571.6" cy="648.7" rx="0.8" ry="0.8" transform="rotate(172 571.6 648.7)" fill="rgb(21,21,21)"/>
<ellipse cx="572.8" cy="648.9" rx="0.6" ry="0.8" transform="rotate(143 572.8 648.9)" fill="rgb(122,122,122)"/>
<ellipse cx="577.5" cy="649.9" rx="0.5" ry="0.6" transform="rotate(76 577.5 649.9)" fill="rgb(188,188,188)"/>
<ellipse cx="579.1" cy="648.5" rx="0.8" ry="0.6" transform="rotate(52 579.1 648.5)" fill="rgb(33,33,33)"/>
<ellipse cx="582.3" cy="649.4" rx="0.8" ry="0.4" transform="rotate(13 582.3 649.4)" fill="rgb(140,140,140)"/>
<ellipse cx="584.2" cy="648.6" rx="0.8" ry="0.6" transform="rotate(115 584.2 648.6)" fill="rgb(187,187,187)"/>
<ellipse cx="586.1" cy="649.9" rx="0.8" ry="0.7" transform="rotate(156 586.1 649.9)" fill="rgb(112,112,112)"/>
<ellipse cx="588.9" cy="649.8" rx="1.0" ry="0.8" transform="rotate(52 588.9 649.8)" fill="rgb(121,121,121)"/>
<ellipse cx="591.5" cy="649.7" rx="0.6" ry="0.7" transform="rotate(43 591.5 649.7)" fill="rgb(173,173,173)"/>
<ellipse cx="594.3" cy="648.8" rx="1.2" ry="0.7" transform="rotate(13 594.3 648.8)" fill="rgb(59,59,59)"/>
<ellipse cx="600.4" cy="649.3" rx="0.9" ry="0.5" transform="rotate(41 600.4 649.3)" fill="rgb(156,156,156)"/>
<ellipse cx="607.2" cy="650.1" rx="0.8" ry="0.7" transform="rotate(84 607.2 650.1)" fill="rgb(163,163,163)"/>
<ellipse cx="610.3" cy="649.1" rx="1.1" ry="0.6" transform="rotate(58 610.3 649.1)" fill="rgb(110,110,110)"/>
<ellipse cx="614.1" cy="648.6" rx="1.1" ry="0.7" transform="rotate(137 614.1 648.6)" fill="rgb(51,51,51)"/>
<ellipse cx="614.4" cy="648.5" rx="0.9" ry="0.7" transform="rotate(8 614.4 648.5)" fill="rgb(174,174,174)"/>
<ellipse cx="617.8" cy="649.8" rx="0.8" ry="0.7" transform="rotate(98 617.8 649.8)" fill="rgb(31,31,31)"/>
<ellipse cx="631.6" cy="648.4" rx="1.1" ry="1.0" transform="rotate(158 631.6 648.4)" fill="rgb(76,76,76)"/>
<ellipse cx="632.7" cy="649.9" rx="1.0" ry="0.6" transform="rotate(128 632.7 649.9)" fill="rgb(79,79,79)"/>
<ellipse cx="637.3" cy="650.6" rx="0.8" ry="0.6" transform="rotate(98 637.3 650.6)" fill="rgb(94,94,94)"/>
<ellipse cx="640.0" cy="649.7" rx="1.3" ry="0.6" transform="rotate(131 640.0 649.7)" fill="rgb(89,89,89)"/>
<ellipse cx="640.6" cy="649.8" rx="0.9" ry="0.6" transform="rotate(50 640.6 649.8)" fill="rgb(92,92,92)"/>
<ellipse cx="643.9" cy="650.3" rx="0.8" ry="0.8" transform="rotate(12 643.9 650.3)" fill="rgb(68,68,68)"/>
<ellipse cx="646.1" cy="650.9" rx="1.3" ry="0.7" transform="rotate(17 646.1 650.9)" fill="rgb(30,30,30)"/>
<ellipse cx="648.4" cy="651.0" rx="1.1" ry="0.8" transform="rotate(87 648.4 651.0)" fill="rgb(164,164,164)"/>
<ellipse cx="652.3" cy="649.8" rx="1.3" ry="0.6" transform="rotate(53 652.3 649.8)" fill="rgb(59,59,59)"/>
<ellipse cx="660.1" cy="650.2" rx="0.7" ry="0.6" transform="rotate(118 660.1 650.2)" fill="rgb(119,119,119)"/>
<ellipse cx="661.4" cy="650.6" rx="1.3" ry="0.8" transform="rotate(53 661.4 650.6)" fill="rgb(54,54,54)"/>
<ellipse cx="666.8" cy="648.4" rx="0.8" ry="0.7" transform="rotate(123 666.8 648.4)" fill="rgb(183,183,183)"/>
<ellipse cx="671.6" cy="649.3" rx="0.8" ry="0.6" transform="rotate(151 671.6 649.3)" fill="rgb(143,143,143)"/>
<ellipse cx="676.1" cy="648.6" rx="1.2" ry="0.9" transform="rotate(50 676.1 648.6)" fill="rgb(63,63,63)"/>
<ellipse cx="677.9" cy="648.7" rx="0.5" ry="0.6" transform="rotate(137 677.9 648.7)" fill="rgb(169,169,169)"/>
<ellipse cx="575.4" cy="653.5" rx="0.7" ry="0.6" transform="rotate(67 575.4 653.5)" fill="rgb(187,187,187)"/>
<ellipse cx="579.8" cy="651.9" rx="0.6" ry="0.7" transform="rotate(117 579.8 651.9)" fill="rgb(181,181,181)"/>
<ellipse cx="582.1" cy="651.2" rx="1.4" ry="0.7" transform="rotate(179 582.1 651.2)" fill="rgb(80,80,80)"/>
<ellipse cx="583.0" cy="652.5" rx="1.0" ry="0.8" transform="rotate(28 583.0 652.5)" fill="rgb(86,86,86)"/>
<ellipse cx="590.3" cy="653.5" rx="0.8" ry="0.7" transform="rotate(142 590.3 653.5)" fill="rgb(190,190,190)"/>
<ellipse cx="592.3" cy="653.3" rx="1.1" ry="0.9" transform="rotate(52 592.3 653.3)" fill="rgb(45,45,45)"/>
<ellipse cx="596.0" cy="651.2" rx="1.0" ry="0.6" transform="rotate(65 596.0 651.2)" fill="rgb(42,42,42)"/>
<ellipse cx="597.0" cy="653.2" rx="0.9" ry="0.6" transform="rotate(147 597.0 653.2)" fill="rgb(168,168,168)"/>
<ellipse cx="600.0" cy="652.7" rx="1.1" ry="0.5" transform="rotate(91 600.0 652.7)" fill="rgb(177,177,177)"/>
<ellipse cx="603.3" cy="652.1" rx="1.4" ry="0.6" transform="rotate(176 603.3 652.1)" fill="rgb(25,25,25)"/>
<ellipse cx="605.2" cy="653.2" rx="0.6" ry="0.6" transform="rotate(59 605.2 653.2)" fill="rgb(163,163,163)"/>
<ellipse cx="608.5" cy="653.2" rx="1.1" ry="0.9" transform="rotate(166 608.5 653.2)" fill="rgb(90,90,90)"/>
<ellipse cx="609.5" cy="651.9" rx="1.0" ry="0.5" transform="rotate(165 609.5 651.9)" fill="rgb(148,148,148)"/>
<ellipse cx="612.2" cy="652.4" rx="1.4" ry="0.8" transform="rotate(52 612.2 652.4)" fill="rgb(62,62,62)"/>
<ellipse cx="615.4" cy="652.4" rx="0.9" ry="0.6" transform="rotate(53 615.4 652.4)" fill="rgb(120,120,120)"/>
<ellipse cx="618.1" cy="651.9" rx="1.0" ry="0.7" transform="rotate(163 618.1 651.9)" fill="rgb(139,139,139)"/>
<ellipse cx="620.0" cy="651.6" rx="0.8" ry="0.9" transform="rotate(136 620.0 651.6)" fill="rgb(94,94,94)"/>
<ellipse cx="622.2" cy="651.2" rx="1.0" ry="0.7" transform="rotate(79 622.2 651.2)" fill="rgb(179,179,179)"/>
<ellipse cx="628.2" cy="652.7" rx="1.3" ry="0.9" transform="rotate(56 628.2 652.7)" fill="rgb(67,67,67)"/>
<ellipse cx="632.4" cy="653.6" rx="1.4" ry="0.6" transform="rotate(43 632.4 653.6)" fill="rgb(85,85,85)"/>
<ellipse cx="633.4" cy="653.5" rx="0.6" ry="0.6" transform="rotate(35 633.4 653.5)" fill="rgb(126,126,126)"/>
<ellipse cx="636.0" cy="651.7" rx="1.0" ry="0.6" transform="rotate(26 636.0 651.7)" fill="rgb(94,94,94)"/>
<ellipse cx="639.0" cy="651.7" rx="1.4" ry="0.8" transform="rotate(149 639.0 651.7)" fill="rgb(57,57,57)"/>
<ellipse cx="641.9" cy="651.1" rx="1.4" ry="0.6" transform="rotate(10 641.9 651.1)" fill="rgb(61,61,61)"/>
<ellipse cx="647.1" cy="652.0" rx="0.6" ry="0.4" transform="rotate(114 647.1 652.0)" fill="rgb(137,137,137)"/>
<ellipse cx="648.1" cy="651.2" rx="0.8" ry="0.4" transform="rotate(58 648.1 651.2)" fill="rgb(170,170,170)"/>
<ellipse cx="653.1" cy="652.8" rx="1.3" ry="0.8" transform="rotate(159 653.1 652.8)" fill="rgb(69,69,69)"/>
<ellipse cx="654.7" cy="651.9" rx="0.8" ry="1.0" transform="rotate(167 654.7 651.9)" fill="rgb(68,68,68)"/>
<ellipse cx="655.9" cy="652.7" rx="0.6" ry="0.7" transform="rotate(91 655.9 652.7)" fill="rgb(182,182,182)"/>
<ellipse cx="659.4" cy="653.2" rx="1.5" ry="0.6" transform="rotate(119 659.4 653.2)" fill="rgb(91,91,91)"/>
<ellipse cx="664.9" cy="653.2" rx="1.4" ry="0.8" transform="rotate(22 664.9 653.2)" fill="rgb(47,47,47)"/>
<ellipse cx="668.3" cy="652.5" rx="0.5" ry="0.6" transform="rotate(124 668.3 652.5)" fill="rgb(159,159,159)"/>
<ellipse cx="672.2" cy="652.8" rx="1.0" ry="0.7" transform="rotate(108 672.2 652.8)" fill="rgb(181,181,181)"/>
<ellipse cx="577.9" cy="653.6" rx="0.6" ry="0.7" transform="rotate(7 577.9 653.6)" fill="rgb(121,121,121)"/>
<ellipse cx="581.9" cy="653.8" rx="1.0" ry="0.8" transform="rotate(5 581.9 653.8)" fill="rgb(186,186,186)"/>
<ellipse cx="583.9" cy="655.5" rx="1.0" ry="0.6" transform="rotate(124 583.9 655.5)" fill="rgb(43,43,43)"/>
<ellipse cx="590.2" cy="655.0" rx="0.6" ry="0.4" transform="rotate(136 590.2 655.0)" fill="rgb(179,179,179)"/>
<ellipse cx="592.6" cy="655.2" rx="0.8" ry="0.5" transform="rotate(154 592.6 655.2)" fill="rgb(128,128,128)"/>
<ellipse cx="593.9" cy="654.5" rx="0.9" ry="0.6" transform="rotate(149 593.9 654.5)" fill="rgb(148,148,148)"/>
<ellipse cx="597.3" cy="653.6" rx="1.0" ry="0.6" transform="rotate(65 597.3 653.6)" fill="rgb(170,170,170)"/>
<ellipse cx="600.3" cy="654.9" rx="1.5" ry="0.7" transform="rotate(52 600.3 654.9)" fill="rgb(89,89,89)"/>
<ellipse cx="601.6" cy="656.0" rx="1.0" ry="1.0" transform="rotate(93 601.6 656.0)" fill="rgb(31,31,31)"/>
<ellipse cx="603.9" cy="654.3" rx="0.6" ry="0.5" transform="rotate(101 603.9 654.3)" fill="rgb(166,166,166)"/>
<ellipse cx="608.6" cy="653.9" rx="0.5" ry="0.6" transform="rotate(80 608.6 653.9)" fill="rgb(180,180,180)"/>
<ellipse cx="610.4" cy="655.9" rx="1.3" ry="0.8" transform="rotate(33 610.4 655.9)" fill="rgb(72,72,72)"/>
<ellipse cx="613.4" cy="655.7" rx="1.0" ry="0.7" transform="rotate(138 613.4 655.7)" fill="rgb(79,79,79)"/>
<ellipse cx="615.5" cy="655.9" rx="1.1" ry="0.6" transform="rotate(48 615.5 655.9)" fill="rgb(68,68,68)"/>
<ellipse cx="617.0" cy="655.4" rx="1.1" ry="0.9" transform="rotate(56 617.0 655.4)" fill="rgb(21,21,21)"/>
<ellipse cx="621.6" cy="656.2" rx="1.1" ry="0.4" transform="rotate(36 621.6 656.2)" fill="rgb(126,126,126)"/>
<ellipse cx="622.1" cy="655.6" rx="1.3" ry="0.6" transform="rotate(38 622.1 655.6)" fill="rgb(35,35,35)"/>
<ellipse cx="625.4" cy="654.9" rx="1.1" ry="0.6" transform="rotate(152 625.4 654.9)" fill="rgb(85,85,85)"/>
<ellipse cx="631.3" cy="655.0" rx="1.0" ry="0.6" transform="rotate(60 631.3 655.0)" fill="rgb(45,45,45)"/>
<ellipse cx="632.5" cy="653.8" rx="1.1" ry="0.5" transform="rotate(152 632.5 653.8)" fill="rgb(156,156,156)"/>
<ellipse cx="636.3" cy="655.2" rx="1.3" ry="0.7" transform="rotate(47 636.3 655.2)" fill="rgb(94,94,94)"/>
<ellipse cx="640.6" cy="655.7" rx="0.8" ry="0.6" transform="rotate(86 640.6 655.7)" fill="rgb(85,85,85)"/>
<ellipse cx="644.7" cy="653.8" rx="0.7" ry="0.6" transform="rotate(88 644.7 653.8)" fill="rgb(143,143,143)"/>
<ellipse cx="645.8" cy="654.8" rx="0.9" ry="0.4" transform="rotate(48 645.8 654.8)" fill="rgb(144,144,144)"/>
<ellipse cx="650.0" cy="656.1" rx="1.0" ry="0.7" transform="rotate(85 650.0 656.1)" fill="rgb(173,173,173)"/>
<ellipse cx="652.6" cy="654.9" rx="0.8" ry="0.5" transform="rotate(159 652.6 654.9)" fill="rgb(173,173,173)"/>
<ellipse cx="659.0" cy="655.7" rx="0.8" ry="0.8" transform="rotate(103 659.0 655.7)" fill="rgb(151,151,151)"/>
<ellipse cx="662.9" cy="655.3" rx="0.8" ry="0.6" transform="rotate(171 662.9 655.3)" fill="rgb(137,137,137)"/>
<ellipse cx="664.9" cy="654.0" rx="0.7" ry="0.4" transform="rotate(33 664.9 654.0)" fill="rgb(183,183,183)"/>
<ellipse cx="667.5" cy="656.0" rx="1.0" ry="0.7" transform="rotate(14 667.5 656.0)" fill="rgb(27,27,27)"/>
<ellipse cx="669.5" cy="655.7" rx="1.3" ry="0.9" transform="rotate(46 669.5 655.7)" fill="rgb(36,36,36)"/>
<ellipse cx="673.8" cy="654.6" rx="1.1" ry="0.6" transform="rotate(20 673.8 654.6)" fill="rgb(111,111,111)"/>
<ellipse cx="674.0" cy="654.3" rx="1.4" ry="0.7" transform="rotate(136 674.0 654.3)" fill="rgb(44,44,44)"/>
<ellipse cx="571.9" cy="656.3" rx="0.9" ry="0.9" transform="rotate(23 571.9 656.3)" fill="rgb(49,49,49)"/>
<ellipse cx="573.4" cy="658.1" rx="0.6" ry="0.5" transform="rotate(14 573.4 658.1)" fill="rgb(170,170,170)"/>
<ellipse cx="576.6" cy="656.5" rx="0.7" ry="0.7" transform="rotate(135 576.6 656.5)" fill="rgb(154,154,154)"/>
<ellipse cx="579.9" cy="657.0" rx="1.1" ry="0.6" transform="rotate(92 579.9 657.0)" fill="rgb(159,159,159)"/>
<ellipse cx="587.9" cy="658.2" rx="1.2" ry="1.0" transform="rotate(91 587.9 658.2)" fill="rgb(95,95,95)"/>
<ellipse cx="590.4" cy="656.5" rx="1.0" ry="0.7" transform="rotate(19 590.4 656.5)" fill="rgb(118,118,118)"/>
<ellipse cx="597.8" cy="657.4" rx="1.4" ry="0.8" transform="rotate(153 597.8 657.4)" fill="rgb(89,89,89)"/>
<ellipse cx="601.0" cy="656.5" rx="1.0" ry="0.7" transform="rotate(179 601.0 656.5)" fill="rgb(150,150,150)"/>
<ellipse cx="602.0" cy="656.4" rx="1.1" ry="0.6" transform="rotate(151 602.0 656.4)" fill="rgb(52,52,52)"/>
<ellipse cx="607.7" cy="658.6" rx="1.3" ry="0.9" transform="rotate(108 607.7 658.6)" fill="rgb(25,25,25)"/>
<ellipse cx="610.3" cy="656.8" rx="0.6" ry="0.6" transform="rotate(8 610.3 656.8)" fill="rgb(170,170,170)"/>
<ellipse cx="616.2" cy="656.3" rx="1.2" ry="0.6" transform="rotate(121 616.2 656.3)" fill="rgb(57,57,57)"/>
<ellipse cx="617.4" cy="657.4" rx="1.4" ry="0.8" transform="rotate(11 617.4 657.4)" fill="rgb(42,42,42)"/>
<ellipse cx="621.7" cy="658.2" rx="0.9" ry="0.6" transform="rotate(96 621.7 658.2)" fill="rgb(180,180,180)"/>
<ellipse cx="622.7" cy="657.5" rx="0.7" ry="0.8" transform="rotate(38 622.7 657.5)" fill="rgb(39,39,39)"/>
<ellipse cx="625.9" cy="657.7" rx="0.8" ry="0.6" transform="rotate(159 625.9 657.7)" fill="rgb(168,168,168)"/>
<ellipse cx="628.5" cy="658.2" rx="0.6" ry="0.5" transform="rotate(52 628.5 658.2)" fill="rgb(150,150,150)"/>
<ellipse cx="630.4" cy="658.7" rx="0.6" ry="0.5" transform="rotate(126 630.4 658.7)" fill="rgb(178,178,178)"/>
<ellipse cx="634.8" cy="656.6" rx="1.1" ry="0.6" transform="rotate(145 634.8 656.6)" fill="rgb(124,124,124)"/>
<ellipse cx="638.7" cy="657.1" rx="0.9" ry="0.8" transform="rotate(138 638.7 657.1)" fill="rgb(174,174,174)"/>
<ellipse cx="640.7" cy="657.2" rx="0.9" ry="0.7" transform="rotate(120 640.7 657.2)" fill="rgb(42,42,42)"/>
<ellipse cx="644.1" cy="658.1" rx="0.6" ry="0.5" transform="rotate(59 644.1 658.1)" fill="rgb(110,110,110)"/>
<ellipse cx="650.3" cy="657.0" rx="1.3" ry="0.6" transform="rotate(99 650.3 657.0)" fill="rgb(22,22,22)"/>
<ellipse cx="650.7" cy="656.9" rx="1.1" ry="0.5" transform="rotate(116 650.7 656.9)" fill="rgb(185,185,185)"/>
<ellipse cx="658.4" cy="656.6" rx="0.8" ry="0.9" transform="rotate(38 658.4 656.6)" fill="rgb(30,30,30)"/>
<ellipse cx="661.2" cy="656.6" rx="1.2" ry="0.6" transform="rotate(18 661.2 656.6)" fill="rgb(58,58,58)"/>
<ellipse cx="667.1" cy="656.3" rx="1.3" ry="0.8" transform="rotate(68 667.1 656.3)" fill="rgb(45,45,45)"/>
<ellipse cx="670.6" cy="658.3" rx="0.6" ry="0.5" transform="rotate(106 670.6 658.3)" fill="rgb(114,114,114)"/>
<ellipse cx="673.3" cy="656.6" rx="1.1" ry="0.4" transform="rotate(8 673.3 656.6)" fill="rgb(142,142,142)"/>
<ellipse cx="675.7" cy="658.0" rx="1.4" ry="1.0" transform="rotate(158 675.7 658.0)" fill="rgb(66,66,66)"/>
<ellipse cx="575.1" cy="659.3" rx="0.6" ry="0.7" transform="rotate(40 575.1 659.3)" fill="rgb(113,113,113)"/>
<ellipse cx="579.0" cy="661.0" rx="1.1" ry="0.9" transform="rotate(81 579.0 661.0)" fill="rgb(69,69,69)"/>
<ellipse cx="582.8" cy="660.6" rx="0.6" ry="0.7" transform="rotate(103 582.8 660.6)" fill="rgb(113,113,113)"/>
<ellipse cx="584.1" cy="661.1" rx="1.0" ry="0.6" transform="rotate(24 584.1 661.1)" fill="rgb(186,186,186)"/>
<ellipse cx="588.2" cy="660.3" rx="0.6" ry="0.4" transform="rotate(46 588.2 660.3)" fill="rgb(186,186,186)"/>
<ellipse cx="589.5" cy="660.8" rx="1.0" ry="0.4" transform="rotate(2 589.5 660.8)" fill="rgb(117,117,117)"/>
<ellipse cx="592.4" cy="660.2" rx="1.0" ry="0.9" transform="rotate(162 592.4 660.2)" fill="rgb(29,29,29)"/>
<ellipse cx="594.9" cy="661.2" rx="1.0" ry="0.6" transform="rotate(38 594.9 661.2)" fill="rgb(177,177,177)"/>
<ellipse cx="596.4" cy="659.4" rx="0.9" ry="0.8" transform="rotate(33 596.4 659.4)" fill="rgb(181,181,181)"/>
<ellipse cx="601.4" cy="659.0" rx="1.4" ry="0.6" transform="rotate(103 601.4 659.0)" fill="rgb(58,58,58)"/>
<ellipse cx="604.6" cy="659.4" rx="0.6" ry="0.5" transform="rotate(17 604.6 659.4)" fill="rgb(115,115,115)"/>
<ellipse cx="609.1" cy="659.3" rx="1.1" ry="1.0" transform="rotate(20 609.1 659.3)" fill="rgb(70,70,70)"/>
<ellipse cx="616.0" cy="660.4" rx="1.0" ry="0.8" transform="rotate(10 616.0 660.4)" fill="rgb(68,68,68)"/>
<ellipse cx="617.8" cy="660.9" rx="0.8" ry="0.9" transform="rotate(136 617.8 660.9)" fill="rgb(93,93,93)"/>
<ellipse cx="621.5" cy="660.7" rx="0.9" ry="0.5" transform="rotate(42 621.5 660.7)" fill="rgb(188,188,188)"/>
<ellipse cx="623.5" cy="661.3" rx="1.4" ry="0.6" transform="rotate(18 623.5 661.3)" fill="rgb(31,31,31)"/>
<ellipse cx="629.9" cy="659.3" rx="0.7" ry="0.5" transform="rotate(15 629.9 659.3)" fill="rgb(111,111,111)"/>
<ellipse cx="633.8" cy="660.4" rx="0.6" ry="0.6" transform="rotate(46 633.8 660.4)" fill="rgb(137,137,137)"/>
<ellipse cx="637.1" cy="661.3" rx="0.8" ry="0.6" transform="rotate(112 637.1 661.3)" fill="rgb(169,169,169)"/>
<ellipse cx="642.6" cy="660.0" rx="0.8" ry="0.7" transform="rotate(89 642.6 660.0)" fill="rgb(167,167,167)"/>
<ellipse cx="642.8" cy="661.1" rx="1.4" ry="0.7" transform="rotate(47 642.8 661.1)" fill="rgb(63,63,63)"/>
<ellipse cx="649.4" cy="659.9" rx="0.6" ry="0.7" transform="rotate(36 649.4 659.9)" fill="rgb(155,155,155)"/>
<ellipse cx="655.6" cy="660.4" rx="0.8" ry="0.5" transform="rotate(120 655.6 660.4)" fill="rgb(168,168,168)"/>
<ellipse cx="660.3" cy="661.0" rx="1.0" ry="0.5" transform="rotate(39 660.3 661.0)" fill="rgb(185,185,185)"/>
<ellipse cx="662.7" cy="661.2" rx="1.3" ry="0.8" transform="rotate(137 662.7 661.2)" fill="rgb(82,82,82)"/>
<ellipse cx="664.5" cy="660.6" rx="0.8" ry="0.5" transform="rotate(125 664.5 660.6)" fill="rgb(153,153,153)"/>
<ellipse cx="666.7" cy="659.4" rx="0.7" ry="0.8" transform="rotate(75 666.7 659.4)" fill="rgb(125,125,125)"/>
<ellipse cx="670.9" cy="660.6" rx="1.2" ry="0.8" transform="rotate(100 670.9 660.6)" fill="rgb(71,71,71)"/>
<ellipse cx="671.6" cy="660.6" rx="0.9" ry="0.6" transform="rotate(78 671.6 660.6)" fill="rgb(115,115,115)"/>
<ellipse cx="674.7" cy="659.8" rx="1.3" ry="0.9" transform="rotate(61 674.7 659.8)" fill="rgb(60,60,60)"/>
<ellipse cx="679.0" cy="658.8" rx="0.9" ry="0.9" transform="rotate(35 679.0 658.8)" fill="rgb(33,33,33)"/>
<ellipse cx="571.5" cy="663.4" rx="1.3" ry="0.9" transform="rotate(39 571.5 663.4)" fill="rgb(73,73,73)"/>
<ellipse cx="572.9" cy="662.0" rx="0.8" ry="0.5" transform="rotate(24 572.9 662.0)" fill="rgb(146,146,146)"/>
<ellipse cx="577.9" cy="661.8" rx="0.9" ry="0.8" transform="rotate(113 577.9 661.8)" fill="rgb(148,148,148)"/>
<ellipse cx="584.4" cy="662.2" rx="1.1" ry="0.4" transform="rotate(19 584.4 662.2)" fill="rgb(172,172,172)"/>
<ellipse cx="587.2" cy="661.9" rx="0.7" ry="0.7" transform="rotate(104 587.2 661.9)" fill="rgb(44,44,44)"/>
<ellipse cx="597.7" cy="663.9" rx="0.9" ry="0.6" transform="rotate(27 597.7 663.9)" fill="rgb(138,138,138)"/>
<ellipse cx="600.1" cy="662.2" rx="0.5" ry="0.4" transform="rotate(47 600.1 662.2)" fill="rgb(167,167,167)"/>
<ellipse cx="603.5" cy="663.0" rx="1.0" ry="0.6" transform="rotate(128 603.5 663.0)" fill="rgb(167,167,167)"/>
<ellipse cx="604.4" cy="662.3" rx="1.0" ry="0.9" transform="rotate(36 604.4 662.3)" fill="rgb(47,47,47)"/>
<ellipse cx="606.9" cy="662.1" rx="1.1" ry="0.6" transform="rotate(117 606.9 662.1)" fill="rgb(61,61,61)"/>
<ellipse cx="610.9" cy="663.9" rx="0.6" ry="0.8" transform="rotate(118 610.9 663.9)" fill="rgb(158,158,158)"/>
<ellipse cx="612.0" cy="662.8" rx="1.3" ry="0.8" transform="rotate(71 612.0 662.8)" fill="rgb(31,31,31)"/>
<ellipse cx="616.4" cy="661.4" rx="0.7" ry="0.8" transform="rotate(30 616.4 661.4)" fill="rgb(86,86,86)"/>
<ellipse cx="619.3" cy="662.6" rx="0.8" ry="0.6" transform="rotate(72 619.3 662.6)" fill="rgb(118,118,118)"/>
<ellipse cx="620.8" cy="662.3" rx="1.3" ry="0.9" transform="rotate(123 620.8 662.3)" fill="rgb(38,38,38)"/>
<ellipse cx="629.7" cy="663.4" rx="0.8" ry="0.7" transform="rotate(58 629.7 663.4)" fill="rgb(117,117,117)"/>
<ellipse cx="633.9" cy="663.2" rx="0.9" ry="0.9" transform="rotate(66 633.9 663.2)" fill="rgb(21,21,21)"/>
<ellipse cx="638.3" cy="662.1" rx="0.9" ry="0.5" transform="rotate(91 638.3 662.1)" fill="rgb(139,139,139)"/>
<ellipse cx="642.1" cy="662.5" rx="1.0" ry="0.8" transform="rotate(52 642.1 662.5)" fill="rgb(31,31,31)"/>
<ellipse cx="643.3" cy="663.7" rx="0.8" ry="0.9" transform="rotate(31 643.3 663.7)" fill="rgb(38,38,38)"/>
<ellipse cx="646.7" cy="662.1" rx="0.9" ry="0.6" transform="rotate(112 646.7 662.1)" fill="rgb(145,145,145)"/>
<ellipse cx="648.2" cy="663.1" rx="1.0" ry="0.8" transform="rotate(116 648.2 663.1)" fill="rgb(155,155,155)"/>
<ellipse cx="650.7" cy="662.7" rx="0.8" ry="0.5" transform="rotate(82 650.7 662.7)" fill="rgb(185,185,185)"/>
<ellipse cx="654.5" cy="662.4" rx="1.3" ry="0.8" transform="rotate(53 654.5 662.4)" fill="rgb(26,26,26)"/>
<ellipse cx="656.8" cy="663.0" rx="0.5" ry="0.4" transform="rotate(171 656.8 663.0)" fill="rgb(185,185,185)"/>
<ellipse cx="661.0" cy="661.7" rx="0.8" ry="0.8" transform="rotate(105 661.0 661.7)" fill="rgb(56,56,56)"/>
<ellipse cx="662.4" cy="664.0" rx="0.5" ry="0.6" transform="rotate(24 662.4 664.0)" fill="rgb(171,171,171)"/>
<ellipse cx="664.7" cy="662.3" rx="1.1" ry="0.8" transform="rotate(126 664.7 662.3)" fill="rgb(163,163,163)"/>
<ellipse cx="668.6" cy="662.6" rx="0.7" ry="0.7" transform="rotate(27 668.6 662.6)" fill="rgb(41,41,41)"/>
<ellipse cx="673.3" cy="662.2" rx="0.9" ry="1.0" transform="rotate(1 673.3 662.2)" fill="rgb(60,60,60)"/>
<ellipse cx="675.9" cy="664.0" rx="0.7" ry="0.5" transform="rotate(66 675.9 664.0)" fill="rgb(160,160,160)"/>
<ellipse cx="677.2" cy="664.0" rx="0.8" ry="0.5" transform="rotate(177 677.2 664.0)" fill="rgb(129,129,129)"/>
<ellipse cx="571.2" cy="666.2" rx="0.8" ry="0.7" transform="rotate(136 571.2 666.2)" fill="rgb(156,156,156)"/>
<ellipse cx="577.7" cy="665.4" rx="0.5" ry="0.6" transform="rotate(140 577.7 665.4)" fill="rgb(155,155,155)"/>
<ellipse cx="578.2" cy="664.1" rx="0.7" ry="0.7" transform="rotate(121 578.2 664.1)" fill="rgb(111,111,111)"/>
<ellipse cx="582.1" cy="665.3" rx="1.4" ry="0.9" transform="rotate(136 582.1 665.3)" fill="rgb(81,81,81)"/>
<ellipse cx="583.4" cy="665.1" rx="1.2" ry="0.9" transform="rotate(60 583.4 665.1)" fill="rgb(81,81,81)"/>
<ellipse cx="587.6" cy="665.0" rx="0.7" ry="0.8" transform="rotate(69 587.6 665.0)" fill="rgb(123,123,123)"/>
<ellipse cx="589.1" cy="665.1" rx="0.5" ry="0.6" transform="rotate(12 589.1 665.1)" fill="rgb(176,176,176)"/>
<ellipse cx="600.9" cy="665.9" rx="1.1" ry="0.8" transform="rotate(142 600.9 665.9)" fill="rgb(66,66,66)"/>
<ellipse cx="603.3" cy="665.1" rx="0.6" ry="0.7" transform="rotate(43 603.3 665.1)" fill="rgb(132,132,132)"/>
<ellipse cx="608.1" cy="664.8" rx="0.6" ry="0.7" transform="rotate(105 608.1 664.8)" fill="rgb(173,173,173)"/>
<ellipse cx="610.9" cy="664.3" rx="0.9" ry="0.6" transform="rotate(116 610.9 664.3)" fill="rgb(29,29,29)"/>
<ellipse cx="613.8" cy="666.3" rx="1.1" ry="0.6" transform="rotate(65 613.8 666.3)" fill="rgb(141,141,141)"/>
<ellipse cx="615.3" cy="665.0" rx="0.7" ry="0.7" transform="rotate(33 615.3 665.0)" fill="rgb(117,117,117)"/>
<ellipse cx="617.0" cy="666.1" rx="0.8" ry="0.8" transform="rotate(157 617.0 666.1)" fill="rgb(127,127,127)"/>
<ellipse cx="620.4" cy="665.3" rx="0.9" ry="0.9" transform="rotate(80 620.4 665.3)" fill="rgb(84,84,84)"/>
<ellipse cx="623.7" cy="664.5" rx="1.0" ry="0.8" transform="rotate(9 623.7 664.5)" fill="rgb(43,43,43)"/>
<ellipse cx="624.7" cy="665.9" rx="1.1" ry="0.8" transform="rotate(135 624.7 665.9)" fill="rgb(134,134,134)"/>
<ellipse cx="631.2" cy="665.5" rx="0.8" ry="0.8" transform="rotate(95 631.2 665.5)" fill="rgb(111,111,111)"/>
<ellipse cx="633.5" cy="665.5" rx="0.6" ry="0.6" transform="rotate(2 633.5 665.5)" fill="rgb(132,132,132)"/>
<ellipse cx="636.6" cy="665.1" rx="1.0" ry="0.5" transform="rotate(56 636.6 665.1)" fill="rgb(137,137,137)"/>
<ellipse cx="638.3" cy="664.1" rx="0.9" ry="0.8" transform="rotate(81 638.3 664.1)" fill="rgb(42,42,42)"/>
<ellipse cx="640.4" cy="664.2" rx="1.3" ry="0.8" transform="rotate(8 640.4 664.2)" fill="rgb(57,57,57)"/>
<ellipse cx="644.3" cy="665.9" rx="0.7" ry="0.9" transform="rotate(49 644.3 665.9)" fill="rgb(28,28,28)"/>
<ellipse cx="645.8" cy="664.3" rx="0.9" ry="0.8" transform="rotate(158 645.8 664.3)" fill="rgb(155,155,155)"/>
<ellipse cx="651.8" cy="664.8" rx="1.1" ry="0.8" transform="rotate(161 651.8 664.8)" fill="rgb(148,148,148)"/>
<ellipse cx="654.7" cy="665.4" rx="0.7" ry="0.7" transform="rotate(15 654.7 665.4)" fill="rgb(136,136,136)"/>
<ellipse cx="658.2" cy="665.9" rx="0.6" ry="0.4" transform="rotate(139 658.2 665.9)" fill="rgb(186,186,186)"/>
<ellipse cx="658.7" cy="665.3" rx="1.2" ry="0.9" transform="rotate(87 658.7 665.3)" fill="rgb(48,48,48)"/>
<ellipse cx="665.8" cy="666.5" rx="1.4" ry="0.9" transform="rotate(113 665.8 666.5)" fill="rgb(78,78,78)"/>
<ellipse cx="667.5" cy="666.0" rx="1.0" ry="0.7" transform="rotate(88 667.5 666.0)" fill="rgb(177,177,177)"/>
<ellipse cx="668.9" cy="665.8" rx="1.0" ry="0.7" transform="rotate(89 668.9 665.8)" fill="rgb(143,143,143)"/>
<ellipse cx="575.1" cy="668.6" rx="1.1" ry="0.4" transform="rotate(58 575.1 668.6)" fill="rgb(188,188,188)"/>
<ellipse cx="576.6" cy="668.1" rx="1.0" ry="0.7" transform="rotate(81 576.6 668.1)" fill="rgb(142,142,142)"/>
<ellipse cx="583.2" cy="666.9" rx="0.6" ry="0.5" transform="rotate(10 583.2 666.9)" fill="rgb(185,185,185)"/>
<ellipse cx="586.5" cy="667.0" rx="0.6" ry="0.4" transform="rotate(154 586.5 667.0)" fill="rgb(127,127,127)"/>
<ellipse cx="590.7" cy="667.4" rx="0.8" ry="0.7" transform="rotate(66 590.7 667.4)" fill="rgb(142,142,142)"/>
<ellipse cx="601.6" cy="668.8" rx="1.1" ry="0.8" transform="rotate(130 601.6 668.8)" fill="rgb(186,186,186)"/>
<ellipse cx="610.0" cy="667.3" rx="0.9" ry="0.6" transform="rotate(56 610.0 667.3)" fill="rgb(41,41,41)"/>
<ellipse cx="612.5" cy="669.1" rx="0.8" ry="0.4" transform="rotate(51 612.5 669.1)" fill="rgb(156,156,156)"/>
<ellipse cx="618.1" cy="668.2" rx="0.7" ry="0.7" transform="rotate(107 618.1 668.2)" fill="rgb(127,127,127)"/>
<ellipse cx="620.1" cy="668.8" rx="1.1" ry="0.6" transform="rotate(167 620.1 668.8)" fill="rgb(123,123,123)"/>
<ellipse cx="623.0" cy="668.4" rx="0.9" ry="0.4" transform="rotate(137 623.0 668.4)" fill="rgb(160,160,160)"/>
<ellipse cx="625.1" cy="666.8" rx="1.1" ry="0.6" transform="rotate(75 625.1 666.8)" fill="rgb(68,68,68)"/>
<ellipse cx="629.8" cy="668.5" rx="0.6" ry="0.6" transform="rotate(100 629.8 668.5)" fill="rgb(187,187,187)"/>
<ellipse cx="630.7" cy="668.2" rx="1.5" ry="0.7" transform="rotate(117 630.7 668.2)" fill="rgb(24,24,24)"/>
<ellipse cx="634.5" cy="668.7" rx="1.0" ry="0.5" transform="rotate(57 634.5 668.7)" fill="rgb(122,122,122)"/>
<ellipse cx="639.2" cy="667.7" rx="0.8" ry="0.4" transform="rotate(102 639.2 667.7)" fill="rgb(171,171,171)"/>
<ellipse cx="642.7" cy="668.9" rx="0.8" ry="0.4" transform="rotate(6 642.7 668.9)" fill="rgb(138,138,138)"/>
<ellipse cx="645.8" cy="666.6" rx="1.0" ry="0.4" transform="rotate(96 645.8 666.6)" fill="rgb(174,174,174)"/>
<ellipse cx="650.6" cy="669.0" rx="0.5" ry="0.8" transform="rotate(132 650.6 669.0)" fill="rgb(115,115,115)"/>
<ellipse cx="654.4" cy="666.9" rx="1.5" ry="0.8" transform="rotate(85 654.4 666.9)" fill="rgb(56,56,56)"/>
<ellipse cx="657.9" cy="669.0" rx="0.6" ry="0.5" transform="rotate(66 657.9 669.0)" fill="rgb(126,126,126)"/>
<ellipse cx="658.8" cy="667.8" rx="1.1" ry="0.6" transform="rotate(38 658.8 667.8)" fill="rgb(25,25,25)"/>
<ellipse cx="663.4" cy="666.9" rx="0.9" ry="0.5" transform="rotate(93 663.4 666.9)" fill="rgb(190,190,190)"/>
<ellipse cx="664.6" cy="668.6" rx="0.7" ry="0.7" transform="rotate(146 664.6 668.6)" fill="rgb(141,141,141)"/>
<ellipse cx="667.2" cy="668.8" rx="0.8" ry="0.8" transform="rotate(167 667.2 668.8)" fill="rgb(110,110,110)"/>
<ellipse cx="670.4" cy="668.6" rx="0.7" ry="0.6" transform="rotate(15 670.4 668.6)" fill="rgb(164,164,164)"/>
<ellipse cx="673.6" cy="668.6" rx="1.0" ry="0.6" transform="rotate(63 673.6 668.6)" fill="rgb(60,60,60)"/>
<ellipse cx="676.6" cy="668.0" rx="1.0" ry="0.9" transform="rotate(106 676.6 668.0)" fill="rgb(25,25,25)"/>
<ellipse cx="678.4" cy="667.9" rx="1.0" ry="0.6" transform="rotate(73 678.4 667.9)" fill="rgb(145,145,145)"/>
<ellipse cx="571.4" cy="670.8" rx="1.0" ry="0.7" transform="rotate(141 571.4 670.8)" fill="rgb(63,63,63)"/>
<ellipse cx="574.4" cy="669.7" rx="1.0" ry="0.5" transform="rotate(175 574.4 669.7)" fill="rgb(154,154,154)"/>
<ellipse cx="577.6" cy="671.0" rx="0.9" ry="0.4" transform="rotate(157 577.6 671.0)" fill="rgb(122,122,122)"/>
<ellipse cx="578.9" cy="670.3" rx="0.8" ry="0.7" transform="rotate(29 578.9 670.3)" fill="rgb(182,182,182)"/>
<ellipse cx="582.0" cy="669.3" rx="0.6" ry="0.8" transform="rotate(121 582.0 669.3)" fill="rgb(150,150,150)"/>
<ellipse cx="585.2" cy="669.4" rx="0.9" ry="0.7" transform="rotate(82 585.2 669.4)" fill="rgb(143,143,143)"/>
<ellipse cx="587.1" cy="671.3" rx="1.0" ry="0.5" transform="rotate(154 587.1 671.3)" fill="rgb(176,176,176)"/>
<ellipse cx="590.8" cy="669.7" rx="1.3" ry="0.9" transform="rotate(71 590.8 669.7)" fill="rgb(82,82,82)"/>
<ellipse cx="592.9" cy="670.6" rx="0.6" ry="0.5" transform="rotate(139 592.9 670.6)" fill="rgb(112,112,112)"/>
<ellipse cx="594.8" cy="670.1" rx="0.8" ry="0.7" transform="rotate(157 594.8 670.1)" fill="rgb(82,82,82)"/>
<ellipse cx="601.9" cy="670.1" rx="1.0" ry="0.4" transform="rotate(121 601.9 670.1)" fill="rgb(186,186,186)"/>
<ellipse cx="605.3" cy="670.3" rx="0.7" ry="0.7" transform="rotate(18 605.3 670.3)" fill="rgb(166,166,166)"/>
<ellipse cx="609.9" cy="670.0" rx="0.8" ry="0.6" transform="rotate(41 609.9 670.0)" fill="rgb(21,21,21)"/>
<ellipse cx="612.2" cy="671.8" rx="1.2" ry="0.6" transform="rotate(84 612.2 671.8)" fill="rgb(52,52,52)"/>
<ellipse cx="614.6" cy="670.7" rx="1.2" ry="0.7" transform="rotate(137 614.6 670.7)" fill="rgb(50,50,50)"/>
<ellipse cx="617.5" cy="671.0" rx="0.8" ry="1.0" transform="rotate(42 617.5 671.0)" fill="rgb(26,26,26)"/>
<ellipse cx="620.4" cy="670.7" rx="0.6" ry="0.7" transform="rotate(48 620.4 670.7)" fill="rgb(118,118,118)"/>
<ellipse cx="625.1" cy="671.3" rx="1.3" ry="0.9" transform="rotate(36 625.1 671.3)" fill="rgb(60,60,60)"/>
<ellipse cx="630.8" cy="670.0" rx="0.8" ry="0.8" transform="rotate(72 630.8 670.0)" fill="rgb(130,130,130)"/>
<ellipse cx="634.1" cy="671.1" rx="0.8" ry="0.6" transform="rotate(86 634.1 671.1)" fill="rgb(152,152,152)"/>
<ellipse cx="635.2" cy="670.5" rx="0.8" ry="0.6" transform="rotate(164 635.2 670.5)" fill="rgb(171,171,171)"/>
<ellipse cx="640.9" cy="671.1" rx="0.8" ry="0.4" transform="rotate(4 640.9 671.1)" fill="rgb(139,139,139)"/>
<ellipse cx="647.7" cy="670.5" rx="0.7" ry="0.6" transform="rotate(10 647.7 670.5)" fill="rgb(166,166,166)"/>
<ellipse cx="650.3" cy="669.6" rx="0.7" ry="0.6" transform="rotate(152 650.3 669.6)" fill="rgb(169,169,169)"/>
<ellipse cx="655.2" cy="669.2" rx="1.1" ry="0.4" transform="rotate(66 655.2 669.2)" fill="rgb(110,110,110)"/>
<ellipse cx="657.1" cy="671.5" rx="1.2" ry="0.8" transform="rotate(97 657.1 671.5)" fill="rgb(52,52,52)"/>
<ellipse cx="658.6" cy="670.2" rx="0.6" ry="0.5" transform="rotate(64 658.6 670.2)" fill="rgb(136,136,136)"/>
<ellipse cx="663.1" cy="670.3" rx="0.9" ry="0.4" transform="rotate(123 663.1 670.3)" fill="rgb(126,126,126)"/>
<ellipse cx="666.9" cy="670.6" rx="0.8" ry="0.6" transform="rotate(42 666.9 670.6)" fill="rgb(154,154,154)"/>
<ellipse cx="670.4" cy="671.5" rx="0.6" ry="0.6" transform="rotate(156 670.4 671.5)" fill="rgb(176,176,176)"/>
<ellipse cx="672.4" cy="671.0" rx="1.1" ry="0.7" transform="rotate(92 672.4 671.0)" fill="rgb(66,66,66)"/>
<ellipse cx="674.4" cy="670.2" rx="0.8" ry="0.9" transform="rotate(148 674.4 670.2)" fill="rgb(48,48,48)"/>
<ellipse cx="678.1" cy="670.8" rx="1.4" ry="0.8" transform="rotate(55 678.1 670.8)" fill="rgb(25,25,25)"/>
<ellipse cx="572.0" cy="673.2" rx="1.1" ry="0.7" transform="rotate(151 572.0 673.2)" fill="rgb(125,125,125)"/>
<ellipse cx="577.6" cy="673.5" rx="0.8" ry="0.4" transform="rotate(150 577.6 673.5)" fill="rgb(136,136,136)"/>
<ellipse cx="580.5" cy="672.8" rx="1.2" ry="0.7" transform="rotate(74 580.5 672.8)" fill="rgb(71,71,71)"/>
<ellipse cx="586.8" cy="672.9" rx="0.8" ry="0.6" transform="rotate(88 586.8 672.9)" fill="rgb(26,26,26)"/>
<ellipse cx="590.0" cy="672.0" rx="0.9" ry="0.5" transform="rotate(177 590.0 672.0)" fill="rgb(140,140,140)"/>
<ellipse cx="591.0" cy="672.6" rx="0.9" ry="0.6" transform="rotate(122 591.0 672.6)" fill="rgb(23,23,23)"/>
<ellipse cx="594.1" cy="674.4" rx="0.6" ry="0.7" transform="rotate(10 594.1 674.4)" fill="rgb(185,185,185)"/>
<ellipse cx="597.2" cy="674.2" rx="0.6" ry="0.4" transform="rotate(63 597.2 674.2)" fill="rgb(119,119,119)"/>
<ellipse cx="599.9" cy="673.0" rx="1.2" ry="0.9" transform="rotate(2 599.9 673.0)" fill="rgb(23,23,23)"/>
<ellipse cx="602.3" cy="673.8" rx="1.1" ry="0.9" transform="rotate(77 602.3 673.8)" fill="rgb(88,88,88)"/>
<ellipse cx="604.2" cy="674.0" rx="1.4" ry="0.6" transform="rotate(130 604.2 674.0)" fill="rgb(57,57,57)"/>
<ellipse cx="606.7" cy="674.3" rx="1.0" ry="0.5" transform="rotate(68 606.7 674.3)" fill="rgb(179,179,179)"/>
<ellipse cx="610.8" cy="673.6" rx="1.1" ry="0.6" transform="rotate(19 610.8 673.6)" fill="rgb(169,169,169)"/>
<ellipse cx="613.7" cy="673.7" rx="0.9" ry="0.5" transform="rotate(22 613.7 673.7)" fill="rgb(143,143,143)"/>
<ellipse cx="615.7" cy="672.4" rx="0.6" ry="0.7" transform="rotate(24 615.7 672.4)" fill="rgb(118,118,118)"/>
<ellipse cx="616.9" cy="673.3" rx="1.3" ry="0.8" transform="rotate(147 616.9 673.3)" fill="rgb(27,27,27)"/>
<ellipse cx="621.1" cy="674.0" rx="0.7" ry="0.4" transform="rotate(123 621.1 674.0)" fill="rgb(190,190,190)"/>
<ellipse cx="629.1" cy="672.6" rx="0.8" ry="0.7" transform="rotate(88 629.1 672.6)" fill="rgb(132,132,132)"/>
<ellipse cx="630.8" cy="673.8" rx="1.5" ry="0.6" transform="rotate(76 630.8 673.8)" fill="rgb(56,56,56)"/>
<ellipse cx="638.4" cy="673.6" rx="0.7" ry="0.6" transform="rotate(94 638.4 673.6)" fill="rgb(166,166,166)"/>
<ellipse cx="642.6" cy="673.9" rx="0.6" ry="0.8" transform="rotate(72 642.6 673.9)" fill="rgb(179,179,179)"/>
<ellipse cx="646.2" cy="672.3" rx="1.0" ry="0.7" transform="rotate(109 646.2 672.3)" fill="rgb(124,124,124)"/>
<ellipse cx="648.7" cy="672.2" rx="0.8" ry="0.7" transform="rotate(53 648.7 672.2)" fill="rgb(126,126,126)"/>
<ellipse cx="651.8" cy="674.3" rx="1.1" ry="0.8" transform="rotate(24 651.8 674.3)" fill="rgb(62,62,62)"/>
<ellipse cx="654.1" cy="672.7" rx="0.7" ry="0.7" transform="rotate(125 654.1 672.7)" fill="rgb(183,183,183)"/>
<ellipse cx="656.8" cy="672.2" rx="0.7" ry="0.4" transform="rotate(94 656.8 672.2)" fill="rgb(169,169,169)"/>
<ellipse cx="659.6" cy="673.6" rx="0.8" ry="0.9" transform="rotate(132 659.6 673.6)" fill="rgb(25,25,25)"/>
<ellipse cx="662.2" cy="672.9" rx="0.9" ry="0.7" transform="rotate(78 662.2 672.9)" fill="rgb(87,87,87)"/>
<ellipse cx="665.6" cy="673.0" rx="1.1" ry="0.7" transform="rotate(64 665.6 673.0)" fill="rgb(175,175,175)"/>
<ellipse cx="667.6" cy="674.3" rx="1.1" ry="1.0" transform="rotate(118 667.6 674.3)" fill="rgb(92,92,92)"/>
<ellipse cx="670.2" cy="673.7" rx="1.0" ry="0.7" transform="rotate(46 670.2 673.7)" fill="rgb(139,139,139)"/>
<ellipse cx="673.3" cy="672.5" rx="1.0" ry="0.4" transform="rotate(94 673.3 672.5)" fill="rgb(141,141,141)"/>
<ellipse cx="674.6" cy="672.6" rx="0.9" ry="0.5" transform="rotate(32 674.6 672.6)" fill="rgb(118,118,118)"/>
<ellipse cx="678.8" cy="672.7" rx="0.9" ry="0.9" transform="rotate(33 678.8 672.7)" fill="rgb(95,95,95)"/>
<ellipse cx="571.1" cy="675.0" rx="1.3" ry="0.7" transform="rotate(175 571.1 675.0)" fill="rgb(21,21,21)"/>
<ellipse cx="574.0" cy="676.8" rx="0.6" ry="0.7" transform="rotate(155 574.0 676.8)" fill="rgb(188,188,188)"/>
<ellipse cx="575.5" cy="676.7" rx="0.9" ry="0.7" transform="rotate(78 575.5 676.7)" fill="rgb(151,151,151)"/>
<ellipse cx="580.2" cy="677.0" rx="0.6" ry="0.5" transform="rotate(80 580.2 677.0)" fill="rgb(172,172,172)"/>
<ellipse cx="581.1" cy="674.5" rx="0.8" ry="0.5" transform="rotate(47 581.1 674.5)" fill="rgb(161,161,161)"/>
<ellipse cx="584.2" cy="675.0" rx="1.4" ry="0.7" transform="rotate(174 584.2 675.0)" fill="rgb(57,57,57)"/>
<ellipse cx="586.7" cy="675.4" rx="0.8" ry="0.9" transform="rotate(147 586.7 675.4)" fill="rgb(55,55,55)"/>
<ellipse cx="590.6" cy="675.0" rx="0.8" ry="0.8" transform="rotate(96 590.6 675.0)" fill="rgb(89,89,89)"/>
<ellipse cx="591.4" cy="674.5" rx="0.8" ry="0.4" transform="rotate(33 591.4 674.5)" fill="rgb(131,131,131)"/>
<ellipse cx="595.5" cy="676.4" rx="0.8" ry="0.5" transform="rotate(58 595.5 676.4)" fill="rgb(127,127,127)"/>
<ellipse cx="597.2" cy="674.5" rx="1.4" ry="0.7" transform="rotate(137 597.2 674.5)" fill="rgb(35,35,35)"/>
<ellipse cx="601.6" cy="675.0" rx="1.1" ry="0.9" transform="rotate(33 601.6 675.0)" fill="rgb(23,23,23)"/>
<ellipse cx="605.7" cy="675.8" rx="0.9" ry="0.5" transform="rotate(47 605.7 675.8)" fill="rgb(131,131,131)"/>
<ellipse cx="611.2" cy="676.8" rx="1.0" ry="0.9" transform="rotate(48 611.2 676.8)" fill="rgb(59,59,59)"/>
<ellipse cx="612.9" cy="675.7" rx="0.6" ry="0.6" transform="rotate(31 612.9 675.7)" fill="rgb(142,142,142)"/>
<ellipse cx="616.2" cy="676.7" rx="0.6" ry="0.6" transform="rotate(125 616.2 676.7)" fill="rgb(147,147,147)"/>
<ellipse cx="617.0" cy="676.1" rx="0.8" ry="0.7" transform="rotate(165 617.0 676.1)" fill="rgb(163,163,163)"/>
<ellipse cx="620.3" cy="675.9" rx="1.1" ry="0.8" transform="rotate(123 620.3 675.9)" fill="rgb(59,59,59)"/>
<ellipse cx="625.6" cy="676.6" rx="0.8" ry="0.8" transform="rotate(159 625.6 676.6)" fill="rgb(147,147,147)"/>
<ellipse cx="628.8" cy="676.4" rx="1.4" ry="1.0" transform="rotate(71 628.8 676.4)" fill="rgb(95,95,95)"/>
<ellipse cx="638.5" cy="676.2" rx="0.9" ry="0.6" transform="rotate(91 638.5 676.2)" fill="rgb(139,139,139)"/>
<ellipse cx="641.3" cy="676.0" rx="0.6" ry="0.5" transform="rotate(94 641.3 676.0)" fill="rgb(150,150,150)"/>
<ellipse cx="645.5" cy="674.8" rx="0.9" ry="0.6" transform="rotate(129 645.5 674.8)" fill="rgb(135,135,135)"/>
<ellipse cx="648.9" cy="676.4" rx="0.9" ry="0.8" transform="rotate(51 648.9 676.4)" fill="rgb(155,155,155)"/>
<ellipse cx="652.4" cy="675.9" rx="1.4" ry="0.7" transform="rotate(5 652.4 675.9)" fill="rgb(58,58,58)"/>
<ellipse cx="654.4" cy="676.8" rx="1.2" ry="0.6" transform="rotate(61 654.4 676.8)" fill="rgb(87,87,87)"/>
<ellipse cx="657.2" cy="676.1" rx="0.7" ry="0.9" transform="rotate(16 657.2 676.1)" fill="rgb(84,84,84)"/>
<ellipse cx="661.8" cy="676.9" rx="1.4" ry="0.6" transform="rotate(130 661.8 676.9)" fill="rgb(77,77,77)"/>
<ellipse cx="671.2" cy="675.0" rx="1.0" ry="0.6" transform="rotate(61 671.2 675.0)" fill="rgb(165,165,165)"/>
<ellipse cx="672.1" cy="675.4" rx="0.7" ry="0.5" transform="rotate(103 672.1 675.4)" fill="rgb(119,119,119)"/>
<ellipse cx="674.8" cy="674.4" rx="1.4" ry="1.0" transform="rotate(50 674.8 674.4)" fill="rgb(22,22,22)"/>
<ellipse cx="679.0" cy="675.5" rx="1.0" ry="0.7" transform="rotate(51 679.0 675.5)" fill="rgb(148,148,148)"/>
</g>
<polygon points="406.50,627.30 510.00,627.30 510.00,673.50 414.00,673.50 410.00,656.00 406.50,640.00" fill="none" stroke="#2a2a2a" stroke-width="1.78"/>
<polygon points="573.00,627.30 666.50,627.30 667.00,649.00 674.50,673.00 573.00,673.50" fill="none" stroke="#2a2a2a" stroke-width="1.78"/>
<line x1="510.50" y1="627.00" x2="510.50" y2="673.50" stroke="#111" stroke-width="2.6" />
<line x1="573.00" y1="627.00" x2="573.00" y2="673.50" stroke="#111" stroke-width="2.6" />
<line x1="570.70" y1="627.00" x2="570.70" y2="673.50" stroke="#3a3a3a" stroke-width="1.15" />
<rect x="488.5" y="673.5" width="106" height="10" fill="#fff" stroke="#3a3a3a" stroke-width="1.49"/>
<line x1="501.90" y1="683.50" x2="501.90" y2="707.00" stroke="#3a3a3a" stroke-width="1.49" />
<line x1="582.00" y1="683.50" x2="582.00" y2="707.00" stroke="#3a3a3a" stroke-width="1.49" />
<path d="M501.9,683.5 L524,692.1 L524,683.5" fill="none" stroke="#3a3a3a" stroke-width="1.49"/>
<path d="M582,690.5 L589.5,683.5" fill="none" stroke="#3a3a3a" stroke-width="1.49"/>
<line x1="509.40" y1="679.00" x2="509.40" y2="703.00" stroke="#4a4a4a" stroke-width="1.44" />
<line x1="573.75" y1="679.00" x2="573.75" y2="703.00" stroke="#4a4a4a" stroke-width="1.44" />
<line x1="509.40" y1="700.00" x2="768.40" y2="700.00" stroke="#4a4a4a" stroke-width="1.44" />
<polygon points="509.40,700.00 532.40,695.10 532.40,704.90" fill="#111"/>
<polygon points="573.75,700.00 551.25,704.90 551.25,695.10" fill="#111"/>
<text x="692" y="690.5" font-size="40" fill="#111" stroke="#111" stroke-width="0.35" text-anchor="start">Ø35</text>
<path d="M493.6,707.5 L589.6,707.5 L589.6,714 Q592,717.5 589.6,721 L493.6,721 Q491.2,717.5 493.6,714 Z" fill="#fff" stroke="#3a3a3a" stroke-width="1.49"/>
<line x1="493.60" y1="710.50" x2="589.60" y2="710.50" stroke="#777" stroke-width="1.15" />
<line x1="493.60" y1="712.80" x2="589.60" y2="712.80" stroke="#777" stroke-width="1.15" />
<line x1="493.60" y1="715.20" x2="589.60" y2="715.20" stroke="#777" stroke-width="1.15" />
<line x1="493.60" y1="717.50" x2="589.60" y2="717.50" stroke="#777" stroke-width="1.15" />
<line x1="516.50" y1="715.00" x2="516.50" y2="721.00" stroke="#444" stroke-width="1.38" />
<line x1="532.50" y1="715.00" x2="532.50" y2="721.00" stroke="#444" stroke-width="1.38" />
<line x1="550.30" y1="715.00" x2="550.30" y2="721.00" stroke="#444" stroke-width="1.38" />
<line x1="565.30" y1="715.00" x2="565.30" y2="721.00" stroke="#444" stroke-width="1.38" />
<rect x="499" y="721" width="84.5" height="15.3" fill="#fff" stroke="#3a3a3a" stroke-width="1.49"/>
<line x1="519.50" y1="721.00" x2="519.50" y2="736.30" stroke="#666" stroke-width="1.15" />
<line x1="522.50" y1="721.00" x2="522.50" y2="736.30" stroke="#666" stroke-width="1.15" />
<line x1="561.00" y1="721.00" x2="561.00" y2="736.30" stroke="#666" stroke-width="1.15" />
<line x1="564.00" y1="721.00" x2="564.00" y2="736.30" stroke="#666" stroke-width="1.15" />
<rect x="510.75" y="736.3" width="61.5" height="23" fill="#fff" stroke="#3a3a3a" stroke-width="1.72"/>
<rect x="535.5" y="721" width="10.5" height="22" fill="#fff" stroke="#3a3a3a" stroke-width="1.38"/>
<path d="M533.5,743 L549,743 Q550,749.7 541,749.7 Q532.5,749.7 533.5,743 Z" fill="#fff" stroke="#3a3a3a" stroke-width="1.38"/>
<line x1="510.00" y1="764.00" x2="510.00" y2="800.00" stroke="#4a4a4a" stroke-width="1.44" />
<line x1="573.00" y1="764.00" x2="573.00" y2="800.00" stroke="#4a4a4a" stroke-width="1.44" />
<line x1="322.00" y1="793.70" x2="573.00" y2="793.70" stroke="#4a4a4a" stroke-width="1.44" />
<polygon points="510.00,793.70 530.50,788.80 530.50,798.60" fill="#111"/>
<polygon points="573.00,793.70 550.50,798.60 550.50,788.80" fill="#111"/>
<text x="325" y="782" font-size="40" fill="#111" stroke="#111" stroke-width="0.35" text-anchor="start">M34x1.5</text>
</svg></body></html>
